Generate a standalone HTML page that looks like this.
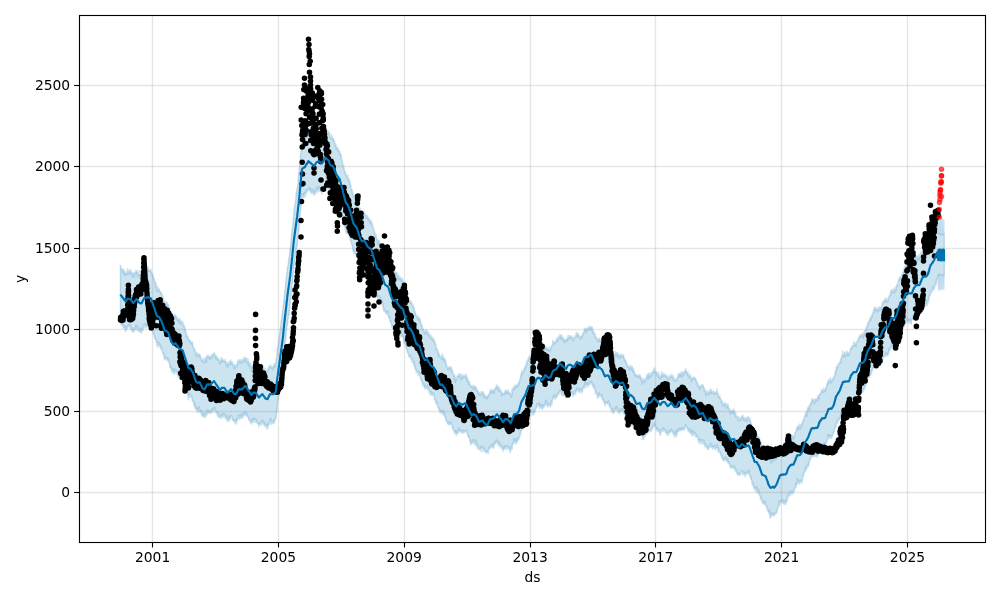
<!DOCTYPE html>
<html lang="en"><head><meta charset="utf-8"><title>Forecast</title>
<style>html,body{margin:0;padding:0;background:#fff}svg{display:block}</style></head>
<body>
<svg width="1000" height="600" viewBox="0 0 1000 600">
<rect width="1000" height="600" fill="#fff"/>
<defs><clipPath id="c"><rect x="79.5" y="15.5" width="906.0" height="527.0"/></clipPath></defs>
<g clip-path="url(#c)">
<path d="M120.4,265.3 120.6,266 120.7,268.6 120.9,265.7 121.1,269.1 121.3,268.5 121.4,268.2 121.6,269.3 121.8,269.4 121.9,270.6 122.1,268.8 122.3,269.2 122.5,269.5 122.6,272.4 122.8,271.4 123,269.3 123.2,270.3 123.3,270.1 123.5,271.2 123.7,271.7 123.8,274.5 124,269.6 124.2,273.4 124.4,272.9 124.5,271.7 124.7,272.6 124.9,272.4 125,273.3 125.2,274.8 125.4,271.8 125.6,275.6 125.7,273.5 125.9,275.6 126.1,274 126.3,274.8 126.4,273.7 126.6,274.1 126.8,272.6 126.9,271.3 127.1,272.9 127.3,272.7 127.5,274.2 127.6,268.8 127.8,271.1 128,272.7 128.1,269.8 128.3,271.1 128.5,274 128.7,273.1 128.8,270.3 129,273.2 129.2,272.9 129.4,272.4 129.5,271.9 129.7,271.7 129.9,270.4 130,270.8 130.2,272.5 130.4,272 130.6,274.3 130.7,271.8 130.9,269.5 131.1,272.3 131.2,273.3 131.4,273.7 131.6,273.5 131.8,272.6 131.9,275.8 132.1,273.3 132.3,275.2 132.5,274.2 132.6,273.3 132.8,276.8 133,272.2 133.1,274.5 133.3,275.9 133.5,274.7 133.7,275.9 133.8,274.6 134,274 134.2,277.1 134.3,273.9 134.5,273.8 134.7,272.4 134.9,272.6 135,274.2 135.2,273.9 135.4,273 135.6,271.9 135.7,273.5 135.9,270.3 136.1,271.8 136.2,271.7 136.4,270.8 136.6,271.8 136.8,270.9 136.9,270.9 137.1,274.4 137.3,273.3 137.4,274.1 137.6,272.9 137.8,274.3 138,274.3 138.1,275.1 138.3,276.8 138.5,273.8 138.7,274.6 138.8,274.4 139,270.3 139.2,273.2 139.3,275.2 139.5,276.2 139.7,274.9 139.9,277.1 140,277.3 140.2,275.2 140.4,277.5 140.5,277.9 140.7,276.3 140.9,274.5 141.1,277.6 141.2,275.6 141.4,275.3 141.6,276 141.8,275 141.9,276.6 142.1,275.9 142.3,276 142.4,274.9 142.6,272.8 142.8,273.2 143,274.1 143.1,272.2 143.3,276 143.5,271.6 143.6,270.8 143.8,272.6 144,271.8 144.2,270.5 144.3,270.2 144.5,271 144.7,271.5 144.9,271.4 145,270 145.2,270.9 145.4,271.4 145.5,271.3 145.7,266.4 145.9,269.1 146.1,269.3 146.2,269.9 146.4,270.4 146.6,271.3 146.7,270.9 146.9,269.9 147.1,270.1 147.3,272.3 147.4,269.3 147.6,270.4 147.8,271.8 148,270.1 148.1,267.1 148.3,270.2 148.5,269.3 148.6,269.8 148.8,271.3 149,270.7 149.2,269.8 149.3,271.3 149.5,270.9 149.7,270.5 149.8,270.9 150,270.9 150.2,270.2 150.4,270.2 150.5,270.8 150.7,269.7 150.9,269.4 151.1,272.7 151.2,271.2 151.4,271.9 151.6,272.3 151.7,273 151.9,273.5 152.1,274.1 152.3,273.5 152.4,276.2 152.6,274.7 152.8,277.4 152.9,274.2 153.1,275.8 153.3,278.9 153.5,278 153.6,277.8 153.8,279.7 154,278.4 154.2,280.3 154.3,278 154.5,280.7 154.7,281 154.8,283 155,283.9 155.2,282.3 155.4,285.9 155.5,283.6 155.7,282.3 155.9,282.4 156,287.8 156.2,286.3 156.4,286.1 156.6,286.5 156.7,286.6 156.9,290.2 157.1,288.9 157.3,291.3 157.4,288.9 157.6,286.2 157.8,290.3 157.9,288.8 158.1,289 158.3,291.3 158.5,289.1 158.6,290.9 158.8,289.5 159,288.6 159.1,290.3 159.3,289.2 159.5,291.8 159.7,291.7 159.8,290.9 160,291.9 160.2,292.1 160.4,291.3 160.5,293.1 160.7,292 160.9,293.3 161,291.7 161.2,293.3 161.4,294 161.6,292.7 161.7,293.7 161.9,294 162.1,296.1 162.2,294.8 162.4,296.8 162.6,298.7 162.8,297.7 162.9,295.8 163.1,298.5 163.3,300.1 163.5,299 163.6,301.3 163.8,301.2 164,301.4 164.1,301.1 164.3,301.3 164.5,302.1 164.7,302.9 164.8,303.6 165,303.5 165.2,302.7 165.3,303.3 165.5,303.7 165.7,301.3 165.9,302.5 166,302.5 166.2,303.4 166.4,303.3 166.5,303.5 166.7,302.8 166.9,304.8 167.1,304.4 167.2,302.1 167.4,304.2 167.6,302.9 167.8,306.5 167.9,303.9 168.1,304.1 168.3,305.2 168.4,305.3 168.6,306 168.8,308.6 169,307.4 169.1,308.7 169.3,309.6 169.5,307.5 169.6,311.3 169.8,310.6 170,311.4 170.2,309.7 170.3,312.3 170.5,312.3 170.7,311.6 170.9,315.7 171,314 171.2,313.4 171.4,314.3 171.5,315.5 171.7,316 171.9,315.6 172.1,316.7 172.2,317.4 172.4,314.3 172.6,315.5 172.7,315.3 172.9,316.8 173.1,318.8 173.3,317.8 173.4,315.6 173.6,316.4 173.8,318 174,315.9 174.1,316.4 174.3,316.8 174.5,314.1 174.6,317.2 174.8,316.6 175,316.8 175.2,314.8 175.3,315 175.5,315.1 175.7,316.2 175.8,316.2 176,316.6 176.2,318.9 176.4,318.6 176.5,316.3 176.7,316.6 176.9,319.9 177.1,317.6 177.2,319.9 177.4,320.5 177.6,318.1 177.7,318.7 177.9,319.4 178.1,318.4 178.3,318.5 178.4,319.5 178.6,321.4 178.8,320 178.9,320.5 179.1,320.5 179.3,319.4 179.5,323.1 179.6,318.4 179.8,320.6 180,322.2 180.2,319.8 180.3,322.4 180.5,323.3 180.7,320.7 180.8,322.1 181,320.6 181.2,322.7 181.4,322.2 181.5,322.5 181.7,324 181.9,323 182,324.1 182.2,323.3 182.4,321.1 182.6,323.1 182.7,323.9 182.9,322 183.1,325.9 183.3,324.9 183.4,325.8 183.6,324.7 183.8,326.4 183.9,327.2 184.1,327 184.3,328 184.5,325.8 184.6,330.6 184.8,328 185,327.2 185.1,329.3 185.3,329.9 185.5,332.2 185.7,330.9 185.8,332.9 186,331.8 186.2,336.3 186.4,334.8 186.5,337 186.7,333.8 186.9,336.5 187,334.9 187.2,337.4 187.4,338 187.6,335.7 187.7,336.8 187.9,337.3 188.1,337.4 188.2,338.8 188.4,339.1 188.6,338.9 188.8,340.8 188.9,341.4 189.1,339.2 189.3,340.1 189.5,340.9 189.6,340.6 189.8,340.1 190,342 190.1,342.1 190.3,341.9 190.5,340.9 190.7,343.8 190.8,343.8 191,341.4 191.2,342.1 191.3,344 191.5,341.8 191.7,343.6 191.9,343.4 192,342.8 192.2,343.7 192.4,342.3 192.6,343.9 192.7,342.3 192.9,348 193.1,347.3 193.2,347.5 193.4,346.9 193.6,348.2 193.8,349.1 193.9,349.3 194.1,349.7 194.3,347.9 194.4,350.1 194.6,349.4 194.8,349.1 195,349.7 195.1,352.2 195.3,353.5 195.5,351 195.7,355.4 195.8,355.5 196,353.7 196.2,353.9 196.3,354.4 196.5,355.8 196.7,354.2 196.9,353.4 197,355.3 197.2,352.4 197.4,355.2 197.5,356.6 197.7,355.6 197.9,356.3 198.1,355.9 198.2,356.1 198.4,355.3 198.6,354 198.8,354.7 198.9,354.8 199.1,356.4 199.3,356.8 199.4,355.2 199.6,353.8 199.8,354.2 200,355.2 200.1,357.5 200.3,356.5 200.5,356.4 200.6,355.9 200.8,358.3 201,357.9 201.2,357.8 201.3,358.3 201.5,360.7 201.7,358.7 201.9,361.4 202,361.2 202.2,360 202.4,361.4 202.5,360.5 202.7,359.8 202.9,360.6 203.1,359.9 203.2,361.8 203.4,361.3 203.6,362.2 203.7,362.6 203.9,357.8 204.1,362.2 204.3,359.6 204.4,362.1 204.6,360.7 204.8,361.6 205,362.8 205.1,358.7 205.3,360.7 205.5,360 205.6,357.4 205.8,360.2 206,359.1 206.2,358.1 206.3,357.5 206.5,362.1 206.7,357.2 206.8,355.1 207,355.9 207.2,356.5 207.4,356.5 207.5,356.9 207.7,355.7 207.9,357.7 208,356.4 208.2,355.3 208.4,356 208.6,356.5 208.7,358 208.9,357.6 209.1,356.6 209.3,357 209.4,357.3 209.6,359.5 209.8,356.2 209.9,357.6 210.1,357.9 210.3,355.8 210.5,357.2 210.6,357.1 210.8,356.2 211,357.3 211.1,357.7 211.3,357.6 211.5,355.8 211.7,356.1 211.8,358.6 212,354.2 212.2,355.6 212.4,356.3 212.5,355.2 212.7,355.7 212.9,354.9 213,355.4 213.2,355.9 213.4,353.9 213.6,354.2 213.7,353.7 213.9,353.1 214.1,353.6 214.2,352.5 214.4,355.1 214.6,356.6 214.8,356.8 214.9,356.5 215.1,354 215.3,357.4 215.5,354.8 215.6,355.9 215.8,358.6 216,355.2 216.1,357.8 216.3,357.4 216.5,357.1 216.7,356.5 216.8,358.3 217,357.5 217.2,359.6 217.3,360.1 217.5,357.1 217.7,358.5 217.9,359 218,358.1 218.2,358.5 218.4,360.3 218.6,360.1 218.7,358.6 218.9,360.3 219.1,361.8 219.2,359.9 219.4,360.6 219.6,364 219.8,363.9 219.9,360.5 220.1,360.8 220.3,362.7 220.4,360.5 220.6,361.5 220.8,361 221,362.1 221.1,358 221.3,358.2 221.5,359.2 221.7,361.8 221.8,360.1 222,358 222.2,360.8 222.3,361.1 222.5,359.9 222.7,359.8 222.9,360.8 223,361.8 223.2,360.6 223.4,361.1 223.5,360.4 223.7,360 223.9,359.4 224.1,360.9 224.2,360.2 224.4,360.3 224.6,361.9 224.8,361.6 224.9,362.4 225.1,359.6 225.3,362.5 225.4,361.3 225.6,361.3 225.8,361.5 226,364.4 226.1,364.1 226.3,362.5 226.5,362.2 226.6,363.9 226.8,363.6 227,366.5 227.2,362.8 227.3,362.6 227.5,364.8 227.7,365 227.9,365 228,365.6 228.2,367.1 228.4,363.9 228.5,363.5 228.7,361.8 228.9,364.1 229.1,364.7 229.2,363.1 229.4,364.8 229.6,363.2 229.7,364.8 229.9,363.2 230.1,361.3 230.3,361.6 230.4,360.3 230.6,359.9 230.8,362.3 231,362.8 231.1,364.3 231.3,362.1 231.5,362.1 231.6,361.3 231.8,364.2 232,363.7 232.2,362.7 232.3,364.6 232.5,364.7 232.7,361.9 232.8,365.4 233,364.9 233.2,364.5 233.4,364.8 233.5,367.7 233.7,367.7 233.9,368.3 234.1,364.8 234.2,365.5 234.4,367.5 234.6,364.9 234.7,365.5 234.9,364.2 235.1,368.8 235.3,367.9 235.4,367.2 235.6,366.9 235.8,366.2 235.9,366.2 236.1,367.3 236.3,365.3 236.5,367.4 236.6,364.9 236.8,364.1 237,366.4 237.2,364.3 237.3,364.8 237.5,363.3 237.7,360.6 237.8,363.8 238,361.1 238.2,363.8 238.4,360.1 238.5,359.5 238.7,362.2 238.9,362.3 239,361.9 239.2,360.3 239.4,362.9 239.6,360 239.7,361.2 239.9,360.8 240.1,361.3 240.3,362.9 240.4,361 240.6,362.5 240.8,362.7 240.9,359.7 241.1,360.4 241.3,361.3 241.5,361.1 241.6,362.2 241.8,359.4 242,362.7 242.1,362.6 242.3,361.3 242.5,359.6 242.7,361.2 242.8,360.3 243,361.5 243.2,360.5 243.4,361.4 243.5,359.7 243.7,361.9 243.9,357.1 244,358.5 244.2,360.2 244.4,357.5 244.6,360.2 244.7,357.6 244.9,359 245.1,357.6 245.2,358 245.4,358.6 245.6,358.4 245.8,358.3 245.9,361.8 246.1,359.3 246.3,358.4 246.5,361 246.6,361.1 246.8,361.9 247,362.9 247.1,359.7 247.3,362.5 247.5,362.8 247.7,361.7 247.8,362.2 248,358.4 248.2,361.7 248.3,365 248.5,360.7 248.7,362.6 248.9,363.9 249,364.5 249.2,366.1 249.4,362.1 249.6,364.6 249.7,365.9 249.9,363.4 250.1,365.3 250.2,367.9 250.4,367.5 250.6,366.8 250.8,363.1 250.9,366.5 251.1,367.4 251.3,366.8 251.4,367.3 251.6,371.1 251.8,366.7 252,365.6 252.1,366.9 252.3,366 252.5,365.7 252.6,365.8 252.8,366.7 253,365.8 253.2,363.8 253.3,364.9 253.5,365.5 253.7,364.4 253.9,366.5 254,366 254.2,363.8 254.4,365.5 254.5,367.6 254.7,367.1 254.9,365.2 255.1,366.4 255.2,364.5 255.4,363.5 255.6,366.1 255.7,365.7 255.9,366.1 256.1,365.6 256.3,366.3 256.4,365.6 256.6,367 256.8,367.8 257,366.9 257.1,368.2 257.3,365.3 257.5,366.8 257.6,369.8 257.8,370.5 258,368.8 258.2,368.7 258.3,367.5 258.5,369.8 258.7,370.5 258.8,368 259,370.6 259.2,370.4 259.4,370.1 259.5,368 259.7,369.9 259.9,367.2 260.1,370.8 260.2,368.9 260.4,367.1 260.6,370.1 260.7,369.7 260.9,367.2 261.1,370.6 261.3,366.4 261.4,367.9 261.6,368.8 261.8,364.3 261.9,368.3 262.1,366.8 262.3,366.7 262.5,365.2 262.6,367.2 262.8,365.7 263,366.1 263.2,367 263.3,366.3 263.5,370.1 263.7,366.7 263.8,367.7 264,368.5 264.2,369.1 264.4,370.4 264.5,370.7 264.7,369.5 264.9,369.7 265,370.5 265.2,371.7 265.4,371.8 265.6,370.4 265.7,368.5 265.9,373.8 266.1,372.4 266.3,371.6 266.4,371.7 266.6,370.7 266.8,370.1 266.9,371 267.1,371.2 267.3,370.7 267.5,369.7 267.6,370.8 267.8,371.6 268,369.9 268.1,370.2 268.3,367.2 268.5,369.2 268.7,369 268.8,367.3 269,366.3 269.2,368.6 269.4,366.8 269.5,368.1 269.7,366.6 269.9,367.5 270,366.2 270.2,364.7 270.4,366.5 270.6,366.2 270.7,367.4 270.9,366 271.1,366.1 271.2,367.7 271.4,368.1 271.6,367.6 271.8,367.9 271.9,367.2 272.1,367.6 272.3,367.7 272.5,367.1 272.6,366.7 272.8,366.8 273,369.6 273.1,366.6 273.3,366.3 273.5,366.1 273.7,366.4 273.8,366.6 274,364.7 274.2,363.4 274.3,366.1 274.5,363.6 274.7,365.7 274.9,365.4 275,366.5 275.2,367 275.4,365.2 275.6,363.8 275.7,362.9 275.9,362.7 276.1,362 276.2,357.7 276.4,358.7 276.6,356.9 276.8,356 276.9,353.2 277.1,352.5 277.3,350.2 277.4,349.3 277.6,346.4 277.8,347.5 278,348 278.1,345.1 278.3,344.1 278.5,341.1 278.7,342.9 278.8,338.9 279,339.6 279.2,337.5 279.3,334.9 279.5,336.1 279.7,333.6 279.9,332.5 280,331.6 280.2,329.8 280.4,328.1 280.5,327.9 280.7,325.5 280.9,324.9 281.1,322.7 281.2,320.4 281.4,320.2 281.6,319.1 281.8,318.5 281.9,318.7 282.1,313.9 282.3,314.9 282.4,310.7 282.6,310.9 282.8,310.4 283,306.8 283.1,305.5 283.3,306.3 283.5,304.5 283.6,302.5 283.8,299.9 284,301.9 284.2,297.3 284.3,294.7 284.5,296.1 284.7,293.1 284.9,290.1 285,290.5 285.2,287.7 285.4,286.9 285.5,284.9 285.7,281.8 285.9,282.9 286.1,280.4 286.2,277.4 286.4,276.3 286.6,276.9 286.7,273.8 286.9,272.8 287.1,272.1 287.3,270 287.4,266.5 287.6,267.9 287.8,267 288,265.7 288.1,265.4 288.3,262.6 288.5,261.8 288.6,261.6 288.8,258 289,259.3 289.2,258 289.3,255.6 289.5,255.6 289.7,253.1 289.8,249.7 290,251 290.2,248.7 290.4,247.6 290.5,245.7 290.7,245.5 290.9,242.8 291.1,239.6 291.2,239.3 291.4,238 291.6,234.5 291.7,233.1 291.9,231.5 292.1,229.6 292.3,229.1 292.4,228.2 292.6,227.6 292.8,225.1 292.9,223.2 293.1,221.6 293.3,220.2 293.5,216.4 293.6,216 293.8,213.9 294,211.8 294.1,210.2 294.3,208.8 294.5,207.9 294.7,205.4 294.8,206.4 295,204.4 295.2,203.3 295.4,202.4 295.5,201.6 295.7,198.7 295.9,198.1 296,194.9 296.2,192.9 296.4,192 296.6,195.1 296.7,189.6 296.9,191.2 297.1,191 297.2,187.1 297.4,188.3 297.6,187.1 297.8,184.5 297.9,184.8 298.1,181.1 298.3,178 298.5,178.1 298.6,175.4 298.8,172.9 299,171.3 299.1,173.9 299.3,168.5 299.5,167.3 299.7,164.6 299.8,163.8 300,161.4 300.2,159.4 300.3,156.5 300.5,154.4 300.7,153.4 300.9,152.8 301,153.2 301.2,150.1 301.4,149.2 301.6,146 301.7,143.7 301.9,140.7 302.1,141.4 302.2,138.6 302.4,140.8 302.6,143.1 302.8,141.3 302.9,142.2 303.1,140.2 303.3,138.9 303.4,139.9 303.6,139.9 303.8,141.7 304,142.6 304.1,139.1 304.3,139.4 304.5,139.6 304.7,139.2 304.8,138 305,139.4 305.2,139.5 305.3,139.2 305.5,137 305.7,138 305.9,135.7 306,138.7 306.2,136 306.4,136.7 306.5,136.2 306.7,135.7 306.9,134.8 307.1,133.6 307.2,137.7 307.4,135.6 307.6,135.3 307.8,137.3 307.9,134.3 308.1,134.8 308.3,133.8 308.4,135.2 308.6,134.5 308.8,134.4 309,133.9 309.1,134.7 309.3,135.9 309.5,132 309.6,134.6 309.8,134.4 310,134.7 310.2,132.7 310.3,136.2 310.5,134.4 310.7,135.3 310.9,135.1 311,133.8 311.2,135.5 311.4,133.9 311.5,135.2 311.7,136.1 311.9,136.6 312.1,136.8 312.2,136.7 312.4,139.7 312.6,137.7 312.7,135.8 312.9,136.7 313.1,136.8 313.3,137.5 313.4,137.1 313.6,137 313.8,140.2 314,138.4 314.1,138 314.3,138.3 314.5,138.2 314.6,139.8 314.8,138.4 315,138.8 315.2,133.2 315.3,137.2 315.5,137.8 315.7,138.6 315.8,135.8 316,133.3 316.2,135.9 316.4,134.1 316.5,132.5 316.7,133.9 316.9,135.9 317.1,136 317.2,135.3 317.4,133 317.6,137.4 317.7,132.7 317.9,134 318.1,132.2 318.3,135.6 318.4,134.4 318.6,134.9 318.8,133.8 318.9,133.6 319.1,134.1 319.3,131.7 319.5,135.4 319.6,135.4 319.8,134 320,134.6 320.2,135.1 320.3,136.8 320.5,135.6 320.7,135.2 320.8,134.7 321,133.6 321.2,134.8 321.4,135.8 321.5,135.6 321.7,136.1 321.9,137 322,136.4 322.2,135.9 322.4,136.1 322.6,135.2 322.7,134.6 322.9,135 323.1,131.9 323.3,135.4 323.4,131.9 323.6,134.3 323.8,133 323.9,134 324.1,132.4 324.3,130.9 324.5,133.1 324.6,131.7 324.8,131.4 325,131 325.1,131.9 325.3,131.4 325.5,130.7 325.7,128.6 325.8,130.2 326,131 326.2,133.2 326.4,131.6 326.5,131.2 326.7,132.9 326.9,131.4 327,131.7 327.2,132 327.4,130.1 327.6,133.3 327.7,132.8 327.9,132.1 328.1,131.1 328.2,133 328.4,134.5 328.6,132.2 328.8,132.1 328.9,134.4 329.1,132.3 329.3,132 329.5,134.7 329.6,134.8 329.8,135.8 330,135.9 330.1,137.5 330.3,137.3 330.5,136.9 330.7,137.2 330.8,138.6 331,139.1 331.2,139.1 331.3,138.9 331.5,134 331.7,136.9 331.9,137.9 332,138.6 332.2,136.4 332.4,140.2 332.6,138.9 332.7,137.8 332.9,139 333.1,138.7 333.2,138.6 333.4,140.6 333.6,139.8 333.8,139.1 333.9,140.4 334.1,141.5 334.3,140.7 334.4,144.1 334.6,141.5 334.8,145.5 335,144.8 335.1,143 335.3,144.7 335.5,146.4 335.7,145.1 335.8,144.3 336,146.3 336.2,149.1 336.3,145.2 336.5,148 336.7,147.5 336.9,147.6 337,147.5 337.2,147.8 337.4,149.8 337.5,149.5 337.7,147.7 337.9,151.1 338.1,147.8 338.2,150.5 338.4,150.1 338.6,151.7 338.7,150.8 338.9,152 339.1,150.8 339.3,152.3 339.4,151.8 339.6,154.3 339.8,151 340,154 340.1,153.7 340.3,154 340.5,153.8 340.6,155.7 340.8,154 341,154.8 341.2,158.1 341.3,155.9 341.5,160.3 341.7,158.8 341.8,160.2 342,160.6 342.2,161.7 342.4,161.5 342.5,162.1 342.7,163.1 342.9,165.2 343.1,166 343.2,166.8 343.4,166.4 343.6,166.3 343.7,165.1 343.9,168.7 344.1,169.6 344.3,168.8 344.4,170.9 344.6,172.2 344.8,171.4 344.9,173.3 345.1,173 345.3,171.1 345.5,173.4 345.6,174.1 345.8,175.9 346,174.4 346.2,175.1 346.3,174.7 346.5,176 346.7,176.4 346.8,177.7 347,177.7 347.2,177.1 347.4,177.4 347.5,177.4 347.7,177.6 347.9,179.7 348,175.1 348.2,178.5 348.4,179.5 348.6,181 348.7,178.7 348.9,180.9 349.1,182 349.3,180.8 349.4,179.4 349.6,181.8 349.8,181.2 349.9,184 350.1,182.5 350.3,186.3 350.5,184.9 350.6,184.4 350.8,185.4 351,185.4 351.1,187.9 351.3,189.9 351.5,188.5 351.7,190.6 351.8,188.9 352,191.1 352.2,194.3 352.4,190.3 352.5,194.3 352.7,194.9 352.9,191.8 353,193 353.2,194.2 353.4,197.1 353.6,195.6 353.7,196.2 353.9,197.5 354.1,197 354.2,197.4 354.4,197 354.6,199 354.8,196.9 354.9,200.2 355.1,197.9 355.3,197.6 355.5,199.6 355.6,199.6 355.8,196.8 356,199.8 356.1,198 356.3,198.8 356.5,200.9 356.7,199 356.8,200.7 357,200.4 357.2,203.8 357.3,201.8 357.5,201 357.7,201.7 357.9,202.5 358,204.3 358.2,204.7 358.4,206.5 358.6,206.1 358.7,206.6 358.9,207.4 359.1,207.4 359.2,208.5 359.4,209.6 359.6,210.2 359.8,209.1 359.9,207.9 360.1,209.5 360.3,211.2 360.4,208.1 360.6,210.9 360.8,212.4 361,211.5 361.1,211.2 361.3,215.1 361.5,215 361.7,213.3 361.8,215.5 362,215.4 362.2,212.4 362.3,217.1 362.5,212.5 362.7,213.3 362.9,212.2 363,213.7 363.2,211.9 363.4,213.5 363.5,214.8 363.7,213.7 363.9,213 364.1,215.2 364.2,212.1 364.4,214.6 364.6,213.3 364.8,214.3 364.9,214.4 365.1,214.8 365.3,214.9 365.4,214.2 365.6,214.8 365.8,216.4 366,216 366.1,215 366.3,215.8 366.5,216.2 366.6,217.2 366.8,217.8 367,218 367.2,217.4 367.3,218.5 367.5,217.1 367.7,215.5 367.9,219.3 368,217.4 368.2,218.4 368.4,218.2 368.5,220.6 368.7,218.5 368.9,220.5 369.1,219.6 369.2,218.8 369.4,218.5 369.6,221.2 369.7,221.2 369.9,221.8 370.1,223.3 370.3,221.4 370.4,221.6 370.6,221.2 370.8,221.6 371,221.2 371.1,220.6 371.3,224.4 371.5,220.2 371.6,223.4 371.8,224.2 372,224.4 372.2,223.5 372.3,225.1 372.5,225.3 372.7,225.1 372.8,226.9 373,227 373.2,227.4 373.4,229.5 373.5,227.9 373.7,230.3 373.9,229.6 374.1,231.4 374.2,231.5 374.4,232.3 374.6,231.3 374.7,232.1 374.9,232.6 375.1,234.4 375.3,235.7 375.4,236.7 375.6,235.3 375.8,236.6 375.9,235 376.1,234.8 376.3,237 376.5,237.9 376.6,237.3 376.8,237.6 377,241 377.2,239.9 377.3,239.2 377.5,244.3 377.7,241.7 377.8,241.1 378,242.5 378.2,240.7 378.4,243.8 378.5,239.9 378.7,240.3 378.9,241.9 379,241.2 379.2,244 379.4,240.5 379.6,241.9 379.7,243.5 379.9,244.2 380.1,245.1 380.2,244.6 380.4,247.2 380.6,244.2 380.8,245.4 380.9,246.6 381.1,245.4 381.3,245.8 381.5,245.9 381.6,246 381.8,245.8 382,247.1 382.1,246.4 382.3,249.4 382.5,247.5 382.7,252.6 382.8,252.7 383,252.5 383.2,251.4 383.3,251.5 383.5,254.3 383.7,253.6 383.9,254.6 384,253.6 384.2,256.4 384.4,254.6 384.6,256.3 384.7,254.5 384.9,256.1 385.1,257.6 385.2,256.6 385.4,256.7 385.6,258.4 385.8,257.4 385.9,259.2 386.1,254.8 386.3,258.6 386.4,258.7 386.6,256.2 386.8,256.7 387,259.5 387.1,257.2 387.3,257.9 387.5,259.6 387.7,258.5 387.8,259.7 388,258.1 388.2,259.7 388.3,261 388.5,260.6 388.7,258.1 388.9,262.2 389,262 389.2,261.3 389.4,264.8 389.5,261.4 389.7,266.5 389.9,263.9 390.1,267.2 390.2,265.8 390.4,264.7 390.6,267.1 390.8,267.9 390.9,268.7 391.1,269.9 391.3,268 391.4,270.1 391.6,270.8 391.8,269.8 392,269.4 392.1,269.7 392.3,272.1 392.5,272.5 392.6,270.9 392.8,270.6 393,274.1 393.2,271 393.3,273.3 393.5,272 393.7,270.8 393.9,273.1 394,272.7 394.2,274.6 394.4,275.6 394.5,272.5 394.7,274 394.9,274 395.1,272 395.2,271.5 395.4,274.5 395.6,272 395.7,272.4 395.9,272.4 396.1,272.9 396.3,272.6 396.4,274.6 396.6,275.5 396.8,273.8 397,272.8 397.1,274.9 397.3,273.3 397.5,274.7 397.6,277.3 397.8,278.9 398,276.8 398.2,275.3 398.3,277.9 398.5,274.5 398.7,276.7 398.8,279.8 399,279.1 399.2,276.7 399.4,276.6 399.5,279.8 399.7,278.8 399.9,278.3 400.1,279.7 400.2,278.6 400.4,277 400.6,280.5 400.7,278.8 400.9,278.5 401.1,278.2 401.3,280.3 401.4,279.2 401.6,281.1 401.8,280.1 401.9,281.9 402.1,280.2 402.3,280 402.5,278.5 402.6,279.7 402.8,282.3 403,285.8 403.2,281 403.3,281.8 403.5,284.1 403.7,284.8 403.8,283.9 404,285.4 404.2,283.9 404.4,286.1 404.5,288.1 404.7,289.6 404.9,287.9 405,288.4 405.2,289.8 405.4,291.2 405.6,291 405.7,290 405.9,291.9 406.1,293.2 406.3,291.7 406.4,291.5 406.6,294.4 406.8,294.7 406.9,296 407.1,295.5 407.3,295.2 407.5,296 407.6,295.8 407.8,296.5 408,297.5 408.1,298.1 408.3,300.7 408.5,298.3 408.7,300.4 408.8,299.9 409,302.6 409.2,301.1 409.4,300.4 409.5,302 409.7,301.1 409.9,300.5 410,303.1 410.2,302.2 410.4,303.5 410.6,302.9 410.7,302.6 410.9,302.1 411.1,300.9 411.2,303.5 411.4,303 411.6,304.1 411.8,303.6 411.9,303.1 412.1,303 412.3,305.5 412.5,306.6 412.6,304.9 412.8,306.2 413,307.7 413.1,305.3 413.3,306.4 413.5,305.9 413.7,309.4 413.8,308.8 414,308.4 414.2,307.5 414.3,309.9 414.5,311.9 414.7,310.9 414.9,311.3 415,313.2 415.2,311.4 415.4,313.5 415.6,314.8 415.7,313.6 415.9,314.1 416.1,316 416.2,316.1 416.4,316 416.6,316.7 416.8,316.8 416.9,315.5 417.1,316 417.3,317.5 417.4,318.5 417.6,318.9 417.8,316.3 418,318.8 418.1,318.5 418.3,317.7 418.5,318.5 418.7,319 418.8,320.3 419,316.9 419.2,319.1 419.3,318.3 419.5,318.4 419.7,320.2 419.9,320.3 420,318.6 420.2,320 420.4,321.2 420.5,319.8 420.7,323.1 420.9,322.5 421.1,323.4 421.2,324.2 421.4,326.5 421.6,324.9 421.8,325 421.9,328.1 422.1,325.9 422.3,326.4 422.4,325.9 422.6,329.5 422.8,329 423,329.6 423.1,329.6 423.3,329.5 423.5,329.1 423.6,329.4 423.8,331.3 424,331.2 424.2,333.4 424.3,330.8 424.5,331.5 424.7,331.2 424.8,334.2 425,330.9 425.2,333.3 425.4,334.1 425.5,332.1 425.7,333.1 425.9,329.6 426.1,331.7 426.2,330.1 426.4,332.3 426.6,332 426.7,331 426.9,333.1 427.1,332.3 427.3,331.3 427.4,331.6 427.6,330.7 427.8,332.6 427.9,335.8 428.1,332.6 428.3,334.3 428.5,333.4 428.6,335.4 428.8,335.2 429,334.7 429.2,333.1 429.3,334.9 429.5,337.4 429.7,335.9 429.8,337.2 430,336.2 430.2,334.8 430.4,337.9 430.5,338.1 430.7,337.3 430.9,337.6 431,338.6 431.2,337.6 431.4,338.9 431.6,338.3 431.7,335.8 431.9,338.7 432.1,338.2 432.3,338.1 432.4,339.7 432.6,338.7 432.8,340.1 432.9,341 433.1,339.9 433.3,337.9 433.5,339.1 433.6,341.2 433.8,339.9 434,339.4 434.1,340.4 434.3,341.7 434.5,341.9 434.7,342.9 434.8,341.7 435,342.9 435.2,343.5 435.4,344.4 435.5,342.4 435.7,345.2 435.9,344.4 436,348.3 436.2,349 436.4,349.6 436.6,348.9 436.7,347.8 436.9,350 437.1,349 437.2,350.5 437.4,349.1 437.6,349.9 437.8,351.7 437.9,353.7 438.1,352 438.3,355.2 438.5,356.3 438.6,351.7 438.8,353.7 439,353.1 439.1,354.5 439.3,354.5 439.5,355.5 439.7,357.2 439.8,357.6 440,357.2 440.2,357.3 440.3,357.4 440.5,357.4 440.7,357.9 440.9,357.2 441,357.8 441.2,355.5 441.4,358.1 441.6,359.3 441.7,357.3 441.9,355.3 442.1,358.7 442.2,356.7 442.4,353.7 442.6,357.3 442.8,358.6 442.9,358.5 443.1,359.8 443.3,359.3 443.4,358.9 443.6,356.5 443.8,357.8 444,359.6 444.1,360.5 444.3,358.6 444.5,359.3 444.7,360.9 444.8,358.4 445,358.8 445.2,361.4 445.3,362.4 445.5,362 445.7,360.2 445.9,363.5 446,362.3 446.2,365.2 446.4,364.7 446.5,365.6 446.7,366.5 446.9,365.5 447.1,367.6 447.2,368.6 447.4,368 447.6,369.6 447.8,367.4 447.9,369.3 448.1,368.5 448.3,367 448.4,368.1 448.6,367.6 448.8,367.6 449,368.4 449.1,369.6 449.3,367.9 449.5,368.5 449.6,366.5 449.8,368.5 450,369.8 450.2,369.4 450.3,369 450.5,367.8 450.7,367.2 450.9,368.3 451,366.8 451.2,367.1 451.4,370.2 451.5,368.4 451.7,372.2 451.9,368.6 452.1,371.4 452.2,369.9 452.4,372 452.6,370.9 452.7,372.7 452.9,372.9 453.1,373 453.3,374.6 453.4,376.3 453.6,374.2 453.8,376.4 454,375.9 454.1,376.2 454.3,379.2 454.5,374.1 454.6,376.1 454.8,375 455,377.1 455.2,377.4 455.3,382.6 455.5,378.6 455.7,380.6 455.8,380.2 456,378.3 456.2,379.5 456.4,380.7 456.5,378.6 456.7,378.4 456.9,378.5 457.1,375.8 457.2,376.4 457.4,377.5 457.6,377.6 457.7,375.5 457.9,376 458.1,376 458.3,375.7 458.4,376.5 458.6,375.5 458.8,375.6 458.9,373.7 459.1,374.2 459.3,376 459.5,373.8 459.6,376.2 459.8,375.1 460,375 460.2,376.9 460.3,375.4 460.5,375.2 460.7,375.6 460.8,376.6 461,380 461.2,374 461.4,376.7 461.5,376.6 461.7,378.1 461.9,376.6 462,374.1 462.2,378.8 462.4,375.7 462.6,376.9 462.7,375.2 462.9,375.5 463.1,376.1 463.3,377.7 463.4,377.6 463.6,375.8 463.8,377 463.9,375.9 464.1,376.4 464.3,376.4 464.5,376.9 464.6,375.2 464.8,375.8 465,376.1 465.1,375.9 465.3,374.7 465.5,377.7 465.7,375.1 465.8,377 466,376.6 466.2,378.2 466.3,374.4 466.5,380 466.7,377.5 466.9,376.6 467,378.6 467.2,381.6 467.4,379.8 467.6,378 467.7,379.3 467.9,381.9 468.1,378.8 468.2,380.7 468.4,380.9 468.6,384.3 468.8,381.6 468.9,384 469.1,381.9 469.3,382.1 469.4,384.6 469.6,384.5 469.8,382 470,385.2 470.1,385.6 470.3,384.4 470.5,385.8 470.7,386.2 470.8,385.6 471,385.8 471.2,386.1 471.3,386.9 471.5,386 471.7,387.7 471.9,385.7 472,387.6 472.2,387.3 472.4,386 472.5,388.2 472.7,389.4 472.9,388.5 473.1,385.1 473.2,388.2 473.4,386.8 473.6,386.3 473.8,385.8 473.9,386.6 474.1,388.5 474.3,387.6 474.4,386.5 474.6,386.3 474.8,386.7 475,388.1 475.1,389.8 475.3,386.3 475.5,387.8 475.6,387.4 475.8,387.1 476,388.6 476.2,389 476.3,387 476.5,387.8 476.7,390.9 476.9,390.2 477,390.8 477.2,389.9 477.4,390.4 477.5,391.7 477.7,390.9 477.9,390.5 478.1,392.2 478.2,393.7 478.4,391.7 478.6,394.6 478.7,394.5 478.9,392.9 479.1,394.3 479.3,394.2 479.4,395 479.6,394.9 479.8,392.4 480,392.3 480.1,395.2 480.3,393.9 480.5,394.2 480.6,394.1 480.8,395.5 481,392 481.2,394.8 481.3,392.3 481.5,394.2 481.7,394.8 481.8,391.4 482,393.5 482.2,392.6 482.4,392.5 482.5,392.8 482.7,391.7 482.9,392.1 483.1,394.5 483.2,394.9 483.4,393.4 483.6,392.5 483.7,397.4 483.9,396.1 484.1,395.4 484.3,393.9 484.4,394.7 484.6,396 484.8,394.7 484.9,398.1 485.1,396.5 485.3,397 485.5,395.5 485.6,395.8 485.8,396 486,397.3 486.2,396.7 486.3,396.6 486.5,397.4 486.7,397.3 486.8,398.8 487,396.8 487.2,395.8 487.4,397 487.5,398.9 487.7,396.1 487.9,396.5 488,395.6 488.2,396.2 488.4,395.6 488.6,393.9 488.7,394.3 488.9,395.3 489.1,395.2 489.3,394.6 489.4,394.1 489.6,392.3 489.8,391.8 489.9,393.1 490.1,390.1 490.3,391.5 490.5,389.2 490.6,391 490.8,390.6 491,389.9 491.1,392.1 491.3,390.4 491.5,390.8 491.7,390.9 491.8,390.3 492,392.9 492.2,390.5 492.4,391.4 492.5,389.5 492.7,390.5 492.9,390.6 493,390.6 493.2,390.2 493.4,391.1 493.6,392.8 493.7,390.6 493.9,390.3 494.1,389.8 494.2,393.2 494.4,391.9 494.6,390.4 494.8,390.3 494.9,388.4 495.1,388.9 495.3,389.1 495.5,388.8 495.6,387.4 495.8,387.2 496,388.6 496.1,388.2 496.3,385 496.5,387.5 496.7,388.7 496.8,386.2 497,387 497.2,385.1 497.3,388.1 497.5,385.9 497.7,386 497.9,387.3 498,390.9 498.2,387.4 498.4,386.9 498.6,389.2 498.7,389.1 498.9,391.1 499.1,387.8 499.2,387.6 499.4,389.4 499.6,390.4 499.8,390.6 499.9,391.8 500.1,388.8 500.3,389.9 500.4,390.9 500.6,392.4 500.8,392.1 501,391.3 501.1,390.7 501.3,393.3 501.5,393.6 501.7,396 501.8,392.7 502,395.1 502.2,391.9 502.3,392.9 502.5,393 502.7,393.4 502.9,393.2 503,393.8 503.2,394.2 503.4,393.5 503.5,394.6 503.7,393.4 503.9,393.3 504.1,394.8 504.2,393.2 504.4,392.7 504.6,392.3 504.8,392.1 504.9,392.5 505.1,390.6 505.3,393 505.4,393.5 505.6,393 505.8,391 506,389.6 506.1,391.1 506.3,391.8 506.5,392.6 506.6,391.4 506.8,391.2 507,393.5 507.2,390.8 507.3,392.9 507.5,392.7 507.7,390.1 507.9,392.3 508,391.5 508.2,391.3 508.4,390.4 508.5,391 508.7,393.6 508.9,392.9 509.1,393.9 509.2,392.5 509.4,393.6 509.6,393.9 509.7,392.6 509.9,392.6 510.1,395.4 510.3,395.3 510.4,394.2 510.6,395.3 510.8,396.1 510.9,397.3 511.1,393.6 511.3,395 511.5,396.4 511.6,393.4 511.8,394.6 512,389.2 512.2,393.7 512.3,391.4 512.5,388.7 512.7,391.5 512.8,391.3 513,391.1 513.2,390.6 513.4,388.6 513.5,387.3 513.7,387.1 513.9,387.2 514,387.3 514.2,386.2 514.4,386.8 514.6,387.8 514.7,387 514.9,389.4 515.1,389.2 515.3,385.1 515.4,385.8 515.6,384.9 515.8,385 515.9,387.1 516.1,385.2 516.3,385 516.5,386 516.6,387.2 516.8,385.8 517,385.8 517.1,387.2 517.3,386.4 517.5,386.1 517.7,386.4 517.8,383.8 518,385 518.2,383.8 518.4,385.5 518.5,385 518.7,382.5 518.9,385.2 519,381.8 519.2,384.1 519.4,382.3 519.6,380.3 519.7,379.4 519.9,379.7 520.1,379.4 520.2,378 520.4,378.9 520.6,375.8 520.8,376.9 520.9,376.3 521.1,373.4 521.3,375.4 521.5,372.8 521.6,370.8 521.8,372.9 522,373 522.1,374.1 522.3,372.1 522.5,374.2 522.7,373.9 522.8,373.2 523,373.2 523.2,371.7 523.3,370.3 523.5,371.5 523.7,371.6 523.9,370.4 524,369.5 524.2,367.6 524.4,370 524.6,369.4 524.7,367 524.9,368.5 525.1,368.9 525.2,367.4 525.4,368.1 525.6,367.5 525.8,364.3 525.9,365.3 526.1,365.8 526.3,365.9 526.4,366 526.6,361.4 526.8,363.3 527,363.8 527.1,363.9 527.3,364 527.5,360.3 527.7,360.5 527.8,359.2 528,361.1 528.2,358 528.3,360.6 528.5,359.9 528.7,359.3 528.9,356 529,357.8 529.2,359.5 529.4,356.8 529.5,358.2 529.7,358.3 529.9,359.5 530.1,358.7 530.2,358.7 530.4,357.8 530.6,358.3 530.8,358.1 530.9,359.1 531.1,358 531.3,359.4 531.4,356 531.6,359.6 531.8,357.8 532,359.4 532.1,358.1 532.3,359 532.5,359.7 532.6,357.2 532.8,357.9 533,357.6 533.2,358 533.3,355.7 533.5,357.5 533.7,357.4 533.9,356.7 534,357.3 534.2,355.7 534.4,359.2 534.5,357.9 534.7,359.2 534.9,355.3 535.1,354.4 535.2,355.7 535.4,352.8 535.6,354.6 535.7,353 535.9,352.9 536.1,353.1 536.3,352.4 536.4,354.1 536.6,352.2 536.8,349.6 537,352.1 537.1,349.1 537.3,350.8 537.5,349.1 537.6,349.6 537.8,352.2 538,349.8 538.2,349.6 538.3,349.7 538.5,349.9 538.7,352 538.8,348.7 539,348.6 539.2,351 539.4,348.5 539.5,350.2 539.7,352.2 539.9,350.9 540.1,350.5 540.2,350.4 540.4,350.3 540.6,350.9 540.7,351.9 540.9,353.4 541.1,353.3 541.3,351.5 541.4,351.5 541.6,353.4 541.8,350.5 541.9,352.3 542.1,352.3 542.3,351.1 542.5,351 542.6,352.4 542.8,349.6 543,350.3 543.2,350.3 543.3,350.9 543.5,348.9 543.7,351.7 543.8,349.7 544,349.4 544.2,349.1 544.4,348.4 544.5,347.7 544.7,350.1 544.9,348.7 545,348 545.2,349.1 545.4,346.7 545.6,348.3 545.7,347.7 545.9,346.7 546.1,348.9 546.3,346.3 546.4,349.1 546.6,347.4 546.8,349.1 546.9,350.5 547.1,349.6 547.3,348.4 547.5,349.2 547.6,349 547.8,348.1 548,348.4 548.1,350 548.3,350.7 548.5,348.1 548.7,350.1 548.8,350.8 549,350.2 549.2,348.8 549.4,351.2 549.5,348.4 549.7,350.7 549.9,351.8 550,347.2 550.2,350 550.4,350 550.6,349.7 550.7,348.1 550.9,348.2 551.1,346.4 551.2,347.9 551.4,347.9 551.6,346 551.8,345.2 551.9,345.3 552.1,345.5 552.3,345.1 552.4,344.5 552.6,344.2 552.8,342.1 553,339.9 553.1,343.9 553.3,344.8 553.5,341.2 553.7,342 553.8,343.1 554,343.8 554.2,343.3 554.3,344 554.5,342.3 554.7,342.7 554.9,342.6 555,341.5 555.2,343.4 555.4,342.6 555.5,343 555.7,341.2 555.9,342.8 556.1,340.2 556.2,341.8 556.4,338.1 556.6,339.9 556.8,341.7 556.9,340 557.1,340.5 557.3,338 557.4,341.6 557.6,340.2 557.8,339.2 558,339.4 558.1,339 558.3,340.1 558.5,338.4 558.6,336 558.8,337.2 559,338.9 559.2,337.7 559.3,336.2 559.5,337.2 559.7,336.3 559.9,336.7 560,333.9 560.2,334.9 560.4,337 560.5,336.1 560.7,336.9 560.9,339 561.1,336.4 561.2,337.3 561.4,336.5 561.6,336.5 561.7,337.4 561.9,335.8 562.1,335.2 562.3,339.6 562.4,338 562.6,339.6 562.8,338.6 563,338.8 563.1,339.6 563.3,339.8 563.5,337.6 563.6,340.7 563.8,338.2 564,339.8 564.2,342.8 564.3,340 564.5,342.1 564.7,339.8 564.8,341.1 565,340.6 565.2,341.2 565.4,339.8 565.5,339.9 565.7,341.6 565.9,339.4 566.1,340.2 566.2,341.7 566.4,339.8 566.6,339.2 566.7,338.6 566.9,339.8 567.1,338.9 567.3,339.2 567.4,338.5 567.6,340.7 567.8,337.6 567.9,335.4 568.1,337.9 568.3,337.7 568.5,337.8 568.6,335.6 568.8,338.9 569,337.4 569.2,337.3 569.3,335.4 569.5,337.8 569.7,337.1 569.8,338.8 570,336.5 570.2,335.5 570.4,337.1 570.5,335.8 570.7,337.6 570.9,336 571,337.3 571.2,337.3 571.4,337.7 571.6,337.3 571.7,337.1 571.9,338.2 572.1,337.7 572.3,338.8 572.4,338.4 572.6,336.2 572.8,339 572.9,340.9 573.1,339.8 573.3,340.3 573.5,340.2 573.6,338.8 573.8,337.5 574,339.9 574.1,339.9 574.3,339 574.5,338.6 574.7,338.3 574.8,337.5 575,337.6 575.2,337 575.4,337.1 575.5,335.3 575.7,335.4 575.9,336.6 576,335.2 576.2,332.5 576.4,335.3 576.6,332.1 576.7,336.9 576.9,335.2 577.1,335.2 577.2,333.7 577.4,333.3 577.6,334.6 577.8,335 577.9,334.2 578.1,335.5 578.3,336.3 578.5,336.4 578.6,334.6 578.8,333.4 579,336.1 579.1,335.5 579.3,337 579.5,338.6 579.7,338.8 579.8,337.3 580,338.4 580.2,339 580.3,337 580.5,337.2 580.7,337.8 580.9,336.7 581,336.1 581.2,335.8 581.4,336.6 581.6,335.8 581.7,337.5 581.9,336.1 582.1,337.9 582.2,337.1 582.4,333.8 582.6,336.1 582.8,333.9 582.9,335.6 583.1,334.1 583.3,333 583.4,333.4 583.6,331.5 583.8,332.1 584,331.8 584.1,330.7 584.3,330.9 584.5,328.8 584.7,330.6 584.8,328.4 585,330.5 585.2,330.2 585.3,330.4 585.5,328.8 585.7,333 585.9,329 586,329.4 586.2,328.3 586.4,330.9 586.5,328.7 586.7,330.5 586.9,328.2 587.1,329.7 587.2,328.9 587.4,330.5 587.6,329 587.8,328.4 587.9,329.9 588.1,327.9 588.3,328 588.4,329.9 588.6,326.6 588.8,329.6 589,328 589.1,327.3 589.3,328.5 589.5,328.8 589.6,327.2 589.8,327.5 590,328.5 590.2,328.4 590.3,327.4 590.5,326.5 590.7,326.3 590.9,326.6 591,328.1 591.2,327.9 591.4,327.6 591.5,329.1 591.7,327.5 591.9,327.8 592.1,328.2 592.2,331.3 592.4,327 592.6,330.2 592.7,330.7 592.9,330.7 593.1,333.7 593.3,332.8 593.4,332.7 593.6,331.1 593.8,333.1 594,332.5 594.1,333.4 594.3,333.9 594.5,333.5 594.6,335.2 594.8,336.8 595,336.5 595.2,335.9 595.3,333.7 595.5,337.7 595.7,338.1 595.8,336.9 596,337 596.2,338.7 596.4,337.4 596.5,339.7 596.7,337.8 596.9,338.4 597,339.9 597.2,338.6 597.4,340.7 597.6,341.2 597.7,339 597.9,341.5 598.1,339.7 598.3,340.9 598.4,340.4 598.6,339.5 598.8,339.4 598.9,337.9 599.1,339 599.3,338.8 599.5,341.6 599.6,341.1 599.8,338.4 600,341.1 600.1,340.6 600.3,340.1 600.5,341.2 600.7,341.8 600.8,340.4 601,340.9 601.2,341.5 601.4,340.4 601.5,341.9 601.7,341.7 601.9,341.2 602,341.4 602.2,343.1 602.4,344.1 602.6,343.9 602.7,342.9 602.9,345.1 603.1,344.9 603.2,345.7 603.4,346.8 603.6,344.8 603.8,346 603.9,345.9 604.1,346 604.3,349.7 604.5,348.8 604.6,346.1 604.8,349 605,348.1 605.1,350 605.3,348.7 605.5,348.4 605.7,348.7 605.8,349 606,348.5 606.2,348.2 606.3,348.2 606.5,348.9 606.7,347 606.9,348.2 607,348.1 607.2,347.6 607.4,349 607.6,346.6 607.7,347.6 607.9,347 608.1,348.6 608.2,347.3 608.4,347.9 608.6,348.7 608.8,346.8 608.9,349.6 609.1,348.5 609.3,349.5 609.4,350.1 609.6,351.5 609.8,351.8 610,353.4 610.1,351.9 610.3,351.6 610.5,351.9 610.7,353.7 610.8,355.2 611,354.1 611.2,353.4 611.3,354.8 611.5,355 611.7,354.9 611.9,354.2 612,352.2 612.2,354.7 612.4,356.8 612.5,356 612.7,353.3 612.9,356.1 613.1,354.1 613.2,358.7 613.4,356.8 613.6,354.9 613.8,357 613.9,355 614.1,356.3 614.3,355.5 614.4,353.9 614.6,355.8 614.8,353.2 615,356.2 615.1,354.4 615.3,353 615.5,351.8 615.6,355.6 615.8,355.2 616,352 616.2,355.5 616.3,353.9 616.5,353.6 616.7,353.9 616.9,353.8 617,355.9 617.2,354.5 617.4,352.4 617.5,357.1 617.7,355.8 617.9,353.6 618.1,354.6 618.2,354.1 618.4,355.3 618.6,355.9 618.7,355.8 618.9,355 619.1,354.8 619.3,356.9 619.4,355.9 619.6,358.6 619.8,355 620,356.8 620.1,355.9 620.3,354.9 620.5,357.3 620.6,355.8 620.8,354.6 621,355.2 621.2,356.7 621.3,354 621.5,357 621.7,356.2 621.8,355 622,356.9 622.2,357.3 622.4,355.9 622.5,355.3 622.7,357.3 622.9,356.9 623.1,354.4 623.2,355.7 623.4,356 623.6,356.2 623.7,355.3 623.9,358.5 624.1,357.9 624.3,358.3 624.4,360.2 624.6,358.3 624.8,359.3 624.9,360.1 625.1,359.6 625.3,360.4 625.5,361.8 625.6,361.3 625.8,363.2 626,361.2 626.2,362.7 626.3,361.2 626.5,363.1 626.7,362.8 626.8,365.6 627,365.3 627.2,365.4 627.4,367.3 627.5,367.2 627.7,366.8 627.9,365.5 628,365 628.2,367.1 628.4,367.1 628.6,367.1 628.7,367.9 628.9,366.5 629.1,370.1 629.3,367 629.4,367.4 629.6,368.8 629.8,366.1 629.9,369 630.1,369 630.3,367.4 630.5,366.4 630.6,367.1 630.8,365.3 631,369.2 631.1,367.8 631.3,367.1 631.5,367 631.7,368.9 631.8,370.2 632,367.1 632.2,368.1 632.4,366.8 632.5,369.9 632.7,369.4 632.9,372.1 633,369.4 633.2,369.2 633.4,369.1 633.6,371.3 633.7,368.8 633.9,372 634.1,371.8 634.2,371.3 634.4,371.2 634.6,373.9 634.8,375.2 634.9,372.9 635.1,374.4 635.3,376.2 635.5,373.8 635.6,374.6 635.8,373.9 636,375.5 636.1,376 636.3,376 636.5,375.7 636.7,374.6 636.8,374.9 637,375.2 637.2,377.1 637.3,375.7 637.5,375.3 637.7,377 637.9,376.8 638,375.2 638.2,375.3 638.4,376.8 638.5,376.4 638.7,375 638.9,376.2 639.1,375.8 639.2,377.2 639.4,374.7 639.6,376.8 639.8,376.2 639.9,374.6 640.1,377.5 640.3,377.7 640.4,375.4 640.6,379.7 640.8,376.4 641,377.1 641.1,378.2 641.3,379.8 641.5,380 641.6,379.6 641.8,381.7 642,381 642.2,382.4 642.3,384.3 642.5,381.3 642.7,378.2 642.9,381 643,380.2 643.2,381.6 643.4,381.6 643.5,380 643.7,380.1 643.9,381.2 644.1,381.3 644.2,378.4 644.4,382.6 644.6,381.5 644.7,381.5 644.9,381.7 645.1,379.7 645.3,380.5 645.4,381.4 645.6,381 645.8,379.9 646,378.6 646.1,377.6 646.3,379.8 646.5,378.4 646.6,376.9 646.8,374.4 647,375.5 647.2,373.9 647.3,377.3 647.5,376 647.7,374.8 647.8,375.3 648,378.7 648.2,377 648.4,373.9 648.5,375.3 648.7,373.9 648.9,373.2 649.1,375.5 649.2,378.2 649.4,377.1 649.6,375.2 649.7,374.6 649.9,375.3 650.1,376.3 650.3,373.2 650.4,372.6 650.6,377.2 650.8,375.2 650.9,376.6 651.1,374.7 651.3,376 651.5,373.2 651.6,374.4 651.8,375.5 652,374.6 652.2,372.5 652.3,374 652.5,371.8 652.7,370.7 652.8,372.9 653,373.7 653.2,372.8 653.4,370 653.5,372.4 653.7,371.9 653.9,370.3 654,367.6 654.2,371.7 654.4,371.5 654.6,371.3 654.7,368.7 654.9,369.2 655.1,372.5 655.3,372.5 655.4,372.3 655.6,371.6 655.8,372.6 655.9,371.7 656.1,372.1 656.3,371.7 656.5,373.3 656.6,372.6 656.8,374.6 657,374.5 657.1,372.8 657.3,376.3 657.5,372.8 657.7,375 657.8,376 658,376.4 658.2,372.3 658.4,376.5 658.5,377 658.7,377.5 658.9,373.1 659,375.3 659.2,376.2 659.4,376 659.6,378.4 659.7,376.1 659.9,378.7 660.1,378.1 660.2,375.8 660.4,376.2 660.6,376.6 660.8,377.1 660.9,377.9 661.1,376.2 661.3,377.3 661.5,373.9 661.6,371.8 661.8,374.9 662,375.7 662.1,374.4 662.3,373.3 662.5,375.1 662.7,377 662.8,374.4 663,373.6 663.2,373.5 663.3,377 663.5,374.4 663.7,375.2 663.9,376 664,375.8 664.2,373.3 664.4,375.7 664.6,375.6 664.7,375.2 664.9,376 665.1,374.2 665.2,375.1 665.4,374.8 665.6,376.6 665.8,375.1 665.9,376.7 666.1,375 666.3,376.5 666.4,376.5 666.6,377 666.8,377.6 667,377.4 667.1,377.6 667.3,375.5 667.5,379.8 667.7,377.9 667.8,378.5 668,377.6 668.2,379.7 668.3,377.1 668.5,378.7 668.7,379.4 668.9,379.8 669,379 669.2,378.1 669.4,375.7 669.5,378.6 669.7,378.3 669.9,377.7 670.1,377.4 670.2,376.3 670.4,375.4 670.6,377.2 670.8,377.3 670.9,374.2 671.1,376.5 671.3,375.4 671.4,376.4 671.6,375.9 671.8,377.2 672,377.3 672.1,377.4 672.3,374.8 672.5,377.8 672.6,377.1 672.8,375.9 673,378.4 673.2,376.1 673.3,379.1 673.5,380.4 673.7,377.9 673.9,379.9 674,379.6 674.2,380.1 674.4,377.7 674.5,380.2 674.7,379.6 674.9,380.4 675.1,379.5 675.2,380.9 675.4,379.9 675.6,380.5 675.7,381.4 675.9,379.9 676.1,381 676.3,380 676.4,380.1 676.6,378.5 676.8,379.7 677,379.9 677.1,378 677.3,378.7 677.5,377.9 677.6,375.6 677.8,377.1 678,377.9 678.2,375.3 678.3,373.4 678.5,375.5 678.7,374.1 678.8,376.9 679,374.5 679.2,374.6 679.4,373.8 679.5,374.9 679.7,373.8 679.9,373.4 680.1,374.4 680.2,373.5 680.4,376.1 680.6,373 680.7,374.4 680.9,373.6 681.1,372.7 681.3,376.5 681.4,371.8 681.6,376.2 681.8,372.7 681.9,374.5 682.1,377.1 682.3,371.7 682.5,372.5 682.6,375.6 682.8,374 683,372.9 683.1,373.4 683.3,372.1 683.5,373.2 683.7,374.7 683.8,372.2 684,372.7 684.2,373.8 684.4,374.6 684.5,371.2 684.7,372.1 684.9,370.9 685,370.6 685.2,370.7 685.4,370.2 685.6,368.7 685.7,368.2 685.9,369.9 686.1,371.2 686.2,372.8 686.4,370.9 686.6,371.6 686.8,372.9 686.9,373.2 687.1,372.4 687.3,372.7 687.5,375.3 687.6,372.9 687.8,372.9 688,371.8 688.1,374.5 688.3,373.9 688.5,376.8 688.7,374.3 688.8,376 689,376.4 689.2,377.5 689.3,374.1 689.5,377.9 689.7,376.2 689.9,376.3 690,376.3 690.2,376.5 690.4,376.8 690.6,374.6 690.7,378.3 690.9,378 691.1,377 691.2,378.4 691.4,381.5 691.6,379.4 691.8,378.7 691.9,381 692.1,377.8 692.3,378.5 692.4,377.9 692.6,378.2 692.8,379.3 693,379 693.1,377.3 693.3,377.9 693.5,378.1 693.7,377.4 693.8,377.9 694,377.2 694.2,377.3 694.3,378.4 694.5,377.3 694.7,379.2 694.9,378.6 695,377.9 695.2,378.4 695.4,378.7 695.5,379.2 695.7,379.7 695.9,379.5 696.1,378.8 696.2,381.8 696.4,381.5 696.6,380.9 696.8,382.3 696.9,381.9 697.1,381.6 697.3,382.4 697.4,385.9 697.6,384.2 697.8,384.7 698,383.3 698.1,384.9 698.3,387.3 698.5,385.4 698.6,386.6 698.8,387.2 699,386.8 699.2,388.3 699.3,386.9 699.5,387.1 699.7,385.7 699.9,389.6 700,386.7 700.2,386.4 700.4,387.9 700.5,385.6 700.7,386.1 700.9,385.1 701.1,386.1 701.2,385.5 701.4,386.6 701.6,385.7 701.7,385.1 701.9,385.4 702.1,385.6 702.3,385 702.4,386.7 702.6,386.4 702.8,385.7 703,384.5 703.1,386.9 703.3,385.1 703.5,387.3 703.6,387.5 703.8,387.1 704,387.2 704.2,387.7 704.3,391.4 704.5,389 704.7,389.5 704.8,391.2 705,391 705.2,392.1 705.4,389.7 705.5,390.3 705.7,396 705.9,392.1 706.1,392 706.2,392.7 706.4,393.9 706.6,391.4 706.7,393.3 706.9,393.1 707.1,394.1 707.3,393.7 707.4,393 707.6,392.7 707.8,390.9 707.9,394.8 708.1,391.7 708.3,392.7 708.5,395 708.6,392.3 708.8,393.3 709,392 709.2,392.9 709.3,391.9 709.5,391 709.7,393 709.8,390.9 710,389.3 710.2,390.3 710.4,391.4 710.5,389.5 710.7,391.9 710.9,392 711,393.7 711.2,390.5 711.4,392.2 711.6,389.5 711.7,391.1 711.9,391.9 712.1,392.4 712.3,391.9 712.4,392 712.6,391.5 712.8,391.8 712.9,392.8 713.1,393.3 713.3,393.5 713.5,394 713.6,394.4 713.8,390.9 714,392.3 714.1,392.7 714.3,392.1 714.5,394 714.7,393.6 714.8,392.5 715,392.8 715.2,394.1 715.4,392.1 715.5,392.1 715.7,393.5 715.9,392.9 716,394 716.2,392.7 716.4,393.1 716.6,391.4 716.7,390.9 716.9,392 717.1,388.7 717.2,392.5 717.4,393.5 717.6,392.8 717.8,392.9 717.9,394.8 718.1,393.8 718.3,395.4 718.5,397.2 718.6,395.9 718.8,396.5 719,396.3 719.1,396.4 719.3,396.8 719.5,397 719.7,398.5 719.8,395.7 720,397.7 720.2,399.2 720.3,397.7 720.5,399 720.7,398.7 720.9,400.4 721,401.3 721.2,402.4 721.4,401.6 721.6,400.5 721.7,402.1 721.9,402.8 722.1,404.2 722.2,400.3 722.4,403.7 722.6,401.5 722.8,404.9 722.9,404.9 723.1,405.4 723.3,406 723.4,405.3 723.6,404 723.8,405.1 724,406 724.1,404.3 724.3,404.4 724.5,402.8 724.6,405.6 724.8,403.5 725,403.1 725.2,403.4 725.3,403 725.5,403.8 725.7,405.8 725.9,405.4 726,406.3 726.2,406.5 726.4,403.8 726.5,405.6 726.7,407 726.9,408.1 727.1,403.8 727.2,404 727.4,406.4 727.6,405.6 727.7,405 727.9,407 728.1,406 728.3,404.6 728.4,407.7 728.6,408.2 728.8,409.2 729,409.9 729.1,409.4 729.3,409.3 729.5,409.1 729.6,408.4 729.8,410.2 730,412.3 730.2,412.2 730.3,414.3 730.5,412 730.7,410.4 730.8,413.6 731,413.8 731.2,411.1 731.4,410.5 731.5,412.5 731.7,413.2 731.9,410.9 732.1,411.8 732.2,411.2 732.4,410.7 732.6,410.5 732.7,412.1 732.9,411.5 733.1,411.1 733.3,408.7 733.4,413.8 733.6,410.6 733.8,411.5 733.9,410.2 734.1,412 734.3,409.9 734.5,412.2 734.6,412.2 734.8,413.9 735,411.9 735.2,412.8 735.3,413.7 735.5,416.8 735.7,413 735.8,415.4 736,414.7 736.2,416.2 736.4,417 736.5,416.8 736.7,417.3 736.9,417.7 737,417 737.2,417.8 737.4,416.3 737.6,418 737.7,417.6 737.9,418.4 738.1,419.8 738.3,419.5 738.4,419.8 738.6,420.7 738.8,416.7 738.9,420.2 739.1,419.8 739.3,419.7 739.5,418 739.6,420 739.8,420.5 740,420.1 740.1,418.6 740.3,419.2 740.5,419.3 740.7,420.2 740.8,419.2 741,417.7 741.2,417.4 741.4,417.3 741.5,417.1 741.7,416 741.9,417.7 742,416 742.2,416 742.4,417.5 742.6,416.5 742.7,417.1 742.9,415 743.1,418.5 743.2,417.7 743.4,417.7 743.6,418.5 743.8,418.3 743.9,417.3 744.1,420.7 744.3,417.9 744.5,419.7 744.6,420.8 744.8,418 745,419 745.1,418 745.3,420.2 745.5,418.5 745.7,417.6 745.8,420.4 746,419.9 746.2,417.6 746.3,420.1 746.5,418.8 746.7,421.8 746.9,420.5 747,417.8 747.2,418 747.4,417.3 747.6,418.4 747.7,418.2 747.9,419 748.1,418.2 748.2,416.3 748.4,417 748.6,419.6 748.8,419.5 748.9,418.3 749.1,418.7 749.3,419 749.4,419.7 749.6,418 749.8,421.4 750,420 750.1,421.4 750.3,418.7 750.5,422.5 750.7,424.3 750.8,420.6 751,425.5 751.2,424.8 751.3,423.8 751.5,423.3 751.7,427.1 751.9,426.5 752,427.4 752.2,426.9 752.4,426.8 752.5,429.2 752.7,427.6 752.9,430.3 753.1,427.7 753.2,429.1 753.4,429 753.6,432.8 753.8,429.6 753.9,430.8 754.1,433.5 754.3,433.5 754.4,436.3 754.6,436.4 754.8,435 755,435.2 755.1,432.2 755.3,433.3 755.5,434 755.6,434.2 755.8,432.8 756,433.4 756.2,433.5 756.3,435.8 756.5,435.1 756.7,434.2 756.9,434.6 757,435.5 757.2,434.6 757.4,435.4 757.5,433.9 757.7,437.1 757.9,437.7 758.1,437.3 758.2,437.7 758.4,437.8 758.6,440.1 758.7,438.2 758.9,436.6 759.1,437.2 759.3,439.7 759.4,440.7 759.6,440.8 759.8,441.4 760,441.1 760.1,439.6 760.3,441 760.5,440.2 760.6,442.4 760.8,441.7 761,444 761.2,444.2 761.3,442.5 761.5,446.2 761.7,446.8 761.8,444.7 762,447 762.2,448.1 762.4,447 762.5,448.4 762.7,447.7 762.9,448.8 763.1,447.8 763.2,447.5 763.4,448.3 763.6,448.7 763.7,448.2 763.9,447.4 764.1,447.1 764.3,447.6 764.4,447.4 764.6,448.4 764.8,448.5 764.9,448.2 765.1,448.4 765.3,448.7 765.5,450.4 765.6,450.1 765.8,448.4 766,450.1 766.2,449.7 766.3,450.4 766.5,450.8 766.7,450.8 766.8,450.4 767,449.6 767.2,453.3 767.4,455 767.5,453 767.7,455.1 767.9,454.6 768,455.9 768.2,455.1 768.4,456.3 768.6,456.9 768.7,454.6 768.9,458 769.1,457.8 769.2,455.3 769.4,459.3 769.6,458.8 769.8,459.4 769.9,459.8 770.1,459.2 770.3,458.7 770.5,459.7 770.6,460 770.8,463.2 771,462.6 771.1,459.7 771.3,459.7 771.5,460.4 771.7,460.6 771.8,459 772,458.5 772.2,462 772.3,460.8 772.5,457.6 772.7,457.2 772.9,458.2 773,459.4 773.2,459.8 773.4,459 773.6,457.7 773.7,460.1 773.9,460.8 774.1,460.3 774.2,459.8 774.4,460.9 774.6,459.8 774.8,458.2 774.9,459.4 775.1,457.5 775.3,459.9 775.4,459.1 775.6,457 775.8,458.2 776,459.2 776.1,454.8 776.3,456.9 776.5,458.8 776.7,454.6 776.8,455.9 777,453.9 777.2,455.1 777.3,451.8 777.5,452.3 777.7,453.1 777.9,453.5 778,453.4 778.2,453 778.4,453.4 778.5,452.4 778.7,452 778.9,449.4 779.1,450 779.2,453.6 779.4,452 779.6,449.8 779.8,449.3 779.9,449.1 780.1,446.9 780.3,449.8 780.4,446.9 780.6,447.3 780.8,450 781,444.8 781.1,447.7 781.3,445.2 781.5,446.5 781.6,447.1 781.8,446.8 782,447.4 782.2,446.2 782.3,447 782.5,445.7 782.7,446.6 782.9,445.4 783,447.9 783.2,445.5 783.4,447.9 783.5,446.5 783.7,446.6 783.9,448.4 784.1,447.1 784.2,444.6 784.4,447.5 784.6,443.3 784.7,447.2 784.9,446.3 785.1,445.1 785.3,446.9 785.4,446.4 785.6,449.2 785.8,446.2 786,449.1 786.1,448.3 786.3,445.4 786.5,444.6 786.6,446.8 786.8,444.5 787,444.3 787.2,443.3 787.3,441.7 787.5,442.2 787.7,441 787.8,439.8 788,440.8 788.2,443 788.4,442.6 788.5,440.3 788.7,440.3 788.9,440.5 789.1,441.3 789.2,439.7 789.4,438.5 789.6,438.4 789.7,440 789.9,441.6 790.1,437.4 790.3,435.3 790.4,438.6 790.6,437.3 790.8,437.5 790.9,438.9 791.1,437.4 791.3,435.7 791.5,434.8 791.6,437.2 791.8,435.8 792,437.6 792.2,435.6 792.3,436.7 792.5,435.3 792.7,436.7 792.8,436.6 793,437.8 793.2,438.8 793.4,436.8 793.5,436 793.7,439.2 793.9,436.8 794,436.6 794.2,436.2 794.4,436.8 794.6,435.8 794.7,434.9 794.9,434.6 795.1,432.1 795.3,431.9 795.4,432.1 795.6,431.9 795.8,431.4 795.9,431.3 796.1,430.5 796.3,429.5 796.5,427.5 796.6,430.1 796.8,429.4 797,427.1 797.1,428.5 797.3,428.3 797.5,427.9 797.7,425.5 797.8,426.3 798,427 798.2,429.7 798.4,426.6 798.5,427.2 798.7,426.3 798.9,427 799,428 799.2,425 799.4,424 799.6,428.4 799.7,427.6 799.9,426.8 800.1,428.7 800.2,428.5 800.4,424.4 800.6,426.6 800.8,428 800.9,425.5 801.1,425.7 801.3,427.1 801.5,425.3 801.6,423.9 801.8,424.3 802,423.3 802.1,425.3 802.3,421.8 802.5,424.6 802.7,420.7 802.8,422.2 803,419.6 803.2,420.5 803.3,421.5 803.5,421 803.7,420.6 803.9,418.2 804,417.9 804.2,417.4 804.4,417.3 804.6,415.4 804.7,416.9 804.9,415.6 805.1,416.4 805.2,415.2 805.4,415.2 805.6,413.2 805.8,413.3 805.9,411.9 806.1,412.9 806.3,412.8 806.4,413.7 806.6,410.8 806.8,416.2 807,411.7 807.1,413.1 807.3,412.6 807.5,407.9 807.7,410.4 807.8,412.3 808,407.1 808.2,410.8 808.3,408.2 808.5,408.3 808.7,408.7 808.9,405.7 809,407.8 809.2,406.3 809.4,405.7 809.5,407.1 809.7,410.1 809.9,405.7 810.1,405.5 810.2,404.3 810.4,403 810.6,403.8 810.7,404.9 810.9,402.8 811.1,403.2 811.3,401.4 811.4,404.3 811.6,398.8 811.8,401.6 812,401.5 812.1,401.2 812.3,399.4 812.5,399.4 812.6,400.5 812.8,400.9 813,399.2 813.2,399.4 813.3,401.4 813.5,401.9 813.7,399.9 813.8,399.7 814,399.7 814.2,403.7 814.4,401.2 814.5,400.4 814.7,401.8 814.9,403.4 815.1,401.9 815.2,398.7 815.4,400.3 815.6,399.9 815.7,399.9 815.9,398.8 816.1,399.8 816.3,399 816.4,400.7 816.6,400.3 816.8,398.5 816.9,398.1 817.1,399.6 817.3,401 817.5,400.8 817.6,399.8 817.8,395.3 818,398.3 818.2,397.5 818.3,397.5 818.5,395.9 818.7,396.4 818.8,395.6 819,399.3 819.2,396.3 819.4,394.7 819.5,394.4 819.7,394 819.9,394.2 820,393.2 820.2,393.4 820.4,394.5 820.6,394 820.7,393.1 820.9,394.1 821.1,392.5 821.3,390.8 821.4,389.5 821.6,390.6 821.8,391.2 821.9,391.5 822.1,392.2 822.3,390.1 822.5,389.8 822.6,391.7 822.8,392.2 823,390.1 823.1,391.1 823.3,392.4 823.5,391.1 823.7,390.6 823.8,388 824,392.3 824.2,391.4 824.4,390.7 824.5,390 824.7,389 824.9,390.4 825,390.3 825.2,391.4 825.4,388.1 825.6,391 825.7,388.7 825.9,389.7 826.1,386.6 826.2,387.8 826.4,388.4 826.6,386.6 826.8,384.1 826.9,385.1 827.1,385.8 827.3,382.9 827.5,382.4 827.6,384 827.8,382.1 828,383.7 828.1,380.9 828.3,379.6 828.5,380.5 828.7,383.2 828.8,380.2 829,381.2 829.2,381.5 829.3,380 829.5,382.5 829.7,381.4 829.9,381.7 830,379 830.2,378.9 830.4,377.6 830.6,380.8 830.7,380.7 830.9,381.9 831.1,382.9 831.2,380.7 831.4,380.6 831.6,381.4 831.8,382.6 831.9,379.4 832.1,381 832.3,379.6 832.4,379.3 832.6,380.5 832.8,378.2 833,377.7 833.1,379.6 833.3,378.5 833.5,378 833.7,377.6 833.8,377.8 834,376.1 834.2,376.9 834.3,375.8 834.5,376.6 834.7,375.7 834.9,374.5 835,372.6 835.2,372.4 835.4,370.8 835.5,374.5 835.7,370.1 835.9,370.4 836.1,370.8 836.2,367.1 836.4,367.5 836.6,367.8 836.8,366.8 836.9,366.1 837.1,366.8 837.3,368.8 837.4,367.8 837.6,366.6 837.8,366.4 838,364 838.1,366.6 838.3,366 838.5,363.9 838.6,365.2 838.8,364.4 839,363.7 839.2,362.9 839.3,363 839.5,362.4 839.7,363.7 839.9,363.1 840,362.6 840.2,361.5 840.4,360.8 840.5,363.4 840.7,358.1 840.9,361.4 841.1,359.9 841.2,359.1 841.4,357.9 841.6,357.9 841.7,356.2 841.9,355.5 842.1,356.6 842.3,354.2 842.4,356.9 842.6,356.8 842.8,350.6 843,352.5 843.1,354.7 843.3,354.6 843.5,354.4 843.6,354.8 843.8,355.2 844,355.3 844.2,356.5 844.3,354.2 844.5,355.3 844.7,352.1 844.8,354 845,352.6 845.2,355.8 845.4,357 845.5,354.7 845.7,352.4 845.9,353.9 846.1,354 846.2,354.2 846.4,355.3 846.6,355.1 846.7,350.6 846.9,355.6 847.1,353.2 847.3,353.1 847.4,355.6 847.6,353.5 847.8,352.1 847.9,352.1 848.1,353.8 848.3,354.9 848.5,355.6 848.6,353.5 848.8,353.1 849,355.7 849.2,352.7 849.3,354.6 849.5,352.6 849.7,352.1 849.8,351 850,351.2 850.2,349.8 850.4,349 850.5,349.2 850.7,348.1 850.9,348.8 851,348.1 851.2,347.4 851.4,347.3 851.6,347 851.7,349.2 851.9,346.8 852.1,345.9 852.3,346 852.4,347 852.6,345.6 852.8,345.5 852.9,345.1 853.1,345.4 853.3,345.4 853.5,345.3 853.6,342.6 853.8,343.3 854,341.3 854.1,345.6 854.3,346 854.5,346.2 854.7,344.8 854.8,346 855,344.5 855.2,344.4 855.3,342.6 855.5,343.6 855.7,343.8 855.9,345.7 856,346.6 856.2,343.9 856.4,344.9 856.6,344.7 856.7,342.9 856.9,341.3 857.1,342.1 857.2,340.8 857.4,341.7 857.6,341.5 857.8,341 857.9,340.6 858.1,341 858.3,338.8 858.4,340.6 858.6,336.9 858.8,338.7 859,338.6 859.1,336.7 859.3,335.3 859.5,337.6 859.7,335.5 859.8,336.9 860,336.5 860.2,335.5 860.3,335.5 860.5,336.7 860.7,335.9 860.9,334.3 861,335.6 861.2,336.1 861.4,335.7 861.5,335.6 861.7,335.2 861.9,335.2 862.1,334.2 862.2,333.6 862.4,336.7 862.6,334.5 862.8,335.6 862.9,333.4 863.1,335.4 863.3,333.9 863.4,338.4 863.6,333.2 863.8,333.1 864,335.2 864.1,335.2 864.3,331 864.5,333.7 864.6,334.2 864.8,331.4 865,333.5 865.2,331.4 865.3,330.2 865.5,330.4 865.7,329.7 865.9,327.9 866,331.8 866.2,327.8 866.4,326.9 866.5,328.2 866.7,326.5 866.9,327.6 867.1,325 867.2,325.2 867.4,324.2 867.6,323.9 867.7,323.1 867.9,323 868.1,324.9 868.3,321.7 868.4,321.6 868.6,321.6 868.8,322.5 869,322 869.1,322.4 869.3,319.3 869.5,321 869.6,320.2 869.8,319.8 870,320.1 870.2,317.2 870.3,319.7 870.5,319.3 870.7,317 870.8,318.4 871,320.2 871.2,317.3 871.4,318.1 871.5,316.6 871.7,315.5 871.9,314.9 872.1,315.1 872.2,316.8 872.4,315.7 872.6,313.4 872.7,315 872.9,313.2 873.1,312.1 873.3,313 873.4,310.9 873.6,309.6 873.8,312.7 873.9,308.4 874.1,310.9 874.3,307.9 874.5,309.4 874.6,309.1 874.8,308.8 875,306.7 875.2,309.2 875.3,309.3 875.5,308.2 875.7,309.2 875.8,310.5 876,308.4 876.2,309.6 876.4,307.9 876.5,309.7 876.7,310.1 876.9,312.3 877,310.4 877.2,309.8 877.4,311 877.6,308 877.7,310.5 877.9,308.5 878.1,308.4 878.3,310.5 878.4,309.4 878.6,310.8 878.8,307.4 878.9,309.5 879.1,308.5 879.3,308.8 879.5,306.7 879.6,310.2 879.8,309.3 880,307.8 880.1,307.4 880.3,308 880.5,310.6 880.7,308.3 880.8,307.5 881,308.1 881.2,307 881.4,306.8 881.5,306.9 881.7,305.9 881.9,306.1 882,303.1 882.2,304.2 882.4,303.2 882.6,303.4 882.7,303 882.9,302 883.1,302.1 883.2,303.5 883.4,301.4 883.6,300.3 883.8,302.4 883.9,302.6 884.1,300.8 884.3,301.1 884.5,299.7 884.6,300.2 884.8,301.6 885,301 885.1,300.2 885.3,299.7 885.5,298 885.7,300.4 885.8,300.5 886,301.3 886.2,302.4 886.3,300.4 886.5,301.1 886.7,298.6 886.9,301.4 887,301 887.2,301.6 887.4,300.7 887.6,300.4 887.7,301.7 887.9,299 888.1,300.3 888.2,300.4 888.4,297.7 888.6,296.8 888.8,298.3 888.9,297.5 889.1,297.6 889.3,297.2 889.4,295.1 889.6,296 889.8,296.5 890,294.3 890.1,293.9 890.3,292.4 890.5,294.4 890.7,295.3 890.8,290.8 891,293 891.2,292.7 891.3,290.5 891.5,290.4 891.7,289.6 891.9,289.9 892,291.1 892.2,291.6 892.4,291 892.5,291.9 892.7,291.1 892.9,289.4 893.1,292.6 893.2,292.2 893.4,289.9 893.6,292.9 893.8,291.3 893.9,290.9 894.1,293.1 894.3,287.7 894.4,288.7 894.6,291.4 894.8,290 895,288.9 895.1,291.7 895.3,290.2 895.5,287.8 895.6,288.3 895.8,289.9 896,290.9 896.2,286 896.3,288.5 896.5,287.4 896.7,285.1 896.8,286.5 897,284.1 897.2,284.8 897.4,286.8 897.5,284.8 897.7,284.5 897.9,283.7 898.1,282.8 898.2,283 898.4,279.8 898.6,280.2 898.7,281 898.9,278.5 899.1,278.6 899.3,280.3 899.4,280.5 899.6,277.6 899.8,277.1 899.9,278.6 900.1,277.9 900.3,276.5 900.5,277.8 900.6,277.5 900.8,276.7 901,279.9 901.2,277.8 901.3,276.9 901.5,276.9 901.7,279 901.8,276.5 902,274 902.2,275 902.4,274.5 902.5,273.3 902.7,273.9 902.9,273.5 903,272.7 903.2,271.7 903.4,272.9 903.6,269.5 903.7,272.1 903.9,270.7 904.1,270.6 904.3,266.9 904.4,271.4 904.6,266.8 904.8,267.5 904.9,268.9 905.1,266.9 905.3,266.7 905.5,264.1 905.6,265.9 905.8,266.2 906,266.6 906.1,265.4 906.3,266 906.5,266.3 906.7,265 906.8,264.9 907,268.2 907.2,264.8 907.4,267.3 907.5,265.9 907.7,267.6 907.9,265.1 908,266.5 908.2,266.3 908.4,265.6 908.6,266.3 908.7,264.9 908.9,265.8 909.1,265.4 909.2,266.8 909.4,265.8 909.6,264.2 909.8,265.5 909.9,265.8 910.1,264.8 910.3,267.6 910.5,266.5 910.6,267 910.8,265.1 911,265.5 911.1,267.2 911.3,264.3 911.5,266.5 911.7,266.1 911.8,265.4 912,265.9 912.2,264 912.3,265.1 912.5,262.9 912.7,262.3 912.9,265.2 913,262.1 913.2,259.9 913.4,263.2 913.6,260.6 913.7,256.8 913.9,260.6 914.1,261.6 914.2,260.7 914.4,262.1 914.6,259.6 914.8,260.3 914.9,258.1 915.1,259.3 915.3,260.8 915.4,259.3 915.6,258.7 915.8,255.9 916,257.6 916.1,256.3 916.3,258.6 916.5,256.6 916.7,258 916.8,256.3 917,259.9 917.2,256.1 917.3,257.7 917.5,260.8 917.7,257.9 917.9,256.5 918,258.4 918.2,258.8 918.4,258.7 918.5,255.2 918.7,257.9 918.9,255 919.1,260 919.2,257.8 919.4,257.1 919.6,258.1 919.8,257.4 919.9,254.9 920.1,258 920.3,255.3 920.4,253 920.6,256.4 920.8,256.2 921,255.4 921.1,254.1 921.3,251.9 921.5,253.8 921.6,254.5 921.8,252.8 922,253.3 922.2,250 922.3,251.8 922.5,251.2 922.7,247.8 922.9,247.2 923,248.2 923.2,249.2 923.4,249.7 923.5,248.9 923.7,249.1 923.9,249 924.1,249.3 924.2,249.9 924.4,249.8 924.6,249.1 924.7,249.5 924.9,248.7 925.1,250.2 925.3,248.6 925.4,251.3 925.6,249.2 925.8,249.6 926,248.3 926.1,248.6 926.3,249 926.5,248.6 926.6,247.6 926.8,246.7 927,248 927.2,248 927.3,248.2 927.5,248.9 927.7,246.8 927.8,244.5 928,246.3 928.2,243.6 928.4,243.7 928.5,246 928.7,244.8 928.9,242.7 929.1,242.1 929.2,242.2 929.4,239.5 929.6,241.7 929.7,240.1 929.9,242.2 930.1,238 930.3,240 930.4,237.4 930.6,239.2 930.8,236.5 930.9,238.4 931.1,236.7 931.3,235.9 931.5,236.5 931.6,237.1 931.8,236.7 932,237.9 932.2,236.7 932.3,232.2 932.5,234.7 932.7,232.5 932.8,234.2 933,235.2 933.2,232.6 933.4,232.5 933.5,233.9 933.7,233.1 933.9,235.2 934,233.2 934.2,233.1 934.4,234.2 934.6,230.9 934.7,231.1 934.9,229.5 935.1,230.6 935.3,231.1 935.4,231.1 935.6,229 935.8,227.7 935.9,227.2 936.1,226 936.3,227.5 936.5,228.6 936.6,223.5 936.8,223.3 937,227.4 937.1,223.2 937.3,225.2 937.5,223.1 937.7,225.7 937.8,225.7 938,224.9 938,232.9 938.1,233.4 938.2,234 938.3,232.9 938.3,233 938.4,219.9 938.5,221.5 938.6,233.5 938.7,234.4 938.8,234.4 938.9,233.4 938.9,233.7 939,220.1 939.1,220 939.2,232.4 939.3,232.8 939.4,233 939.5,234 939.5,233.1 939.6,219.5 939.7,220.6 939.8,233 939.9,233.2 940,232.7 940.1,234.1 940.2,233.1 940.2,220.5 940.3,219.4 940.4,233 940.5,231 940.6,233.9 940.7,235.2 940.8,231.9 940.8,221.6 940.9,221.3 941,234.2 941.1,233.2 941.2,233.1 941.3,234.5 941.4,233.1 941.4,219.3 941.5,219.7 941.6,233.7 941.7,233.4 941.8,233.3 941.9,233.5 942,235.1 942,220.6 942.1,220.7 942.2,232.7 942.3,233.1 942.4,234.3 942.5,233.9 942.6,234 942.6,220.1 942.7,219.1 942.8,233.3 942.9,233.2 943,234.9 943.1,232.6 943.2,233 943.3,221.8 943.3,220.1 943.4,233.1 943.5,234.2 943.6,233 943.7,233.4 943.8,233.2 943.9,220.8 943.9,220 944,233.7 944.1,232.6 944.2,233.1 944.3,233.5 L944.3,276.3 944.2,276.2 944.1,276.4 944,275.4 943.9,289.3 943.9,288.7 943.8,274 943.7,275.8 943.6,276.1 943.5,276.3 943.4,274.9 943.3,289.1 943.3,288.1 943.2,276.2 943.1,275.9 943,275.2 942.9,277.1 942.8,275.8 942.7,288.1 942.6,288.7 942.6,275 942.5,275.4 942.4,277.1 942.3,276.6 942.2,275.1 942.1,288.5 942,288.8 942,275.6 941.9,277.3 941.8,275.7 941.7,275.9 941.6,275.1 941.5,289.6 941.4,288.8 941.4,277 941.3,276.7 941.2,275.9 941.1,274.8 941,275.1 940.9,288.4 940.8,288.6 940.8,275.9 940.7,275.8 940.6,275.6 940.5,276 940.4,276.2 940.3,288.9 940.2,289.1 940.2,273.7 940.1,275.2 940,277 939.9,276.2 939.8,275.8 939.7,289 939.6,289 939.5,276.5 939.5,275.9 939.4,276.3 939.3,275.5 939.2,276.9 939.1,288.5 939,289.9 938.9,275.3 938.9,276.4 938.8,276.4 938.7,276 938.6,276.5 938.5,290 938.4,289 938.3,277.4 938.3,274.3 938.2,275.9 938.1,276.5 938,275.4 938,277.2 937.8,280.1 937.7,279.7 937.5,278.6 937.3,277.8 937.1,279.4 937,279.5 936.8,280.1 936.6,279.6 936.5,280.9 936.3,283.2 936.1,284.7 935.9,281.4 935.8,283 935.6,283.9 935.4,283.3 935.3,285.3 935.1,285 934.9,286.1 934.7,285.5 934.6,287.1 934.4,288 934.2,289.7 934,286.9 933.9,287.4 933.7,288.6 933.5,287.4 933.4,289.7 933.2,289.2 933,287.1 932.8,289.1 932.7,287.9 932.5,290.1 932.3,290.4 932.2,290.4 932,290.3 931.8,290.8 931.6,292.5 931.5,293 931.3,291 931.1,291.9 930.9,291.9 930.8,291.7 930.6,291.3 930.4,292.4 930.3,294.5 930.1,295.8 929.9,295.1 929.7,295.9 929.6,295.3 929.4,296.4 929.2,295.6 929.1,298.4 928.9,297.3 928.7,300.6 928.5,299.6 928.4,299.7 928.2,301 928,303.1 927.8,300.8 927.7,301.8 927.5,300.6 927.3,301.4 927.2,304.6 927,305.7 926.8,305.6 926.6,302.9 926.5,303.6 926.3,302 926.1,303.1 926,304.1 925.8,305.6 925.6,304.5 925.4,304.7 925.3,302.6 925.1,303.3 924.9,303.8 924.7,303.9 924.6,303.9 924.4,302.8 924.2,305 924.1,304.5 923.9,303.4 923.7,305.3 923.5,304.8 923.4,305.9 923.2,303.3 923,303.7 922.9,307.3 922.7,302.4 922.5,306.1 922.3,305.6 922.2,307 922,306.9 921.8,307 921.6,307.8 921.5,306.4 921.3,304.6 921.1,308.6 921,309.8 920.8,312.4 920.6,309.2 920.4,308.1 920.3,311 920.1,311 919.9,310.3 919.8,309.3 919.6,312.3 919.4,311.2 919.2,312.5 919.1,310.3 918.9,312.2 918.7,311.8 918.5,313.6 918.4,312.8 918.2,314.5 918,313.2 917.9,312 917.7,313.3 917.5,312.3 917.3,312.9 917.2,311.4 917,312.5 916.8,312.7 916.7,311.2 916.5,312.8 916.3,311.7 916.1,312.7 916,313.2 915.8,314.3 915.6,314.1 915.4,313.5 915.3,312.5 915.1,314.1 914.9,313.9 914.8,315.9 914.6,315.7 914.4,314.8 914.2,315.3 914.1,315.8 913.9,315.3 913.7,315.4 913.6,316.9 913.4,317.9 913.2,316 913,318 912.9,319 912.7,318.9 912.5,319.6 912.3,318.8 912.2,319.2 912,320.2 911.8,320.3 911.7,320.1 911.5,321.1 911.3,324.1 911.1,323.2 911,320.4 910.8,320.5 910.6,323.6 910.5,320.8 910.3,318.7 910.1,322.9 909.9,321.5 909.8,321.6 909.6,319.5 909.4,322 909.2,321.2 909.1,321.3 908.9,322 908.7,319.8 908.6,321.6 908.4,320.9 908.2,323.4 908,321.8 907.9,320.5 907.7,321.3 907.5,318.2 907.4,319.9 907.2,321.3 907,320.7 906.8,320.8 906.7,320.5 906.5,319.2 906.3,319 906.1,321.9 906,321 905.8,322.1 905.6,322.3 905.5,320 905.3,323.6 905.1,320.7 904.9,321.8 904.8,325.8 904.6,321.7 904.4,322.7 904.3,324.8 904.1,325.9 903.9,326.7 903.7,325.9 903.6,325.9 903.4,326.2 903.2,327 903,328.5 902.9,326.4 902.7,330.3 902.5,327.3 902.4,328 902.2,328.7 902,329.6 901.8,330.5 901.7,331.8 901.5,329.7 901.3,331.9 901.2,331.4 901,332.1 900.8,330.6 900.6,331.2 900.5,332.9 900.3,331.4 900.1,332.7 899.9,333.7 899.8,335 899.6,334.8 899.4,334.9 899.3,334.8 899.1,333.9 898.9,333.6 898.7,332.6 898.6,334.4 898.4,337.5 898.2,337.1 898.1,338.7 897.9,336.7 897.7,338 897.5,338.9 897.4,339.2 897.2,340.6 897,340.1 896.8,342.7 896.7,342.5 896.5,344.1 896.3,342.9 896.2,344.2 896,342.7 895.8,346.3 895.6,345.7 895.5,345.9 895.3,344.8 895.1,345.4 895,343.6 894.8,342.7 894.6,348 894.4,345.8 894.3,345.5 894.1,345.7 893.9,346.9 893.8,346.6 893.6,345.5 893.4,345.3 893.2,345.5 893.1,346.8 892.9,344.1 892.7,344.6 892.5,345.6 892.4,345.5 892.2,348 892,348.6 891.9,345.8 891.7,347.2 891.5,343.5 891.3,346.6 891.2,347.1 891,345.6 890.8,348.9 890.7,347.4 890.5,346.8 890.3,347.9 890.1,349.3 890,350.5 889.8,349 889.6,350.1 889.4,349.9 889.3,352 889.1,348.5 888.9,354.2 888.8,352.4 888.6,350.3 888.4,353.2 888.2,352 888.1,353.7 887.9,355.4 887.7,352.5 887.6,354 887.4,355.8 887.2,355.6 887,354 886.9,355.5 886.7,355.6 886.5,353.4 886.3,356.1 886.2,356.3 886,354.3 885.8,355.9 885.7,355.7 885.5,352.8 885.3,356.4 885.1,354 885,354.2 884.8,355.4 884.6,354.6 884.5,356.1 884.3,356.6 884.1,355.3 883.9,357 883.8,355.7 883.6,357.8 883.4,357.1 883.2,357 883.1,357.3 882.9,357.6 882.7,358.6 882.6,357.4 882.4,362.1 882.2,359.5 882,358.1 881.9,362.3 881.7,362.8 881.5,360.7 881.4,362.8 881.2,360.2 881,359.9 880.8,363.2 880.7,363.4 880.5,364.7 880.3,365.5 880.1,365.1 880,365.1 879.8,364.1 879.6,364.5 879.5,366.1 879.3,363.8 879.1,364.6 878.9,363.8 878.8,364 878.6,364.7 878.4,362.4 878.3,365.1 878.1,366.2 877.9,365.6 877.7,364.4 877.6,365 877.4,365.3 877.2,363.3 877,365.3 876.9,365.4 876.7,364.3 876.5,365.3 876.4,364.7 876.2,364 876,364.8 875.8,363.6 875.7,364.9 875.5,363.2 875.3,363.4 875.2,365.9 875,363 874.8,364.9 874.6,365.5 874.5,363.4 874.3,366 874.1,366 873.9,366.8 873.8,364.4 873.6,367.8 873.4,368.3 873.3,368.3 873.1,368.7 872.9,367.6 872.7,369.3 872.6,369.6 872.4,368.5 872.2,371.2 872.1,370.1 871.9,369.9 871.7,371.3 871.5,373.1 871.4,372.1 871.2,371.6 871,375.1 870.8,374.7 870.7,372.9 870.5,374.1 870.3,374.6 870.2,374.5 870,373.7 869.8,375.9 869.6,373.9 869.5,374.1 869.3,377.5 869.1,375.6 869,375.6 868.8,375.8 868.6,374 868.4,376.7 868.3,376.8 868.1,378.3 867.9,377.5 867.7,377.8 867.6,378.3 867.4,380.2 867.2,381.4 867.1,380.8 866.9,379.4 866.7,381.4 866.5,380.4 866.4,382.9 866.2,383.6 866,384.2 865.9,383.1 865.7,385.6 865.5,385.9 865.3,386.1 865.2,386.9 865,387.7 864.8,389 864.6,383.8 864.5,388 864.3,388.2 864.1,387.7 864,389.4 863.8,389.6 863.6,390.9 863.4,389.4 863.3,390.7 863.1,389.6 862.9,392.3 862.8,391.2 862.6,390.2 862.4,389 862.2,390.2 862.1,392.1 861.9,389.8 861.7,390.3 861.5,392.2 861.4,391.7 861.2,389.7 861,388.6 860.9,390.2 860.7,390.4 860.5,389.8 860.3,390 860.2,390.2 860,391.9 859.8,389.9 859.7,389.6 859.5,391.6 859.3,393.8 859.1,393.4 859,393.9 858.8,391.1 858.6,395.1 858.4,393.6 858.3,395 858.1,394.1 857.9,394.8 857.8,395.5 857.6,396.9 857.4,396.9 857.2,397.6 857.1,398.4 856.9,399.3 856.7,400.7 856.6,397.7 856.4,399.2 856.2,397.6 856,401 855.9,399.5 855.7,397.7 855.5,398 855.3,401.7 855.2,399 855,398.2 854.8,398.2 854.7,400.9 854.5,400.1 854.3,401.6 854.1,399.9 854,399.4 853.8,398.4 853.6,398.3 853.5,400.1 853.3,398.9 853.1,401.2 852.9,401.7 852.8,401 852.6,398.5 852.4,402.5 852.3,403.5 852.1,401.1 851.9,404.8 851.7,401.5 851.6,402.6 851.4,402.9 851.2,402.5 851,403.9 850.9,404.1 850.7,403.5 850.5,405.9 850.4,405.1 850.2,405 850,406.3 849.8,406.7 849.7,407.8 849.5,407.9 849.3,404.5 849.2,408 849,407.3 848.8,410 848.6,406.4 848.5,409.3 848.3,408.6 848.1,408.2 847.9,409.4 847.8,409.6 847.6,411.6 847.4,408.6 847.3,411.2 847.1,407.8 846.9,409.5 846.7,406.7 846.6,408.9 846.4,409.3 846.2,408.5 846.1,407.2 845.9,409.6 845.7,408.6 845.5,410.5 845.4,408.8 845.2,408.8 845,408.5 844.8,411.3 844.7,409 844.5,411.5 844.3,408.1 844.2,410.2 844,410 843.8,410.3 843.6,409.3 843.5,410.4 843.3,409 843.1,410.5 843,409.2 842.8,410 842.6,412 842.4,410.6 842.3,411.3 842.1,413.1 841.9,410.3 841.7,413.3 841.6,411.7 841.4,415.4 841.2,416.4 841.1,412.8 840.9,414.5 840.7,415.8 840.5,415.1 840.4,417.9 840.2,419 840,417.4 839.9,418.6 839.7,420.3 839.5,418 839.3,418.8 839.2,420.1 839,418.2 838.8,419.4 838.6,418.8 838.5,418 838.3,419.5 838.1,419.6 838,420.1 837.8,422.6 837.6,423.5 837.4,421.2 837.3,420.6 837.1,422.5 836.9,420.8 836.8,422.6 836.6,422.7 836.4,423.6 836.2,422.8 836.1,425.3 835.9,427 835.7,425.4 835.5,425.7 835.4,426.9 835.2,428.6 835,428.7 834.9,428.4 834.7,428.4 834.5,429.2 834.3,430.5 834.2,430.9 834,430.9 833.8,432.3 833.7,432.9 833.5,432.6 833.3,433 833.1,434 833,433.4 832.8,435.5 832.6,434.3 832.4,435.1 832.3,435.5 832.1,437.1 831.9,437.7 831.8,435.6 831.6,435.3 831.4,436.9 831.2,436.6 831.1,436.2 830.9,436 830.7,436 830.6,438.8 830.4,435.7 830.2,436.5 830,438.7 829.9,437.9 829.7,436.4 829.5,436.3 829.3,434.8 829.2,436.8 829,436.2 828.8,437.4 828.7,434.8 828.5,438.7 828.3,437.8 828.1,436.1 828,438.7 827.8,434.8 827.6,438 827.5,438.9 827.3,440.2 827.1,440 826.9,442.1 826.8,440.9 826.6,442.1 826.4,443.5 826.2,443 826.1,443 825.9,444.3 825.7,443.7 825.6,444.6 825.4,443.6 825.2,445.1 825,444.4 824.9,446.6 824.7,443.2 824.5,448 824.4,445.5 824.2,446.4 824,442.5 823.8,444.8 823.7,445.7 823.5,446.2 823.3,446.9 823.1,446.3 823,447.2 822.8,445.8 822.6,446.7 822.5,446.8 822.3,446.3 822.1,443.8 821.9,445.5 821.8,445.1 821.6,446 821.4,446.4 821.3,447.4 821.1,446 820.9,444.9 820.7,448.5 820.6,445.5 820.4,448.1 820.2,446.8 820,449.8 819.9,448.4 819.7,449.5 819.5,449.1 819.4,451.5 819.2,452 819,450.9 818.8,452.3 818.7,454.4 818.5,452.3 818.3,454.5 818.2,451.8 818,455.4 817.8,454.7 817.6,454 817.5,455.3 817.3,457.3 817.1,454.3 816.9,455.2 816.8,456.1 816.6,455.9 816.4,455.5 816.3,455.6 816.1,456.5 815.9,454.3 815.7,455 815.6,456.6 815.4,455.2 815.2,453.2 815.1,455 814.9,454.9 814.7,455.8 814.5,455.6 814.4,456 814.2,456.8 814,455.8 813.8,454.6 813.7,455.7 813.5,456.5 813.3,455.5 813.2,455.8 813,455.8 812.8,456.6 812.6,456.7 812.5,453.4 812.3,456.8 812.1,455.6 812,455.3 811.8,455.8 811.6,454.9 811.4,457.7 811.3,456.3 811.1,458.6 810.9,456.6 810.7,456.2 810.6,457.7 810.4,458.5 810.2,459.7 810.1,460.4 809.9,458.6 809.7,460.5 809.5,459.9 809.4,463.1 809.2,461.9 809,463.1 808.9,466.3 808.7,466 808.5,462.4 808.3,463.8 808.2,466.1 808,465.3 807.8,466.8 807.7,465.1 807.5,465 807.3,464.5 807.1,467.1 807,468.1 806.8,467 806.6,469.2 806.4,468.8 806.3,468.6 806.1,470.7 805.9,470.4 805.8,466.7 805.6,469.6 805.4,469.4 805.2,467.6 805.1,470.2 804.9,469.3 804.7,471.8 804.6,472.6 804.4,471.6 804.2,472.2 804,473.9 803.9,472.5 803.7,472.6 803.5,475.8 803.3,475 803.2,476.5 803,476.7 802.8,475.7 802.7,475.2 802.5,478.1 802.3,481.2 802.1,480.5 802,482.1 801.8,480.1 801.6,481.8 801.5,483.1 801.3,482.2 801.1,482.7 800.9,481.8 800.8,480 800.6,481.8 800.4,481.4 800.2,480.6 800.1,481.3 799.9,480.9 799.7,480.3 799.6,484.4 799.4,481.8 799.2,482.6 799,481.8 798.9,482.7 798.7,480.5 798.5,480 798.4,483.3 798.2,483.6 798,481.6 797.8,483.8 797.7,483.3 797.5,483.9 797.3,478.8 797.1,482.7 797,483.1 796.8,483.2 796.6,484.7 796.5,484 796.3,486 796.1,486.5 795.9,487.5 795.8,486.6 795.6,483.6 795.4,487.3 795.3,486.1 795.1,488 794.9,487.8 794.7,489.2 794.6,490.1 794.4,489.4 794.2,489 794,492.4 793.9,490.8 793.7,492.9 793.5,490.4 793.4,491.8 793.2,491.6 793,492.5 792.8,491.4 792.7,494.1 792.5,491.2 792.3,491.8 792.2,492.5 792,491.4 791.8,491 791.6,494.3 791.5,491.7 791.3,491 791.1,493.7 790.9,492.8 790.8,490.9 790.6,493 790.4,491.5 790.3,492.1 790.1,495.8 789.9,493.6 789.7,493.6 789.6,496.1 789.4,493.5 789.2,492.6 789.1,493.4 788.9,493.6 788.7,495 788.5,494.1 788.4,495.5 788.2,495.2 788,497.9 787.8,496.9 787.7,495 787.5,496.3 787.3,501.2 787.2,497.9 787,499.9 786.8,499.6 786.6,500.8 786.5,501.8 786.3,503 786.1,500.9 786,500.2 785.8,504 785.6,503.6 785.4,501.6 785.3,504.6 785.1,502.5 784.9,500.7 784.7,500.7 784.6,502.5 784.4,503.3 784.2,503.2 784.1,501.4 783.9,504.1 783.7,503.7 783.5,501.8 783.4,501.4 783.2,503.5 783,502.2 782.9,501.6 782.7,499.4 782.5,501.5 782.3,501 782.2,501.5 782,502.2 781.8,502.5 781.6,500.5 781.5,502.3 781.3,500.7 781.1,502.6 781,501.4 780.8,501.1 780.6,503 780.4,502.3 780.3,501.9 780.1,503.3 779.9,503.4 779.8,504.9 779.6,505.1 779.4,505 779.2,500.8 779.1,506.3 778.9,506.2 778.7,505.7 778.5,505.6 778.4,506.6 778.2,507.6 778,508.3 777.9,508.9 777.7,508.9 777.5,508.1 777.3,509.3 777.2,511.1 777,510.7 776.8,513.4 776.7,511.8 776.5,513.1 776.3,512.5 776.1,512.2 776,511.7 775.8,513.4 775.6,513.7 775.4,513 775.3,513.2 775.1,513.1 774.9,514.5 774.8,515.3 774.6,514.6 774.4,515.3 774.2,514.8 774.1,515.6 773.9,516.1 773.7,514.2 773.6,514.3 773.4,515.4 773.2,513.7 773,512.7 772.9,512.9 772.7,515.6 772.5,513.9 772.3,514.9 772.2,514.4 772,513.2 771.8,515.9 771.7,514.6 771.5,515.3 771.3,513.7 771.1,515.4 771,517.5 770.8,517.9 770.6,516 770.5,514.5 770.3,516 770.1,515.7 769.9,518.1 769.8,511 769.6,514.2 769.4,513.2 769.2,513.4 769.1,513.4 768.9,512.4 768.7,511.7 768.6,509.8 768.4,512.8 768.2,511.6 768,510.8 767.9,509.6 767.7,511 767.5,510.7 767.4,507.3 767.2,506.4 767,506.6 766.8,508.9 766.7,507.4 766.5,505.8 766.3,507 766.2,506.1 766,505.6 765.8,505.4 765.6,504.2 765.5,503.6 765.3,502.1 765.1,505.2 764.9,501.6 764.8,504 764.6,503.2 764.4,503.5 764.3,503.2 764.1,502.5 763.9,501.1 763.7,504.3 763.6,503.7 763.4,502.2 763.2,501.3 763.1,502.6 762.9,503.1 762.7,503.5 762.5,501.5 762.4,501.3 762.2,500.4 762,501.8 761.8,500 761.7,500.8 761.5,499.8 761.3,499.6 761.2,499.3 761,498.1 760.8,496.6 760.6,497.6 760.5,497.6 760.3,499.2 760.1,495.7 760,496.1 759.8,495.9 759.6,494.8 759.4,495 759.3,495 759.1,491.6 758.9,492.3 758.7,489.3 758.6,492.6 758.4,493.7 758.2,492.3 758.1,493.1 757.9,490.9 757.7,493.1 757.5,490 757.4,491.9 757.2,487.5 757,490.2 756.9,486.6 756.7,492.2 756.5,488.8 756.3,489.5 756.2,488.4 756,488.9 755.8,490 755.6,491.3 755.5,488.7 755.3,488.9 755.1,486.7 755,489.9 754.8,487.9 754.6,489.4 754.4,488.3 754.3,488.1 754.1,486.7 753.9,487.9 753.8,485.6 753.6,486.9 753.4,486.7 753.2,483.8 753.1,485.9 752.9,484.2 752.7,483 752.5,481.9 752.4,483.3 752.2,484.7 752,482.8 751.9,482.2 751.7,481 751.5,478.5 751.3,479.8 751.2,479.9 751,479.2 750.8,478.3 750.7,476.4 750.5,477.2 750.3,475.3 750.1,477.8 750,475.5 749.8,475 749.6,475.4 749.4,474 749.3,474.9 749.1,470.8 748.9,471.7 748.8,473.2 748.6,473.2 748.4,472.8 748.2,473.6 748.1,472.8 747.9,470.5 747.7,473.2 747.6,474.3 747.4,474 747.2,472.5 747,472.9 746.9,473 746.7,472.6 746.5,472.3 746.3,471.9 746.2,473.7 746,474 745.8,472.9 745.7,473.3 745.5,473.5 745.3,474.8 745.1,476.7 745,473.1 744.8,474.4 744.6,474.3 744.5,472.1 744.3,474 744.1,474 743.9,471.8 743.8,474.8 743.6,472.5 743.4,473.3 743.2,472.6 743.1,472.4 742.9,472.2 742.7,473.1 742.6,475 742.4,472.4 742.2,472.3 742,472.1 741.9,471.2 741.7,469.9 741.5,471.9 741.4,471.6 741.2,471.6 741,472.4 740.8,472.7 740.7,472.3 740.5,474.7 740.3,473 740.1,474 740,475.6 739.8,473.5 739.6,474.1 739.5,474.7 739.3,474.1 739.1,474.3 738.9,474 738.8,473.9 738.6,475.5 738.4,474.1 738.3,473.8 738.1,474.4 737.9,473.9 737.7,473.3 737.6,472.2 737.4,474.5 737.2,474 737,474.1 736.9,470.4 736.7,470.6 736.5,472.7 736.4,471.5 736.2,469.9 736,469.2 735.8,470.9 735.7,470 735.5,469.1 735.3,468.8 735.2,467.2 735,471.7 734.8,468.7 734.6,468.6 734.5,466.5 734.3,467.6 734.1,466 733.9,467.2 733.8,468.8 733.6,466.5 733.4,466.6 733.3,465.7 733.1,466.4 732.9,466.3 732.7,467.3 732.6,466.6 732.4,467.2 732.2,467.9 732.1,468.3 731.9,468.6 731.7,467.3 731.5,466.5 731.4,466.9 731.2,465.7 731,467.2 730.8,467.6 730.7,467.7 730.5,466.4 730.3,466.2 730.2,466.3 730,466.9 729.8,464.7 729.6,464.2 729.5,464.8 729.3,464.3 729.1,462 729,462.8 728.8,463.9 728.6,462.9 728.4,461.3 728.3,463.2 728.1,460.1 727.9,461.8 727.7,462.8 727.6,461.7 727.4,458.3 727.2,460.6 727.1,460.8 726.9,459 726.7,460.9 726.5,458.8 726.4,458.4 726.2,461.6 726,459.6 725.9,460 725.7,459 725.5,459.3 725.3,456.8 725.2,458.5 725,459.8 724.8,459.1 724.6,458.7 724.5,459.4 724.3,459.6 724.1,460.9 724,460 723.8,458.8 723.6,460.7 723.4,459.6 723.3,460.3 723.1,459.9 722.9,458.8 722.8,460.4 722.6,456.9 722.4,458 722.2,456.3 722.1,455.3 721.9,457.7 721.7,456.6 721.6,458.2 721.4,454.4 721.2,455 721,453 720.9,454.5 720.7,453.3 720.5,455.2 720.3,452.3 720.2,453.4 720,451.6 719.8,452.5 719.7,452.4 719.5,451.3 719.3,451.8 719.1,450.6 719,449.9 718.8,450.9 718.6,449.4 718.5,448.1 718.3,448.6 718.1,452.2 717.9,447.9 717.8,447.8 717.6,448.6 717.4,448.3 717.2,444.3 717.1,445.9 716.9,448.8 716.7,447.8 716.6,446.9 716.4,447.9 716.2,448 716,448.2 715.9,446.7 715.7,448.1 715.5,448.2 715.4,450 715.2,447.8 715,447.8 714.8,447.4 714.7,446.6 714.5,445.5 714.3,445.2 714.1,448.5 714,448 713.8,447.8 713.6,446.3 713.5,448.5 713.3,446.8 713.1,447.1 712.9,446.4 712.8,448 712.6,447 712.4,448.8 712.3,448.6 712.1,445.8 711.9,448 711.7,445 711.6,444.1 711.4,446 711.2,447.4 711,445.3 710.9,445.1 710.7,446.5 710.5,446.1 710.4,443.4 710.2,447.1 710,445.4 709.8,446.7 709.7,446.4 709.5,446.5 709.3,447.7 709.2,446.1 709,446.8 708.8,446.3 708.6,446.8 708.5,449.5 708.3,449.2 708.1,448.8 707.9,449.4 707.8,447.8 707.6,449.7 707.4,446.2 707.3,449.3 707.1,446.2 706.9,446.2 706.7,446.1 706.6,447.1 706.4,446.9 706.2,447.7 706.1,446.4 705.9,444.6 705.7,444 705.5,445.2 705.4,445.8 705.2,446.9 705,446.9 704.8,445.5 704.7,444.2 704.5,444.6 704.3,442.7 704.2,443.8 704,440.4 703.8,441.5 703.6,444.1 703.5,442.7 703.3,440.7 703.1,441.9 703,440.7 702.8,439.6 702.6,441.3 702.4,440.7 702.3,440.1 702.1,444.1 701.9,442.1 701.7,442.2 701.6,441.6 701.4,440.5 701.2,440 701.1,439.5 700.9,440.2 700.7,439.3 700.5,442.4 700.4,441.5 700.2,442.3 700,443.7 699.9,440.5 699.7,439.5 699.5,441.5 699.3,442.6 699.2,439.8 699,441 698.8,439.8 698.6,442.8 698.5,439.7 698.3,440.5 698.1,440.4 698,438.6 697.8,436.9 697.6,437.2 697.4,437.8 697.3,436.2 697.1,435.5 696.9,436.2 696.8,437.4 696.6,436.1 696.4,434.7 696.2,437.1 696.1,436.8 695.9,434.3 695.7,433.4 695.5,434.6 695.4,436.8 695.2,432.6 695,432.8 694.9,433.5 694.7,433.9 694.5,432.4 694.3,433.9 694.2,433.3 694,434.9 693.8,435.6 693.7,433.7 693.5,431.6 693.3,434 693.1,432.8 693,431.3 692.8,434 692.6,435.4 692.4,430.1 692.3,432 692.1,435.8 691.9,434 691.8,434.8 691.6,434.9 691.4,430.6 691.2,433.2 691.1,433.9 690.9,433.2 690.7,433.1 690.6,433 690.4,432.3 690.2,432.2 690,433.3 689.9,429.4 689.7,430.4 689.5,430.2 689.3,431.6 689.2,428.8 689,429.8 688.8,431.1 688.7,431.9 688.5,429.5 688.3,431.8 688.1,429.3 688,428.7 687.8,430.2 687.6,429.3 687.5,429.4 687.3,427.9 687.1,427.4 686.9,428 686.8,428.4 686.6,426.6 686.4,426.8 686.2,426.3 686.1,425.7 685.9,426.2 685.7,423.9 685.6,426.3 685.4,426.3 685.2,425.6 685,425.8 684.9,428.2 684.7,426.7 684.5,427 684.4,430.3 684.2,428.7 684,429.6 683.8,428.1 683.7,430.2 683.5,428.6 683.3,429.4 683.1,428.4 683,428.1 682.8,429.2 682.6,428.1 682.5,428.1 682.3,430.3 682.1,430 681.9,429.7 681.8,427.7 681.6,429.4 681.4,430.5 681.3,429.2 681.1,429.9 680.9,430.4 680.7,430.3 680.6,428.3 680.4,428.8 680.2,430.3 680.1,430.5 679.9,430.2 679.7,429.7 679.5,431 679.4,429.2 679.2,428.6 679,431 678.8,427.9 678.7,431.1 678.5,431.3 678.3,430.1 678.2,431.4 678,431.2 677.8,431.9 677.6,431 677.5,434.1 677.3,432.6 677.1,432.2 677,429.6 676.8,434.2 676.6,434.9 676.4,430.8 676.3,437.1 676.1,436.5 675.9,436.1 675.7,432.5 675.6,435.2 675.4,433.8 675.2,435.4 675.1,431.6 674.9,434.8 674.7,434.4 674.5,436.9 674.4,433.8 674.2,435.5 674,435.3 673.9,432.9 673.7,434.6 673.5,434.2 673.3,431.5 673.2,431.8 673,433.6 672.8,431 672.6,432 672.5,432.7 672.3,430.2 672.1,432.2 672,431.6 671.8,430.4 671.6,430.1 671.4,428.8 671.3,430.4 671.1,431.6 670.9,429.9 670.8,431.8 670.6,431.9 670.4,432.3 670.2,431.6 670.1,432.9 669.9,431.4 669.7,432.8 669.5,430.3 669.4,432.1 669.2,433.2 669,432.6 668.9,432 668.7,431 668.5,434.5 668.3,435.4 668.2,432.7 668,434 667.8,434.6 667.7,433.8 667.5,434.3 667.3,432.6 667.1,432 667,434.5 666.8,433.4 666.6,434.3 666.4,432.4 666.3,432.5 666.1,431.2 665.9,431 665.8,430 665.6,429.4 665.4,431 665.2,432.5 665.1,430.4 664.9,431 664.7,430.2 664.6,429.3 664.4,430.3 664.2,430.9 664,429.7 663.9,429.2 663.7,428.2 663.5,431.2 663.3,429.8 663.2,427.5 663,430.7 662.8,430.4 662.7,429.5 662.5,429.5 662.3,428.9 662.1,429.9 662,429.9 661.8,430.7 661.6,432.4 661.5,429.9 661.3,429.9 661.1,430.3 660.9,431.4 660.8,432.8 660.6,432.4 660.4,435.1 660.2,433.6 660.1,433.7 659.9,431.9 659.7,435.1 659.6,431.5 659.4,430.8 659.2,429.1 659,429.8 658.9,431.8 658.7,430.8 658.5,431.5 658.4,431.4 658.2,429.1 658,430.3 657.8,429.4 657.7,429.4 657.5,429.8 657.3,427.7 657.1,431.3 657,428.5 656.8,429.5 656.6,429.1 656.5,429.4 656.3,428.5 656.1,429.7 655.9,426.3 655.8,427.7 655.6,426.2 655.4,426.2 655.3,425.9 655.1,424 654.9,426.5 654.7,423.3 654.6,426.4 654.4,426.6 654.2,426.2 654,426.7 653.9,425.1 653.7,424.3 653.5,425.3 653.4,424 653.2,428.2 653,425 652.8,427.1 652.7,426.3 652.5,425.9 652.3,429.3 652.2,428.4 652,428.8 651.8,427.3 651.6,429 651.5,431.2 651.3,429.4 651.1,428.7 650.9,430.1 650.8,429.2 650.6,431.4 650.4,430.5 650.3,429.1 650.1,431.1 649.9,431 649.7,430.7 649.6,430.6 649.4,429.5 649.2,430.2 649.1,431.4 648.9,430.8 648.7,430.3 648.5,432.3 648.4,431.3 648.2,430.5 648,431.2 647.8,429.3 647.7,430.5 647.5,430 647.3,432.6 647.2,430.7 647,434.1 646.8,432.6 646.6,433.8 646.5,432.2 646.3,433.2 646.1,433.1 646,434.4 645.8,435.3 645.6,435.7 645.4,432.9 645.3,435.7 645.1,435 644.9,435.7 644.7,435.4 644.6,433.7 644.4,436.6 644.2,436.9 644.1,434.3 643.9,438.2 643.7,439.5 643.5,437 643.4,437.8 643.2,437.1 643,437.9 642.9,436.7 642.7,437.2 642.5,436.2 642.3,439.7 642.2,436.5 642,435.3 641.8,434 641.6,434.5 641.5,433.1 641.3,434.5 641.1,433.7 641,433.5 640.8,431.6 640.6,433.2 640.4,431.3 640.3,432.7 640.1,430.8 639.9,431.2 639.8,428.8 639.6,429.7 639.4,431.1 639.2,430.6 639.1,429.9 638.9,429.4 638.7,428.1 638.5,431 638.4,430.7 638.2,429.9 638,428.8 637.9,430.8 637.7,432.4 637.5,430.7 637.3,432.8 637.2,430.6 637,433.3 636.8,429.9 636.7,433.8 636.5,432.1 636.3,433.3 636.1,430.9 636,432.5 635.8,432.7 635.6,431.6 635.5,429.9 635.3,428.3 635.1,428.5 634.9,428.1 634.8,427.2 634.6,428.2 634.4,426.6 634.2,428.7 634.1,425.9 633.9,426.6 633.7,426.7 633.6,425.3 633.4,426 633.2,423.7 633,424.3 632.9,425.1 632.7,425.3 632.5,424 632.4,422.2 632.2,424.6 632,426.2 631.8,422.1 631.7,420.1 631.5,424.2 631.3,421.7 631.1,421.7 631,421 630.8,424.3 630.6,423 630.5,422.7 630.3,420.7 630.1,422.8 629.9,422.8 629.8,424.4 629.6,424.3 629.4,424 629.3,422.5 629.1,424.4 628.9,423.6 628.7,421.5 628.6,421.4 628.4,424.2 628.2,421.8 628,423.2 627.9,420.6 627.7,419.6 627.5,420.3 627.4,420.1 627.2,419.3 627,419.3 626.8,419.4 626.7,417.1 626.5,417.8 626.3,417.8 626.2,418.4 626,417.5 625.8,418.4 625.6,417.8 625.5,415.6 625.3,416.3 625.1,413.9 624.9,416.1 624.8,414.7 624.6,412.3 624.4,412.2 624.3,410.6 624.1,413.2 623.9,414.6 623.7,410.5 623.6,411 623.4,410.5 623.2,409.9 623.1,409 622.9,409.3 622.7,410.6 622.5,411.2 622.4,411.7 622.2,410.5 622,410.7 621.8,409.9 621.7,411.6 621.5,410.9 621.3,412 621.2,408.6 621,409.8 620.8,409.8 620.6,409.8 620.5,409.7 620.3,410.7 620.1,412.5 620,409.2 619.8,410.4 619.6,412.4 619.4,411.3 619.3,413.7 619.1,410.8 618.9,410.2 618.7,410.1 618.6,412.1 618.4,413.3 618.2,410.1 618.1,409.6 617.9,410.5 617.7,409.9 617.5,411.9 617.4,409.6 617.2,407.1 617,410 616.9,406.7 616.7,410.3 616.5,409.4 616.3,407.1 616.2,408.5 616,409.6 615.8,409.4 615.6,406.6 615.5,408.8 615.3,410.1 615.1,411 615,408.7 614.8,409.9 614.6,409.3 614.4,410.1 614.3,409.5 614.1,411.4 613.9,411.6 613.8,413 613.6,413.1 613.4,412 613.2,413.9 613.1,409.2 612.9,410 612.7,408.8 612.5,409.5 612.4,412.4 612.2,408.3 612,409.5 611.9,409.7 611.7,410.1 611.5,410.6 611.3,409.8 611.2,409.4 611,411.2 610.8,407.2 610.7,407.7 610.5,407.5 610.3,406.7 610.1,405.4 610,404.5 609.8,407.1 609.6,405.1 609.4,407 609.3,406.5 609.1,403 608.9,404.6 608.8,402.8 608.6,400.9 608.4,402.4 608.2,402.3 608.1,403.9 607.9,404.2 607.7,403.9 607.6,402.8 607.4,404.1 607.2,402.8 607,401.7 606.9,401.7 606.7,402.9 606.5,402.6 606.3,402 606.2,402 606,403.3 605.8,403.6 605.7,403.8 605.5,403.5 605.3,403.6 605.1,406.3 605,404.4 604.8,404.8 604.6,401.4 604.5,403.5 604.3,401.5 604.1,402 603.9,401.1 603.8,401.9 603.6,401.4 603.4,402.1 603.2,398.2 603.1,400.5 602.9,399 602.7,400.1 602.6,399.8 602.4,399.4 602.2,397.8 602,397 601.9,394.6 601.7,396.7 601.5,398.3 601.4,396.8 601.2,396.1 601,396.4 600.8,395.1 600.7,394.7 600.5,395.2 600.3,394.2 600.1,396.1 600,394.5 599.8,396.4 599.6,394 599.5,396.4 599.3,394 599.1,394.9 598.9,396.7 598.8,392.6 598.6,395.5 598.4,397 598.3,396.9 598.1,394.4 597.9,398.2 597.7,396 597.6,394.1 597.4,398.1 597.2,394.1 597,395.2 596.9,395 596.7,393.4 596.5,393.4 596.4,392.2 596.2,392.2 596,391.6 595.8,392.4 595.7,390.8 595.5,394.2 595.3,391 595.2,390.2 595,389.8 594.8,389.1 594.6,387.8 594.5,389.2 594.3,389.5 594.1,385.9 594,385.2 593.8,386.1 593.6,387.5 593.4,387.2 593.3,385.7 593.1,387.5 592.9,386.4 592.7,385 592.6,383.5 592.4,385.8 592.2,383.5 592.1,382.8 591.9,383.7 591.7,381.2 591.5,382.8 591.4,382.5 591.2,383.9 591,381.8 590.9,382.7 590.7,382.6 590.5,382.9 590.3,383.7 590.2,382.8 590,384.5 589.8,381.8 589.6,381.5 589.5,382 589.3,384.1 589.1,384.1 589,382.6 588.8,384.7 588.6,384.8 588.4,386.4 588.3,383.4 588.1,386.9 587.9,384.9 587.8,386.1 587.6,382.9 587.4,385.9 587.2,384.6 587.1,385.3 586.9,383.1 586.7,385.2 586.5,383.2 586.4,384.1 586.2,385.7 586,384.1 585.9,384 585.7,387.7 585.5,382.4 585.3,385.2 585.2,385.3 585,386.6 584.8,381.3 584.7,386.1 584.5,384.5 584.3,386.8 584.1,388.2 584,386.3 583.8,388.2 583.6,387.2 583.4,387.7 583.3,387.6 583.1,387.6 582.9,387.6 582.8,388.8 582.6,390.8 582.4,391.5 582.2,391.8 582.1,391.6 581.9,391.1 581.7,393.1 581.6,390.6 581.4,390.7 581.2,390.6 581,390.8 580.9,388.5 580.7,390.8 580.5,389.4 580.3,390.8 580.2,390.1 580,392 579.8,392.2 579.7,390.4 579.5,392.6 579.3,393 579.1,390.6 579,389.5 578.8,389.1 578.6,389.8 578.5,392 578.3,388.5 578.1,391.2 577.9,390.1 577.8,391 577.6,389.2 577.4,389.6 577.2,388 577.1,389 576.9,389.9 576.7,390.7 576.6,391.2 576.4,390.7 576.2,389.6 576,392.6 575.9,391.1 575.7,392 575.5,394.8 575.4,392.2 575.2,392 575,390.7 574.8,391.1 574.7,391.5 574.5,391.8 574.3,394.2 574.1,394.2 574,394.2 573.8,394.7 573.6,393.9 573.5,393.9 573.3,394.2 573.1,396.3 572.9,396.4 572.8,394.8 572.6,391.9 572.4,395.7 572.3,393.8 572.1,393.7 571.9,392.3 571.7,392.3 571.6,393.6 571.4,391.9 571.2,393.5 571,392.2 570.9,393.8 570.7,391.5 570.5,390.5 570.4,391.5 570.2,392.8 570,392.2 569.8,391.3 569.7,394.8 569.5,393 569.3,392.9 569.2,392.7 569,391.4 568.8,392.6 568.6,393.2 568.5,392.9 568.3,392.6 568.1,393.5 567.9,390.2 567.8,391.3 567.6,395.2 567.4,392.1 567.3,395.2 567.1,393.3 566.9,395.7 566.7,395.1 566.6,396.8 566.4,396.1 566.2,397.9 566.1,396.9 565.9,394.4 565.7,397.1 565.5,398.3 565.4,395.7 565.2,395.9 565,394.5 564.8,394.9 564.7,394.3 564.5,395.4 564.3,395.1 564.2,395.5 564,392.9 563.8,395.5 563.6,395.5 563.5,391.4 563.3,391.3 563.1,396.2 563,394.1 562.8,393.6 562.6,396 562.4,393.2 562.3,391.9 562.1,392.4 561.9,395.6 561.7,393.4 561.6,392.6 561.4,390.6 561.2,394.3 561.1,393.2 560.9,390.3 560.7,391.4 560.5,391.4 560.4,391.4 560.2,389.4 560,391.9 559.9,390.4 559.7,391.5 559.5,393.2 559.3,391.2 559.2,391.5 559,392.3 558.8,394.3 558.6,393.6 558.5,393 558.3,392.3 558.1,393 558,394.1 557.8,395.4 557.6,394.8 557.4,396.6 557.3,395.4 557.1,396.3 556.9,396.1 556.8,396.5 556.6,395.6 556.4,397.1 556.2,397.6 556.1,397 555.9,396.7 555.7,397 555.5,398.3 555.4,398.8 555.2,397.7 555,396.5 554.9,399.3 554.7,394.5 554.5,396.7 554.3,397.2 554.2,397.4 554,398.4 553.8,395.3 553.7,397.1 553.5,398.3 553.3,397.2 553.1,396.6 553,397.1 552.8,399.3 552.6,399 552.4,401.4 552.3,399.9 552.1,400.6 551.9,404.7 551.8,400.7 551.6,404.7 551.4,401.6 551.2,401.1 551.1,402.4 550.9,404.3 550.7,406.2 550.6,404.4 550.4,405 550.2,407.1 550,406.6 549.9,403.7 549.7,404.7 549.5,404.4 549.4,405.9 549.2,404.6 549,403.6 548.8,405.2 548.7,404.9 548.5,403.9 548.3,403.2 548.1,406 548,404.5 547.8,407.3 547.6,406 547.5,405.7 547.3,403.8 547.1,406.3 546.9,403.6 546.8,403.8 546.6,400.6 546.4,403 546.3,400.8 546.1,402.6 545.9,403.3 545.7,405.5 545.6,399.9 545.4,404.9 545.2,404.2 545,403.2 544.9,405.1 544.7,403.2 544.5,404.7 544.4,403.8 544.2,407.1 544,405.6 543.8,407 543.7,407.4 543.5,405.7 543.3,405.7 543.2,405.7 543,407.5 542.8,406.8 542.6,409.8 542.5,404.7 542.3,408.1 542.1,408.5 541.9,409.3 541.8,408.1 541.6,408 541.4,406.6 541.3,405.1 541.1,406.4 540.9,408.4 540.7,407.2 540.6,404.4 540.4,406.3 540.2,407.2 540.1,406.1 539.9,407.1 539.7,406.5 539.5,403.9 539.4,408.7 539.2,402.5 539,406.6 538.8,403.7 538.7,405.9 538.5,404.5 538.3,404.5 538.2,405.1 538,403.8 537.8,404.6 537.6,404.8 537.5,404.9 537.3,406.6 537.1,403.5 537,403.4 536.8,407.3 536.6,407.6 536.4,408.1 536.3,406.3 536.1,408.8 535.9,408.4 535.7,408.5 535.6,409.6 535.4,409.2 535.2,411.4 535.1,412 534.9,409.3 534.7,413.1 534.5,412.4 534.4,410.8 534.2,411.4 534,414.1 533.9,412.8 533.7,413.7 533.5,415.2 533.3,413 533.2,413.3 533,410.9 532.8,411.3 532.6,410.2 532.5,410.2 532.3,414.1 532.1,414.4 532,411.7 531.8,411.8 531.6,412.2 531.4,414.6 531.3,414 531.1,413 530.9,412.3 530.8,416.1 530.6,413.7 530.4,411.4 530.2,413.8 530.1,413.5 529.9,412.6 529.7,412.2 529.5,411.7 529.4,412.5 529.2,415.8 529,412.6 528.9,413.7 528.7,416.9 528.5,413.4 528.3,414.8 528.2,415.1 528,412.8 527.8,417.6 527.7,413.7 527.5,415.5 527.3,416.5 527.1,415.4 527,417.2 526.8,418.6 526.6,420.1 526.4,420.3 526.3,420.7 526.1,420.5 525.9,420.4 525.8,420.6 525.6,420.8 525.4,422.3 525.2,421.6 525.1,421.5 524.9,423.5 524.7,422.9 524.6,425.6 524.4,423.9 524.2,425.6 524,425.2 523.9,425.8 523.7,424.1 523.5,425.8 523.3,428.9 523.2,425.9 523,428.3 522.8,427.1 522.7,424.2 522.5,428 522.3,428.8 522.1,429.8 522,427.4 521.8,430.2 521.6,429.9 521.5,429.1 521.3,430.3 521.1,432.9 520.9,430.8 520.8,430.8 520.6,430.6 520.4,432.9 520.2,435.9 520.1,434.3 519.9,434.3 519.7,437.5 519.6,434.9 519.4,436.8 519.2,437.1 519,439.2 518.9,438.8 518.7,437.2 518.5,438.5 518.4,438.8 518.2,440.9 518,438.6 517.8,438.6 517.7,440.7 517.5,440 517.3,442.3 517.1,437.8 517,440.4 516.8,440.9 516.6,442.6 516.5,441 516.3,443.8 516.1,442.4 515.9,439.1 515.8,441.7 515.6,443.8 515.4,440.2 515.3,442.9 515.1,440.3 514.9,442 514.7,442.1 514.6,442.3 514.4,443.1 514.2,438.3 514,439.8 513.9,442.4 513.7,439.9 513.5,442.2 513.4,441.8 513.2,444.3 513,444.3 512.8,444.6 512.7,443 512.5,444.5 512.3,445.5 512.2,449.2 512,447 511.8,446.7 511.6,445.5 511.5,447.3 511.3,449.4 511.1,448.6 510.9,449.5 510.8,450.7 510.6,448.1 510.4,452.7 510.3,451.4 510.1,451.3 509.9,449.4 509.7,449.8 509.6,450.8 509.4,449.1 509.2,447.8 509.1,448.9 508.9,446.6 508.7,449.3 508.5,448.7 508.4,449.1 508.2,446.5 508,447.2 507.9,446.5 507.7,446.6 507.5,447.8 507.3,446.2 507.2,447.2 507,447.2 506.8,446.1 506.6,449.6 506.5,446.3 506.3,447.4 506.1,446.2 506,447.3 505.8,446.3 505.6,448.2 505.4,447.8 505.3,446.9 505.1,447.7 504.9,449 504.8,445.7 504.6,447.1 504.4,448 504.2,447.9 504.1,448.5 503.9,449.9 503.7,447.2 503.5,448.5 503.4,449.9 503.2,448.6 503,451.6 502.9,450.5 502.7,449.1 502.5,448.2 502.3,448.8 502.2,448.5 502,446.8 501.8,447.4 501.7,445.6 501.5,446.6 501.3,448.3 501.1,447.6 501,444.9 500.8,445.8 500.6,444.3 500.4,444.4 500.3,445.6 500.1,445.3 499.9,447.1 499.8,443.6 499.6,444.9 499.4,445.1 499.2,441.7 499.1,444.5 498.9,443.5 498.7,444.7 498.6,442.9 498.4,443 498.2,446 498,442.8 497.9,442.3 497.7,441.5 497.5,443.1 497.3,440.8 497.2,442.2 497,441.4 496.8,440.1 496.7,442.5 496.5,443.4 496.3,442 496.1,439.8 496,442.8 495.8,443 495.6,443.8 495.5,443.3 495.3,442.7 495.1,444.5 494.9,444.2 494.8,442.9 494.6,443.7 494.4,441.9 494.2,444.8 494.1,443.3 493.9,446.7 493.7,448.2 493.6,447.3 493.4,446.8 493.2,447.7 493,448.2 492.9,443.8 492.7,445.7 492.5,444.2 492.4,446.6 492.2,446.2 492,447.3 491.8,446.5 491.7,446.3 491.5,445.9 491.3,445.8 491.1,447.6 491,447.9 490.8,445 490.6,446 490.5,445.7 490.3,447.9 490.1,446 489.9,447.9 489.8,449.2 489.6,448.8 489.4,449.1 489.3,447 489.1,447.2 488.9,448 488.7,448.6 488.6,448 488.4,449.3 488.2,453.8 488,452.2 487.9,450.5 487.7,451.8 487.5,452.7 487.4,452.9 487.2,451.1 487,451.7 486.8,452.6 486.7,451.3 486.5,450.9 486.3,452.3 486.2,451.9 486,452.8 485.8,451.9 485.6,451.8 485.5,452.7 485.3,451.5 485.1,452.3 484.9,449.9 484.8,448.7 484.6,448.9 484.4,450.9 484.3,450.4 484.1,448.1 483.9,447.7 483.7,451.3 483.6,449.6 483.4,447.8 483.2,447.2 483.1,450.9 482.9,446.9 482.7,446.8 482.5,446.1 482.4,447.4 482.2,447.3 482,448.6 481.8,447.5 481.7,447.6 481.5,448.4 481.3,447.5 481.2,451.8 481,446.3 480.8,448.8 480.6,448 480.5,448.7 480.3,448.7 480.1,449.9 480,448.7 479.8,449.6 479.6,448.9 479.4,449.9 479.3,448.3 479.1,449.3 478.9,447.7 478.7,448.5 478.6,448.7 478.4,447 478.2,446 478.1,447.1 477.9,444.7 477.7,447 477.5,448.7 477.4,446.6 477.2,445.1 477,445.3 476.9,445.4 476.7,442.2 476.5,441.5 476.3,444.5 476.2,445.9 476,441.3 475.8,443.4 475.6,441.8 475.5,444.3 475.3,443.7 475.1,445 475,442.9 474.8,440 474.6,441.4 474.4,443.3 474.3,444.1 474.1,439.7 473.9,441.4 473.8,441.2 473.6,440.2 473.4,440 473.2,443.1 473.1,442.4 472.9,439.7 472.7,441.8 472.5,443.2 472.4,442.5 472.2,443.6 472,441.3 471.9,443 471.7,443 471.5,444 471.3,442.8 471.2,442.4 471,444.9 470.8,443.2 470.7,444.4 470.5,440.8 470.3,441.4 470.1,440.7 470,441.3 469.8,441 469.6,438.9 469.4,438.1 469.3,436.6 469.1,437.2 468.9,436.1 468.8,437.2 468.6,437.4 468.4,437 468.2,435.4 468.1,435.5 467.9,436.5 467.7,434.5 467.6,435.7 467.4,432.9 467.2,432.3 467,432 466.9,433.3 466.7,430.4 466.5,431.1 466.3,431.1 466.2,430.1 466,431.3 465.8,431.8 465.7,430.8 465.5,430.5 465.3,431.2 465.1,430.1 465,430.3 464.8,430.4 464.6,430.9 464.5,431.4 464.3,432.4 464.1,431.9 463.9,432.8 463.8,432.2 463.6,430.6 463.4,431.1 463.3,433.4 463.1,430.6 462.9,431.3 462.7,430.9 462.6,433.1 462.4,431.7 462.2,430.4 462,432.7 461.9,432.4 461.7,433.1 461.5,431.9 461.4,431.3 461.2,431.4 461,430.6 460.8,432 460.7,431 460.5,429.9 460.3,431 460.2,430 460,431.4 459.8,431.1 459.6,431.4 459.5,431.1 459.3,428.6 459.1,432 458.9,432.3 458.8,433 458.6,428 458.4,428.6 458.3,431.2 458.1,430.4 457.9,433.6 457.7,431 457.6,433.3 457.4,433 457.2,431.2 457.1,432.7 456.9,432.6 456.7,433.9 456.5,432.5 456.4,433.7 456.2,435.8 456,433.1 455.8,434.9 455.7,430.5 455.5,431.5 455.3,433 455.2,433.4 455,432 454.8,432.4 454.6,431.3 454.5,430.5 454.3,431.7 454.1,430.5 454,432.7 453.8,429.7 453.6,429.8 453.4,429.8 453.3,430.1 453.1,428.2 452.9,427.5 452.7,428 452.6,426.9 452.4,426.2 452.2,428.1 452.1,426.9 451.9,424.4 451.7,423.8 451.5,422.7 451.4,423.5 451.2,422.7 451,422.3 450.9,424.2 450.7,424.3 450.5,422.1 450.3,423.7 450.2,422.2 450,424.9 449.8,423 449.6,425 449.5,423.4 449.3,425.1 449.1,423.9 449,422.5 448.8,422.6 448.6,423.7 448.4,424.4 448.3,424.7 448.1,423.2 447.9,421.7 447.8,423.8 447.6,423.3 447.4,423.7 447.2,421.8 447.1,421.3 446.9,422.1 446.7,421 446.5,420.6 446.4,421.1 446.2,419 446,421 445.9,418.5 445.7,417 445.5,418.9 445.3,417.5 445.2,415.3 445,418.5 444.8,413.8 444.7,415.5 444.5,415 444.3,414.2 444.1,415 444,414.2 443.8,413.4 443.6,411.1 443.4,412.5 443.3,415.3 443.1,414.3 442.9,414.6 442.8,410.5 442.6,413 442.4,411.3 442.2,411.3 442.1,411 441.9,410.9 441.7,411.6 441.6,413.4 441.4,410.4 441.2,413.6 441,410.8 440.9,411.7 440.7,412.6 440.5,411.1 440.3,412.8 440.2,412.1 440,409.8 439.8,412.8 439.7,411.2 439.5,410.9 439.3,409.3 439.1,408 439,408.5 438.8,409.4 438.6,407.8 438.5,408.5 438.3,407.8 438.1,407.6 437.9,407.8 437.8,405.1 437.6,404.6 437.4,403.8 437.2,405 437.1,404.6 436.9,402.3 436.7,402.9 436.6,403.9 436.4,401.8 436.2,403.9 436,401.3 435.9,400.6 435.7,399.2 435.5,402.9 435.4,398.8 435.2,398.7 435,400.6 434.8,398.2 434.7,399.3 434.5,399.5 434.3,397.3 434.1,395.2 434,394.5 433.8,393.2 433.6,393 433.5,394.2 433.3,394.5 433.1,394.7 432.9,394.2 432.8,393.6 432.6,395.8 432.4,394.3 432.3,394.2 432.1,392.6 431.9,393.5 431.7,394.8 431.6,395.4 431.4,391.2 431.2,394.2 431,391.2 430.9,391.5 430.7,392.2 430.5,392.5 430.4,392.4 430.2,394.9 430,392.4 429.8,391.9 429.7,391 429.5,390.5 429.3,391.3 429.2,390.1 429,392.6 428.8,389.2 428.6,387.4 428.5,389 428.3,389.7 428.1,388.2 427.9,389.7 427.8,386.9 427.6,389.8 427.4,386.5 427.3,385.2 427.1,386.6 426.9,388.5 426.7,387.3 426.6,386.1 426.4,386.6 426.2,387.4 426.1,386.5 425.9,387.4 425.7,388.5 425.5,385.6 425.4,386.9 425.2,387 425,387.9 424.8,387.3 424.7,388.9 424.5,387 424.3,387 424.2,384.7 424,385.9 423.8,383.6 423.6,385.1 423.5,385.4 423.3,384.2 423.1,385.1 423,386.2 422.8,382.1 422.6,383 422.4,384.2 422.3,383.1 422.1,381.9 421.9,382.3 421.8,381.5 421.6,381.4 421.4,380 421.2,378.7 421.1,378.8 420.9,379.1 420.7,379.9 420.5,377.4 420.4,377.7 420.2,375.9 420,373.8 419.9,374.5 419.7,375.2 419.5,372.3 419.3,373.3 419.2,373.5 419,376.3 418.8,375.6 418.7,372.3 418.5,372 418.3,375.4 418.1,372 418,373.3 417.8,372.5 417.6,371.9 417.4,372.2 417.3,371.5 417.1,370.8 416.9,372.8 416.8,372.5 416.6,369.6 416.4,371.6 416.2,372.6 416.1,370.1 415.9,369.7 415.7,370 415.6,367.8 415.4,368.7 415.2,367.5 415,369 414.9,366.1 414.7,366.9 414.5,366.8 414.3,361.5 414.2,363.2 414,365.2 413.8,365.3 413.7,363.5 413.5,360.9 413.3,362.8 413.1,360.7 413,360.6 412.8,359.8 412.6,358.8 412.5,358.6 412.3,359.6 412.1,359.3 411.9,357.6 411.8,362.3 411.6,357.8 411.4,357.8 411.2,358.2 411.1,357.8 410.9,359.4 410.7,354.9 410.6,355 410.4,356.4 410.2,357.3 410,356.9 409.9,357.4 409.7,356.2 409.5,357.4 409.4,356.1 409.2,356.8 409,356.3 408.8,356.6 408.7,354.9 408.5,354.4 408.3,353.7 408.1,352.4 408,352.9 407.8,351.8 407.6,353.2 407.5,352.3 407.3,352.3 407.1,350.3 406.9,349.3 406.8,349 406.6,349.5 406.4,346.7 406.3,348.4 406.1,347 405.9,346.2 405.7,343.3 405.6,342.2 405.4,344.8 405.2,344.7 405,341.9 404.9,341.4 404.7,342.3 404.5,342.2 404.4,340.6 404.2,341.4 404,340.6 403.8,343.4 403.7,338.4 403.5,339.7 403.3,338.3 403.2,337 403,337.8 402.8,335.5 402.6,337.2 402.5,335.7 402.3,333.7 402.1,336.2 401.9,337.2 401.8,336.5 401.6,335.6 401.4,331.8 401.3,335.1 401.1,335.7 400.9,335 400.7,332.2 400.6,335.6 400.4,333.7 400.2,336.5 400.1,333 399.9,333 399.7,331.3 399.5,335.3 399.4,332.9 399.2,335.2 399,333.8 398.8,331.7 398.7,332.1 398.5,331.4 398.3,332.4 398.2,331.2 398,332 397.8,331.9 397.6,329.1 397.5,331.6 397.3,329.6 397.1,327.6 397,328.6 396.8,329.4 396.6,328.4 396.4,328 396.3,326.9 396.1,327 395.9,327.5 395.7,325 395.6,328 395.4,329.5 395.2,326.8 395.1,327.4 394.9,328.5 394.7,327 394.5,328.3 394.4,327 394.2,329.8 394,328 393.9,330.6 393.7,326.8 393.5,327.5 393.3,329.9 393.2,328.7 393,327.4 392.8,327.6 392.6,328.3 392.5,324.8 392.3,327 392.1,325.1 392,326.3 391.8,327.4 391.6,324.6 391.4,324 391.3,324.4 391.1,321.3 390.9,322 390.8,321.9 390.6,321.5 390.4,321.1 390.2,321.2 390.1,321.8 389.9,321.2 389.7,318.1 389.5,316.5 389.4,318.7 389.2,318.3 389,317.4 388.9,317.4 388.7,317.7 388.5,316.9 388.3,313.4 388.2,311.3 388,313.5 387.8,312.9 387.7,314.4 387.5,314.9 387.3,313.7 387.1,313.6 387,311.3 386.8,312.4 386.6,313.2 386.4,311.7 386.3,313.1 386.1,312.3 385.9,313.8 385.8,311.3 385.6,313.7 385.4,311.4 385.2,311.8 385.1,312.1 384.9,310.8 384.7,309.6 384.6,310.3 384.4,311.1 384.2,311.1 384,309.3 383.9,309.9 383.7,310.8 383.5,306.3 383.3,308.8 383.2,308.9 383,304.7 382.8,304.3 382.7,302.2 382.5,303.4 382.3,302.8 382.1,305.5 382,302.1 381.8,301.3 381.6,302.7 381.5,300.5 381.3,299.5 381.1,301.6 380.9,300.7 380.8,297.7 380.6,301.4 380.4,300 380.2,298.4 380.1,298.3 379.9,299.7 379.7,297.8 379.6,298.5 379.4,295.9 379.2,297.5 379,296.1 378.9,296.7 378.7,297.6 378.5,296.6 378.4,297.4 378.2,295.1 378,299 377.8,296.1 377.7,297.3 377.5,298.3 377.3,295.9 377.2,294.5 377,296.9 376.8,294.2 376.6,293.8 376.5,291.9 376.3,294.8 376.1,293.6 375.9,293.5 375.8,294 375.6,289.5 375.4,290.9 375.3,291.6 375.1,290.3 374.9,289.4 374.7,288.3 374.6,286.6 374.4,286.6 374.2,287.2 374.1,287.8 373.9,284.6 373.7,284.4 373.5,284.5 373.4,283.2 373.2,283.6 373,282.8 372.8,280.5 372.7,281.8 372.5,279.5 372.3,280.5 372.2,281.4 372,282.3 371.8,278.5 371.6,277.7 371.5,274.9 371.3,276.7 371.1,277.2 371,276.3 370.8,275.1 370.6,274.6 370.4,278.1 370.3,275.2 370.1,276.4 369.9,277.3 369.7,274.4 369.6,277 369.4,275.6 369.2,275.2 369.1,275.8 368.9,273.6 368.7,273 368.5,272.1 368.4,274.4 368.2,274 368,274.3 367.9,273.7 367.7,274.1 367.5,275.3 367.3,273.7 367.2,273.1 367,271.8 366.8,272.1 366.6,272.5 366.5,273.1 366.3,272 366.1,271.2 366,269 365.8,270.8 365.6,270.3 365.4,271 365.3,271.2 365.1,270.5 364.9,268 364.8,270.2 364.6,268.4 364.4,268.4 364.2,269.6 364.1,268 363.9,268.1 363.7,271 363.5,267.5 363.4,268.4 363.2,268.9 363,268.2 362.9,267.6 362.7,268.6 362.5,267.3 362.3,271 362.2,269.8 362,267.5 361.8,267.5 361.7,269.1 361.5,270.1 361.3,268 361.1,265.9 361,268.8 360.8,267.9 360.6,264.7 360.4,266.4 360.3,265.2 360.1,265.6 359.9,265.3 359.8,263.1 359.6,265.1 359.4,263.9 359.2,263.9 359.1,264.6 358.9,264.3 358.7,261.4 358.6,262.1 358.4,259.3 358.2,258.7 358,261.1 357.9,256.1 357.7,257.6 357.5,257.6 357.3,257.7 357.2,255.8 357,257.8 356.8,254.2 356.7,256.7 356.5,255.5 356.3,254.9 356.1,255.1 356,254.2 355.8,254.4 355.6,253.7 355.5,253.4 355.3,252.9 355.1,252.4 354.9,254.6 354.8,252 354.6,251.9 354.4,252.5 354.2,252 354.1,250.4 353.9,253.2 353.7,251.7 353.6,251.6 353.4,251.3 353.2,250.3 353,247.5 352.9,250.9 352.7,246.3 352.5,247.7 352.4,246.1 352.2,246.1 352,246 351.8,244.3 351.7,244.1 351.5,243 351.3,241.9 351.1,241.9 351,241.9 350.8,240.1 350.6,238.5 350.5,241.1 350.3,240.5 350.1,234.4 349.9,236.5 349.8,237.6 349.6,235.7 349.4,236.9 349.3,237.6 349.1,234.3 348.9,234.6 348.7,233.6 348.6,234.1 348.4,234.3 348.2,234.7 348,233.4 347.9,231.8 347.7,233.6 347.5,232.7 347.4,231.4 347.2,232.3 347,229.6 346.8,231.9 346.7,232.3 346.5,233.1 346.3,230.1 346.2,231 346,230.5 345.8,232.8 345.6,229.4 345.5,229.5 345.3,228.8 345.1,226.7 344.9,225.4 344.8,228 344.6,225.3 344.4,226.7 344.3,223.7 344.1,224.6 343.9,222.2 343.7,221.2 343.6,220.9 343.4,221.3 343.2,220.4 343.1,219.2 342.9,218.5 342.7,218 342.5,217.1 342.4,218.1 342.2,216.8 342,213.5 341.8,213.8 341.7,211.6 341.5,211.2 341.3,212.9 341.2,210.6 341,212.6 340.8,211.3 340.6,210.4 340.5,210.7 340.3,209.4 340.1,208.7 340,206.6 339.8,208.6 339.6,207.4 339.4,205.6 339.3,204.8 339.1,205.5 338.9,205.7 338.7,206.2 338.6,205.6 338.4,203.8 338.2,206.9 338.1,204.8 337.9,204.5 337.7,204 337.5,203.1 337.4,203.4 337.2,204.2 337,203.4 336.9,200.6 336.7,202 336.5,201.8 336.3,201.6 336.2,201.7 336,202.5 335.8,201.8 335.7,202 335.5,199.6 335.3,200 335.1,199.2 335,198.2 334.8,200.5 334.6,198.5 334.4,197.3 334.3,198.8 334.1,195.4 333.9,195.7 333.8,193.7 333.6,196.5 333.4,195.6 333.2,194.4 333.1,195 332.9,193.2 332.7,192.1 332.6,194.6 332.4,192.4 332.2,192.7 332,191.3 331.9,192.1 331.7,192.7 331.5,193.4 331.3,192.4 331.2,194.7 331,192.3 330.8,192.3 330.7,193.2 330.5,192.8 330.3,191.7 330.1,190.7 330,191.4 329.8,191.6 329.6,191.3 329.5,190.6 329.3,190.1 329.1,190.6 328.9,187.8 328.8,187.2 328.6,187.3 328.4,189.7 328.2,189.2 328.1,187.7 327.9,186.9 327.7,187 327.6,187.2 327.4,188.4 327.2,187.9 327,185.7 326.9,187.1 326.7,186.8 326.5,185.8 326.4,182.8 326.2,187 326,186.2 325.8,186.6 325.7,185.5 325.5,188.1 325.3,186.9 325.1,186 325,184.6 324.8,186.9 324.6,184.7 324.5,187.2 324.3,188.6 324.1,186.8 323.9,188.7 323.8,186 323.6,186 323.4,189.2 323.3,188.8 323.1,189.1 322.9,188.8 322.7,188.1 322.6,189.2 322.4,189.9 322.2,189.2 322,190.6 321.9,194.3 321.7,189.8 321.5,189.2 321.4,192 321.2,190.9 321,190.2 320.8,191.8 320.7,188.9 320.5,189.4 320.3,190.4 320.2,189.5 320,187.6 319.8,189.1 319.6,186.7 319.5,187.5 319.3,188.2 319.1,191.4 318.9,189.4 318.8,189.5 318.6,188.3 318.4,190.1 318.3,190.9 318.1,186.6 317.9,189.6 317.7,188 317.6,189.3 317.4,192.5 317.2,189.3 317.1,190.5 316.9,190.7 316.7,188 316.5,191.2 316.4,190.6 316.2,189.7 316,188.2 315.8,191.1 315.7,189.6 315.5,194.1 315.3,191.8 315.2,192.2 315,193.6 314.8,191.4 314.6,192.4 314.5,194.8 314.3,193.5 314.1,192.3 314,192.5 313.8,193.2 313.6,194.9 313.4,192.6 313.3,192.5 313.1,193.4 312.9,190 312.7,192.1 312.6,190.9 312.4,191.7 312.2,192.9 312.1,189.1 311.9,191.7 311.7,193.6 311.5,189.8 311.4,193.1 311.2,191.6 311,192.7 310.9,189.7 310.7,191.4 310.5,192.4 310.3,188.1 310.2,190.6 310,189.8 309.8,190.1 309.6,189.3 309.5,188.8 309.3,188.8 309.1,190.9 309,189.2 308.8,187.2 308.6,188 308.4,190.3 308.3,188.5 308.1,190 307.9,189.4 307.8,190.1 307.6,190.2 307.4,189.4 307.2,192 307.1,191 306.9,191.4 306.7,190.9 306.5,190.8 306.4,193.2 306.2,189.9 306,192.4 305.9,193.3 305.7,194.7 305.5,192.8 305.3,196.4 305.2,194.3 305,194.5 304.8,194.3 304.7,197 304.5,192.5 304.3,193.6 304.1,193.3 304,194.4 303.8,196.6 303.6,197.5 303.4,197.2 303.3,196 303.1,196.2 302.9,197.2 302.8,193.6 302.6,195.7 302.4,194.1 302.2,198 302.1,195.6 301.9,193.7 301.7,195.9 301.6,198 301.4,201.4 301.2,205.9 301,203.9 300.9,206.7 300.7,209.5 300.5,211.2 300.3,212.7 300.2,214.8 300,218 299.8,218.2 299.7,221.9 299.5,222.1 299.3,225.7 299.1,225.3 299,229.9 298.8,231.6 298.6,230.4 298.5,231.6 298.3,233.2 298.1,236.6 297.9,237 297.8,239.6 297.6,240.6 297.4,243.2 297.2,246 297.1,244.1 296.9,245.1 296.7,247.8 296.6,245.6 296.4,248.1 296.2,252.1 296,251.6 295.9,252.8 295.7,253.5 295.5,254.6 295.4,255.7 295.2,258 295,259.9 294.8,260.1 294.7,262.8 294.5,262.8 294.3,262.7 294.1,265.6 294,267.2 293.8,269.3 293.6,269.9 293.5,272.1 293.3,274.4 293.1,276.2 292.9,279.2 292.8,279.9 292.6,283.5 292.4,281.1 292.3,284 292.1,284.6 291.9,288.3 291.7,287.2 291.6,292.8 291.4,290.1 291.2,294.5 291.1,296 290.9,295.1 290.7,299.7 290.5,299.3 290.4,303 290.2,303.6 290,305.8 289.8,308.1 289.7,308.3 289.5,309.4 289.3,314.5 289.2,310 289,311.8 288.8,314.5 288.6,316.3 288.5,314.5 288.3,317.9 288.1,318.5 288,319.2 287.8,321.9 287.6,324.1 287.4,324.2 287.3,325.2 287.1,326.4 286.9,325.8 286.7,328.9 286.6,330 286.4,329.3 286.2,331.8 286.1,335.7 285.9,336.6 285.7,340 285.5,340.8 285.4,339.2 285.2,342.3 285,341.7 284.9,345.9 284.7,348.8 284.5,348.7 284.3,351.5 284.2,351.9 284,354.1 283.8,354.4 283.6,357.4 283.5,359.5 283.3,361.2 283.1,361.6 283,364.1 282.8,364.7 282.6,368.9 282.4,368.9 282.3,371.1 282.1,371.6 281.9,371.4 281.8,373.6 281.6,372.7 281.4,377.1 281.2,377.8 281.1,378.4 280.9,379.5 280.7,382.5 280.5,382.7 280.4,382.7 280.2,385.2 280,386 279.9,389.2 279.7,389.2 279.5,387.8 279.3,391.9 279.2,389.8 279,395.3 278.8,395.4 278.7,394 278.5,399.2 278.3,398.2 278.1,399.8 278,398.7 277.8,400.8 277.6,402.9 277.4,404.4 277.3,406.2 277.1,411.9 276.9,407.9 276.8,408.1 276.6,411.5 276.4,411.8 276.2,416.4 276.1,417.6 275.9,417.7 275.7,417.5 275.6,419.2 275.4,420.1 275.2,419.7 275,419.1 274.9,419.1 274.7,420.8 274.5,422.2 274.3,423 274.2,421.6 274,420 273.8,423.6 273.7,421.6 273.5,423.3 273.3,422 273.1,421.6 273,421.2 272.8,421.8 272.6,423.3 272.5,423 272.3,421.9 272.1,421.5 271.9,421.3 271.8,424.5 271.6,420.3 271.4,419.8 271.2,424 271.1,422.5 270.9,421 270.7,423.9 270.6,418.1 270.4,422.3 270.2,419.5 270,419.9 269.9,423 269.7,421.9 269.5,420.9 269.4,421.9 269.2,423.5 269,425 268.8,423.8 268.7,425.7 268.5,426 268.3,424.2 268.1,426.8 268,428.4 267.8,425.6 267.6,425.1 267.5,423.8 267.3,424.9 267.1,427.4 266.9,428 266.8,429.4 266.6,424.4 266.4,426.7 266.3,425.6 266.1,426.3 265.9,425.2 265.7,424.8 265.6,425.8 265.4,424.3 265.2,425.7 265,426.7 264.9,425 264.7,424.9 264.5,422.2 264.4,426.1 264.2,424.9 264,423.2 263.8,423.3 263.7,421.5 263.5,424.6 263.3,423.9 263.2,424.6 263,421 262.8,422.3 262.6,422.9 262.5,419.9 262.3,422.3 262.1,421.5 261.9,422.2 261.8,422.9 261.6,421.2 261.4,425.1 261.3,423.6 261.1,422.3 260.9,422.5 260.7,422.4 260.6,424.8 260.4,422.7 260.2,422.5 260.1,423 259.9,424 259.7,424.3 259.5,424.3 259.4,425.6 259.2,424.5 259,424.9 258.8,427.1 258.7,423.4 258.5,424.8 258.3,423 258.2,423.6 258,423.3 257.8,423.9 257.6,423 257.5,422.9 257.3,421.7 257.1,423.2 257,421.4 256.8,420 256.6,422 256.4,422.8 256.3,420.6 256.1,420 255.9,420.3 255.7,419.8 255.6,418.8 255.4,420.3 255.2,419.5 255.1,419.4 254.9,422.5 254.7,419 254.5,420 254.4,418.6 254.2,419.7 254,421 253.9,420.2 253.7,420.2 253.5,417.9 253.3,420.1 253.2,422.4 253,422.3 252.8,419.4 252.6,421.6 252.5,418.7 252.3,421.6 252.1,421.6 252,421.1 251.8,424.2 251.6,421.9 251.4,423 251.3,420.2 251.1,422 250.9,423.3 250.8,420.5 250.6,423.2 250.4,421.7 250.2,421.4 250.1,421.9 249.9,420.1 249.7,420.7 249.6,419.4 249.4,420 249.2,418.4 249,420.2 248.9,417.2 248.7,420 248.5,416.1 248.3,418.3 248.2,416.6 248,417.9 247.8,415.5 247.7,416.2 247.5,415.9 247.3,416.7 247.1,416 247,414.6 246.8,415.5 246.6,412.7 246.5,415.6 246.3,414.3 246.1,413.9 245.9,414.2 245.8,412.2 245.6,414.5 245.4,412.6 245.2,415.8 245.1,413.7 244.9,415.8 244.7,414.8 244.6,413.7 244.4,414.1 244.2,412 244,412.6 243.9,414.9 243.7,413.5 243.5,415.8 243.4,416 243.2,417 243,414.4 242.8,415.9 242.7,417.5 242.5,416.7 242.3,416.6 242.1,416.2 242,418.5 241.8,417.6 241.6,416.7 241.5,414.3 241.3,414.3 241.1,416.6 240.9,417.9 240.8,417.6 240.6,418.4 240.4,417.4 240.3,415.3 240.1,416.9 239.9,415.3 239.7,418.5 239.6,419.6 239.4,418.2 239.2,415.8 239,415.5 238.9,415.2 238.7,416.2 238.5,414.9 238.4,418.6 238.2,417.6 238,417.7 237.8,417.8 237.7,419 237.5,419.5 237.3,420.3 237.2,419.8 237,419.1 236.8,421.7 236.6,418.7 236.5,424.1 236.3,421.7 236.1,421.4 235.9,420.3 235.8,421.1 235.6,420.6 235.4,422.7 235.3,423.5 235.1,419.8 234.9,422.1 234.7,419.4 234.6,422.7 234.4,419.9 234.2,421.3 234.1,420.6 233.9,420.7 233.7,420.9 233.5,420.2 233.4,421 233.2,420 233,418.9 232.8,419.5 232.7,420 232.5,419.5 232.3,418.5 232.2,416.4 232,416.5 231.8,415.9 231.6,415.8 231.5,416.4 231.3,415.6 231.1,417.7 231,417.7 230.8,417.6 230.6,415.5 230.4,416.7 230.3,416.6 230.1,419.9 229.9,419.8 229.7,417.7 229.6,419.7 229.4,419.1 229.2,416 229.1,418.4 228.9,421.4 228.7,419.7 228.5,420.1 228.4,418.8 228.2,418.6 228,421.1 227.9,419.3 227.7,420.1 227.5,421.1 227.3,421.6 227.2,419.1 227,419.7 226.8,418.7 226.6,415.4 226.5,419.1 226.3,417.1 226.1,417.7 226,419.5 225.8,417.8 225.6,418.1 225.4,417.8 225.3,418.4 225.1,415.9 224.9,417 224.8,413.8 224.6,415.1 224.4,415.5 224.2,414.8 224.1,414.8 223.9,414.7 223.7,415.7 223.5,414.1 223.4,415.1 223.2,417.4 223,413.6 222.9,416.2 222.7,416.4 222.5,414.9 222.3,413.7 222.2,414.6 222,415.1 221.8,417 221.7,414.8 221.5,416 221.3,414.7 221.1,418.5 221,415.6 220.8,414.9 220.6,417.2 220.4,418 220.3,416.5 220.1,417.1 219.9,416.2 219.8,418.1 219.6,417.3 219.4,416.2 219.2,416.8 219.1,417.2 218.9,417 218.7,413.2 218.6,414.5 218.4,414.9 218.2,414.3 218,413.3 217.9,415.5 217.7,416.7 217.5,413.2 217.3,413.1 217.2,414.7 217,411.6 216.8,412.8 216.7,413.5 216.5,412.9 216.3,412.2 216.1,411 216,413 215.8,410.2 215.6,410.3 215.5,412.3 215.3,410.9 215.1,409.9 214.9,407.2 214.8,409.8 214.6,410.2 214.4,408.4 214.2,409.1 214.1,408.6 213.9,409.3 213.7,407.7 213.6,408.7 213.4,412.2 213.2,410.7 213,409.7 212.9,410.9 212.7,409.5 212.5,410.3 212.4,408.6 212.2,410.8 212,409.7 211.8,410.9 211.7,413.1 211.5,411.6 211.3,410.6 211.1,411.6 211,412.5 210.8,412.9 210.6,412.6 210.5,411 210.3,412.6 210.1,413.6 209.9,411.4 209.8,411.3 209.6,413.1 209.4,412.8 209.3,413.3 209.1,413.2 208.9,411.9 208.7,410.1 208.6,411.5 208.4,411.3 208.2,412.8 208,413.2 207.9,410.8 207.7,412.3 207.5,413.1 207.4,414.8 207.2,411.1 207,412 206.8,411.5 206.7,410.5 206.5,414.6 206.3,413.7 206.2,413 206,416.2 205.8,415 205.6,414.5 205.5,413.4 205.3,416.7 205.1,417.4 205,413.7 204.8,414.6 204.6,415.6 204.4,416.6 204.3,417.2 204.1,416.7 203.9,416.5 203.7,416.6 203.6,413.5 203.4,413.4 203.2,413.8 203.1,416 202.9,416.6 202.7,416.6 202.5,416.2 202.4,416.3 202.2,416 202,413.8 201.9,413.5 201.7,411.9 201.5,415.5 201.3,410.5 201.2,414 201,411.2 200.8,413 200.6,412.2 200.5,411.5 200.3,412.4 200.1,409.6 200,410 199.8,411.8 199.6,411.5 199.4,408.4 199.3,406.6 199.1,410.1 198.9,407.6 198.8,410.2 198.6,409.4 198.4,410.4 198.2,412.5 198.1,407.6 197.9,410.8 197.7,412.2 197.5,408.9 197.4,410.7 197.2,409.2 197,409 196.9,408.5 196.7,410.1 196.5,410.2 196.3,410.5 196.2,406.5 196,409.2 195.8,408.5 195.7,406.1 195.5,408.5 195.3,408 195.1,403.1 195,405.8 194.8,408 194.6,406.4 194.4,403.9 194.3,404.1 194.1,402.1 193.9,405.5 193.8,402.6 193.6,401.7 193.4,402.1 193.2,401.2 193.1,401.9 192.9,400.4 192.7,401.1 192.6,400 192.4,401.2 192.2,400.8 192,398.9 191.9,397.4 191.7,396.5 191.5,396.6 191.3,397.6 191.2,397.3 191,396.4 190.8,396.6 190.7,396.5 190.5,395.4 190.3,396.6 190.1,396.6 190,394.6 189.8,397.5 189.6,393.2 189.5,394.6 189.3,394.3 189.1,395.5 188.9,395.1 188.8,397.1 188.6,395.7 188.4,399.8 188.2,393.6 188.1,397.6 187.9,394.8 187.7,390.8 187.6,392.8 187.4,395.4 187.2,391.3 187,390.9 186.9,389.7 186.7,391.1 186.5,389.9 186.4,388.9 186.2,389.2 186,390.5 185.8,386.5 185.7,386.6 185.5,383.2 185.3,385.5 185.1,383.5 185,384.6 184.8,384.1 184.6,383.6 184.5,384.5 184.3,380.7 184.1,381.3 183.9,382.2 183.8,382.9 183.6,381.4 183.4,381.2 183.3,379.7 183.1,378.8 182.9,379.7 182.7,378.6 182.6,377 182.4,376.9 182.2,379.3 182,379.1 181.9,377.2 181.7,378.1 181.5,375.2 181.4,377.8 181.2,377.9 181,376.5 180.8,378.4 180.7,378.2 180.5,379.6 180.3,375.5 180.2,376.8 180,378.8 179.8,374 179.6,372.6 179.5,377.3 179.3,374.7 179.1,376.8 178.9,374.9 178.8,376.1 178.6,374.7 178.4,376.6 178.3,374.6 178.1,373.3 177.9,371.2 177.7,376.8 177.6,375.1 177.4,372.7 177.2,375.1 177.1,371.8 176.9,373.1 176.7,371.8 176.5,372.8 176.4,371.4 176.2,370.7 176,371.2 175.8,369.7 175.7,372.1 175.5,369.3 175.3,371.1 175.2,369.8 175,372.2 174.8,372.2 174.6,374.2 174.5,373.1 174.3,373 174.1,371 174,372 173.8,369 173.6,372.2 173.4,372.7 173.3,373.2 173.1,373.1 172.9,370.6 172.7,369.7 172.6,368.4 172.4,371 172.2,370.6 172.1,368.7 171.9,372.2 171.7,368.8 171.5,369.6 171.4,369.5 171.2,366.6 171,370.1 170.9,367.8 170.7,367.4 170.5,367.3 170.3,364.6 170.2,366.9 170,367.3 169.8,367.7 169.6,364.3 169.5,363.1 169.3,364 169.1,361.1 169,363.3 168.8,360.2 168.6,359.9 168.4,361.5 168.3,361.3 168.1,359.4 167.9,357.7 167.8,361 167.6,358.4 167.4,360.9 167.2,358.9 167.1,358.7 166.9,357.9 166.7,359.8 166.5,358.3 166.4,360 166.2,358.8 166,357.7 165.9,358.8 165.7,357.9 165.5,359 165.3,358 165.2,358.5 165,358 164.8,358.1 164.7,356.1 164.5,358.3 164.3,359.7 164.1,357.6 164,354.3 163.8,356.5 163.6,355.3 163.5,355.8 163.3,352.4 163.1,353.5 162.9,353.2 162.8,351.9 162.6,351.9 162.4,352.7 162.2,351.8 162.1,349.6 161.9,350 161.7,347.6 161.6,348.1 161.4,347 161.2,348.9 161,347.5 160.9,345.4 160.7,349.2 160.5,346.7 160.4,346.1 160.2,347.5 160,346 159.8,345.3 159.7,345.5 159.5,343.2 159.3,345.9 159.1,346.2 159,343.9 158.8,342.6 158.6,346.8 158.5,343.2 158.3,342.8 158.1,343.4 157.9,344.9 157.8,341.6 157.6,344.9 157.4,346.1 157.3,344.5 157.1,346.8 156.9,343.6 156.7,342.2 156.6,341.2 156.4,341.6 156.2,342.4 156,340.1 155.9,339.8 155.7,339.7 155.5,338.5 155.4,339.2 155.2,337.8 155,336.4 154.8,338.2 154.7,339 154.5,337.1 154.3,336.5 154.2,335.8 154,335.2 153.8,335.9 153.6,334.2 153.5,331.7 153.3,330 153.1,334.1 152.9,332.4 152.8,329.7 152.6,330.3 152.4,327.8 152.3,328.4 152.1,328.7 151.9,329.8 151.7,328.1 151.6,328.1 151.4,326.4 151.2,328.3 151.1,324.9 150.9,326.7 150.7,325.9 150.5,326.9 150.4,325.5 150.2,324.6 150,326.4 149.8,325.4 149.7,326.4 149.5,326.2 149.3,326.9 149.2,326.4 149,326.1 148.8,325.2 148.6,325.9 148.5,323.7 148.3,325.4 148.1,324.2 148,323.9 147.8,324.7 147.6,324.2 147.4,325.4 147.3,325.4 147.1,325 146.9,326.5 146.7,327.6 146.6,324.7 146.4,324.2 146.2,326.7 146.1,327.6 145.9,324.9 145.7,327.6 145.5,324.6 145.4,326.6 145.2,326.8 145,327.8 144.9,324 144.7,326.3 144.5,325.3 144.3,325.3 144.2,324.1 144,324.4 143.8,325.9 143.6,325.6 143.5,325.6 143.3,327.9 143.1,330.4 143,329.6 142.8,327 142.6,330.3 142.4,329.3 142.3,327.7 142.1,329.4 141.9,329 141.8,330.7 141.6,333.3 141.4,330.2 141.2,331.3 141.1,331.8 140.9,331.1 140.7,332.1 140.5,332.2 140.4,331 140.2,328.8 140,328.9 139.9,332.4 139.7,332.1 139.5,328.3 139.3,328.4 139.2,328.5 139,331.2 138.8,329.7 138.7,328.5 138.5,328.3 138.3,327.9 138.1,327.5 138,327.1 137.8,331.2 137.6,329.8 137.4,327.4 137.3,327.7 137.1,325.5 136.9,327.4 136.8,327.4 136.6,326.5 136.4,326.9 136.2,329.5 136.1,327.3 135.9,328 135.7,325.5 135.6,328.2 135.4,330 135.2,328.1 135,329.2 134.9,330 134.7,327.8 134.5,328.7 134.3,331.1 134.2,330.2 134,329.6 133.8,332.2 133.7,331.7 133.5,329.3 133.3,330.5 133.1,329.5 133,331.9 132.8,330.3 132.6,330.3 132.5,329.4 132.3,329.7 132.1,331 131.9,331.6 131.8,327.7 131.6,328.2 131.4,329.4 131.2,329.3 131.1,327.4 130.9,327.3 130.7,327.9 130.6,326.1 130.4,329.1 130.2,324.7 130,329.1 129.9,325.3 129.7,326.3 129.5,325.4 129.4,326.8 129.2,327.1 129,324.7 128.8,324.8 128.7,326.8 128.5,325.9 128.3,326.5 128.1,325.6 128,326.6 127.8,326.1 127.6,327 127.5,327 127.3,327.2 127.1,329.3 126.9,327.1 126.8,328.4 126.6,326.7 126.4,326.6 126.3,329.9 126.1,329.8 125.9,330.4 125.7,329.2 125.6,326.8 125.4,331.9 125.2,328.3 125,328 124.9,328.4 124.7,325.9 124.5,327.5 124.4,327.8 124.2,328.2 124,328.4 123.8,327.5 123.7,327.1 123.5,326.7 123.3,328 123.2,324.3 123,326.4 122.8,325.4 122.6,325.6 122.5,325 122.3,325.5 122.1,323.7 121.9,324.3 121.8,323.7 121.6,323.4 121.4,322.5 121.3,322.4 121.1,324.4 120.9,325.1 120.7,323.3 120.6,322.4 120.4,323.1Z" fill="#0072B2" fill-opacity="0.2" stroke="#0072B2" stroke-opacity="0.2" stroke-width="1.39" stroke-linejoin="round"/>
<g stroke="#808080" stroke-opacity="0.2" stroke-width="1.39">
<path d="M152.5,15.5V542.5"/>
<path d="M278.5,15.5V542.5"/>
<path d="M404.5,15.5V542.5"/>
<path d="M530.5,15.5V542.5"/>
<path d="M655.5,15.5V542.5"/>
<path d="M781.5,15.5V542.5"/>
<path d="M907.5,15.5V542.5"/>
<path d="M79.5,492.5H985.5"/>
<path d="M79.5,411.5H985.5"/>
<path d="M79.5,329.5H985.5"/>
<path d="M79.5,248.5H985.5"/>
<path d="M79.5,166.5H985.5"/>
<path d="M79.5,85.5H985.5"/>
</g>
<path d="M120.5,319.9h0M120.6,317.7h0M120.7,317.2h0M120.9,318.3h0M121,320.1h0M121.1,319.7h0M121.2,319.3h0M121.4,318.1h0M121.5,320h0M121.6,320.2h0M121.7,319.7h0M121.9,320.5h0M122,317.5h0M122.1,319.9h0M122.2,319.9h0M122.4,320.2h0M122.5,320.3h0M122.6,320.1h0M122.7,319.7h0M122.9,314.9h0M123,319.9h0M123.1,314.6h0M123.2,314h0M123.4,311.3h0M123.5,311.3h0M123.6,313.6h0M123.7,313.9h0M123.9,316.4h0M124,312.3h0M124.1,312.8h0M124.2,312.7h0M124.4,311.8h0M124.5,312.6h0M124.6,315.9h0M124.7,313.5h0M124.9,311h0M125,313.2h0M125.1,311.6h0M125.2,312.9h0M125.4,311.2h0M125.5,313h0M125.6,312.7h0M125.7,313.1h0M125.9,312.1h0M126,311.6h0M126.1,310.8h0M126.2,310.8h0M126.4,311.8h0M126.5,311.9h0M126.6,310.7h0M126.7,313.9h0M126.9,311.5h0M127,311.4h0M127.1,312.2h0M127.2,312.3h0M127.4,311.3h0M127.5,311.2h0M127.6,309.1h0M127.7,305h0M127.9,300.7h0M128,299.1h0M128.1,296.4h0M128.2,292.4h0M128.4,289.4h0M128.5,291.7h0M128.6,295.3h0M128.7,298.6h0M128.9,301.6h0M129,304.9h0M129.1,307.7h0M129.2,311h0M129.4,313.8h0M129.5,316.3h0M129.6,319.3h0M129.7,319.8h0M129.9,319h0M130,319.6h0M130.1,316.2h0M130.2,317.4h0M130.4,312.7h0M130.5,316.6h0M130.6,319.7h0M130.7,318.2h0M130.9,319.6h0M131,319h0M131.1,319.1h0M131.2,317.5h0M131.4,319.6h0M131.5,317.7h0M131.6,314.8h0M131.7,315.6h0M131.9,314.4h0M132,311.1h0M132.1,311.3h0M132.2,314.5h0M132.4,318.4h0M132.5,315.8h0M132.6,318.4h0M132.7,318.3h0M132.9,315.7h0M133,315.7h0M133.1,315.7h0M133.2,313.9h0M133.4,314h0M133.5,311h0M133.6,310.1h0M133.7,304.6h0M133.9,303.2h0M134,306.9h0M134.1,304.6h0M134.2,306.7h0M134.4,304.3h0M134.5,303h0M134.6,299.5h0M134.7,298.6h0M134.9,300.3h0M135,301.4h0M135.1,300.5h0M135.2,296.6h0M135.4,298.2h0M135.5,296.4h0M135.6,294.7h0M135.7,294.5h0M135.9,295.9h0M136,294.2h0M136.1,296.5h0M136.2,295.6h0M136.3,297h0M136.5,289.5h0M136.6,290.5h0M136.7,296.9h0M136.8,295.1h0M137,295.8h0M137.1,294.5h0M137.2,292.8h0M137.3,295.2h0M137.5,294.6h0M137.6,292.6h0M137.7,289.5h0M137.8,290h0M138,292.4h0M138.1,288.8h0M138.2,288.2h0M138.3,291.6h0M138.5,289.6h0M138.6,287.1h0M138.7,287.9h0M138.8,289.9h0M139,287.1h0M139.1,287.2h0M139.2,287.4h0M139.3,287h0M139.5,287.1h0M139.6,287.5h0M139.7,286.9h0M139.8,286.7h0M140,286.9h0M140.1,286.8h0M140.2,286.2h0M140.3,290.2h0M140.5,293.5h0M140.6,290.5h0M140.7,293.8h0M140.8,293.9h0M141,290.8h0M141.1,288.5h0M141.2,289h0M141.3,285.9h0M141.5,285.9h0M141.6,285.9h0M141.7,285.3h0M141.8,285h0M142,285h0M142.1,284.1h0M142.2,284.3h0M142.3,285.7h0M142.5,284.4h0M142.6,287.3h0M142.7,289.5h0M142.8,287.3h0M143,284.3h0M143.1,282h0M143.2,278.8h0M143.3,275.3h0M143.5,271.8h0M143.6,267.3h0M143.7,263.1h0M143.8,259h0M144,257.9h0M144.1,260.6h0M144.2,263h0M144.3,265h0M144.5,267.4h0M144.6,269.5h0M144.7,271.5h0M144.8,273.8h0M145,275.9h0M145.1,278.8h0M145.2,279.5h0M145.3,281h0M145.5,281.1h0M145.6,281.6h0M145.7,282h0M145.8,283h0M146,282.8h0M146.1,283.5h0M146.2,283.5h0M146.3,284.3h0M146.5,284.7h0M146.6,285h0M146.7,287.7h0M146.8,288.9h0M147,292.9h0M147.1,295.2h0M147.2,297h0M147.3,297.6h0M147.5,298.9h0M147.6,299.6h0M147.7,301.4h0M147.8,303.2h0M148,304.3h0M148.1,303.1h0M148.2,303.9h0M148.3,305.6h0M148.5,307.7h0M148.6,310.3h0M148.7,309.1h0M148.8,309.3h0M149,312.1h0M149.1,314.3h0M149.2,318.6h0M149.3,317.7h0M149.5,320.2h0M149.6,320.8h0M149.7,320.9h0M149.8,320.2h0M150,321.8h0M150.1,322.7h0M150.2,323.2h0M150.3,323.9h0M150.5,324.4h0M150.6,324.5h0M150.7,324.4h0M150.8,325.2h0M151,325.6h0M151.1,325.5h0M151.2,326.4h0M151.3,325.1h0M151.5,322.5h0M151.6,321.9h0M151.7,322.9h0M151.8,321.6h0M151.9,321.8h0M152.1,323h0M152.2,323h0M152.3,322.9h0M152.4,319.9h0M152.6,322h0M152.7,312.1h0M152.8,314h0M152.9,319.7h0M153.1,316.8h0M153.2,311.6h0M153.3,305.9h0M153.4,306.9h0M153.6,304.4h0M153.7,302.8h0M153.8,304.8h0M153.9,305.3h0M154.1,313.8h0M154.2,311.2h0M154.3,316.5h0M154.4,305h0M154.6,304.7h0M154.7,304h0M154.8,313.3h0M154.9,314.4h0M155.1,315.3h0M155.2,305.2h0M155.3,312.5h0M155.4,306.1h0M155.6,316.6h0M155.7,309.9h0M155.8,306.3h0M155.9,314.5h0M156.1,317h0M156.2,325.8h0M156.3,315.6h0M156.4,312h0M156.6,305.3h0M156.7,305.2h0M156.8,305.1h0M156.9,305.1h0M157.1,303.5h0M157.2,304.7h0M157.3,302.7h0M157.4,303h0M157.6,302.7h0M157.7,303.3h0M157.8,302.4h0M157.9,301.8h0M158.1,300.5h0M158.2,302.3h0M158.3,302.5h0M158.4,301.7h0M158.6,302.7h0M158.7,317.2h0M158.8,313.7h0M158.9,313.9h0M159.1,309.9h0M159.2,313.5h0M159.3,311.3h0M159.4,306.7h0M159.6,317.2h0M159.7,312.8h0M159.8,312.5h0M159.9,305.4h0M160.1,299.9h0M160.2,300.5h0M160.3,308.8h0M160.4,316.5h0M160.6,316.2h0M160.7,326h0M160.8,325.3h0M160.9,316.2h0M161.1,315.7h0M161.2,315.3h0M161.3,319.1h0M161.4,328.3h0M161.6,313h0M161.7,321.3h0M161.8,317h0M161.9,322.3h0M162.1,319h0M162.2,319.8h0M162.3,309.6h0M162.4,308.4h0M162.6,305.3h0M162.7,305.6h0M162.8,309.4h0M162.9,314.9h0M163.1,309.5h0M163.2,320.6h0M163.3,315.4h0M163.4,327.4h0M163.6,318.8h0M163.7,321.3h0M163.8,319.6h0M163.9,316.3h0M164.1,312.9h0M164.2,316.9h0M164.3,313.3h0M164.4,319.6h0M164.6,310.8h0M164.7,315.3h0M164.8,308.9h0M164.9,325.5h0M165.1,327.8h0M165.2,318.5h0M165.3,318.6h0M165.4,318.7h0M165.6,329.2h0M165.7,319.1h0M165.8,320h0M165.9,316.4h0M166.1,325.3h0M166.2,331.1h0M166.3,323.4h0M166.4,332.1h0M166.6,330.3h0M166.7,331.3h0M166.8,334.5h0M166.9,333.4h0M167.1,323.4h0M167.2,310.4h0M167.3,316.5h0M167.4,321.6h0M167.5,328h0M167.7,330.9h0M167.8,320h0M167.9,314.3h0M168,313.4h0M168.2,317.9h0M168.3,315.3h0M168.4,317h0M168.5,313.7h0M168.7,313.3h0M168.8,313.4h0M168.9,314.9h0M169,320.6h0M169.2,324.6h0M169.3,322.9h0M169.4,323.3h0M169.5,316.8h0M169.7,315.3h0M169.8,325.9h0M169.9,326.5h0M170,321.9h0M170.2,320.4h0M170.3,320.6h0M170.4,316h0M170.5,316.2h0M170.7,320.6h0M170.8,321.2h0M170.9,329.2h0M171,317.9h0M171.2,319.2h0M171.3,322.8h0M171.4,318.6h0M171.5,318.9h0M171.7,323.2h0M171.8,328.8h0M171.9,323.3h0M172,330.9h0M172.2,329.8h0M172.3,333.8h0M172.4,334.4h0M172.5,338.1h0M172.7,337.3h0M172.8,339.4h0M172.9,340.6h0M173,340h0M173.2,337.1h0M173.3,338.7h0M173.4,339.7h0M173.5,332.8h0M173.7,334.2h0M173.8,334.1h0M173.9,340.9h0M174,337.5h0M174.2,337.8h0M174.3,338h0M174.4,339.4h0M174.5,339.1h0M174.7,334.2h0M174.8,334.3h0M174.9,334.1h0M175,340.6h0M175.2,335.6h0M175.3,339.1h0M175.4,341.1h0M175.5,340.4h0M175.7,340.8h0M175.8,340.7h0M175.9,343.7h0M176,343h0M176.2,342.5h0M176.3,339.1h0M176.4,342.9h0M176.5,339.8h0M176.7,335.9h0M176.8,338.5h0M176.9,340.7h0M177,343h0M177.2,341.3h0M177.3,344.7h0M177.4,343h0M177.5,344.2h0M177.7,344.8h0M177.8,345.2h0M177.9,345h0M178,341.8h0M178.2,341.3h0M178.3,344.8h0M178.4,343.5h0M178.5,342.3h0M178.7,337.7h0M178.8,343.6h0M178.9,336h0M179,343.1h0M179.2,345.3h0M179.3,345.8h0M179.4,340.9h0M179.5,343.8h0M179.7,344.6h0M179.8,343.8h0M179.9,361.7h0M180,352.7h0M180.2,356.9h0M180.3,352.4h0M180.4,363.2h0M180.5,356.8h0M180.7,373.3h0M180.8,373.5h0M180.9,359.6h0M181,365.5h0M181.2,365.3h0M181.3,360.5h0M181.4,364.9h0M181.5,365.9h0M181.7,363.8h0M181.8,356.4h0M181.9,360.3h0M182,365.2h0M182.2,377.5h0M182.3,377.3h0M182.4,374.8h0M182.5,370.8h0M182.7,373.1h0M182.8,368.6h0M182.9,362.1h0M183,362.2h0M183.1,362.9h0M183.3,362.8h0M183.4,362.7h0M183.5,369.5h0M183.6,367.9h0M183.8,370.4h0M183.9,371.7h0M184,377.2h0M184.1,376.1h0M184.3,365.5h0M184.4,365.4h0M184.5,368.9h0M184.6,374.5h0M184.8,382.8h0M184.9,381.1h0M185,391h0M185.1,389.9h0M185.3,388.2h0M185.4,386.5h0M185.5,380.3h0M185.6,383.3h0M185.8,381.7h0M185.9,379.9h0M186,385.9h0M186.1,374.7h0M186.3,371.5h0M186.4,372.4h0M186.5,370.2h0M186.6,369h0M186.8,373.6h0M186.9,381.3h0M187,375.9h0M187.1,379.8h0M187.3,374.9h0M187.4,371.5h0M187.5,379.1h0M187.6,372.6h0M187.8,370.8h0M187.9,378.1h0M188,379.6h0M188.1,378.2h0M188.3,387.1h0M188.4,387.9h0M188.5,382h0M188.6,380.8h0M188.8,378.9h0M188.9,382.6h0M189,375.7h0M189.1,369.2h0M189.3,369.2h0M189.4,370.8h0M189.5,377.6h0M189.6,372h0M189.8,373h0M189.9,368.7h0M190,369.7h0M190.1,368.3h0M190.3,370.7h0M190.4,376h0M190.5,372.5h0M190.6,368h0M190.8,368.1h0M190.9,368.6h0M191,367.5h0M191.1,367.1h0M191.3,368.3h0M191.4,367.7h0M191.5,368h0M191.6,367.8h0M191.8,369.2h0M191.9,369.2h0M192,374.3h0M192.1,372h0M192.3,374.5h0M192.4,378h0M192.5,381.6h0M192.6,375.1h0M192.8,380.1h0M192.9,378h0M193,375.2h0M193.1,376.8h0M193.3,382.8h0M193.4,377.5h0M193.5,376.5h0M193.6,380.5h0M193.8,378.7h0M193.9,385.9h0M194,381h0M194.1,382.5h0M194.3,380.7h0M194.4,380.6h0M194.5,378.4h0M194.6,378.9h0M194.8,377.7h0M194.9,375.6h0M195,383.6h0M195.1,384.2h0M195.3,385.9h0M195.4,386.5h0M195.5,387.7h0M195.6,382.9h0M195.8,386.8h0M195.9,381.5h0M196,380.9h0M196.1,387.7h0M196.3,387.7h0M196.4,388.2h0M196.5,386.6h0M196.6,386.4h0M196.8,387h0M196.9,385.9h0M197,382.8h0M197.1,385.4h0M197.3,381.7h0M197.4,378.8h0M197.5,382.8h0M197.6,382h0M197.8,381.8h0M197.9,380.2h0M198,382.7h0M198.1,382h0M198.3,384h0M198.4,388h0M198.5,386.5h0M198.6,382.6h0M198.7,385.7h0M198.9,378.4h0M199,380.9h0M199.1,386.6h0M199.2,386.9h0M199.4,388h0M199.5,386.7h0M199.6,381.4h0M199.7,388.3h0M199.9,383.9h0M200,382.6h0M200.1,379.8h0M200.2,379.8h0M200.4,381.4h0M200.5,382.3h0M200.6,382h0M200.7,380.3h0M200.9,384.6h0M201,383.3h0M201.1,384.9h0M201.2,384.9h0M201.4,386.1h0M201.5,388.2h0M201.6,388.3h0M201.7,388.6h0M201.9,387h0M202,387.8h0M202.1,385.2h0M202.2,385.5h0M202.4,382.4h0M202.5,381.6h0M202.6,384.8h0M202.7,387.7h0M202.9,389.1h0M203,388.8h0M203.1,390.4h0M203.2,388.8h0M203.4,389h0M203.5,388.3h0M203.6,390.2h0M203.7,390.2h0M203.9,390.6h0M204,390.4h0M204.1,390.8h0M204.2,388.3h0M204.4,390.4h0M204.5,390.8h0M204.6,390.7h0M204.7,390.9h0M204.9,389.9h0M205,390.5h0M205.1,386.9h0M205.2,387h0M205.4,387.4h0M205.5,387.1h0M205.6,384.7h0M205.7,380.5h0M205.9,383.1h0M206,382.7h0M206.1,383.3h0M206.2,384.8h0M206.4,381.5h0M206.5,383h0M206.6,387h0M206.7,387.5h0M206.9,383.7h0M207,384.6h0M207.1,385h0M207.2,391.6h0M207.4,390.8h0M207.5,388.5h0M207.6,387.7h0M207.7,385.6h0M207.9,389.6h0M208,386.6h0M208.1,388.4h0M208.2,384.7h0M208.4,383.5h0M208.5,383.2h0M208.6,382.5h0M208.7,384h0M208.9,388.8h0M209,390.8h0M209.1,388.9h0M209.2,391.4h0M209.4,387.2h0M209.5,394.2h0M209.6,395.5h0M209.7,394.6h0M209.9,394.2h0M210,394.7h0M210.1,390.1h0M210.2,389.9h0M210.4,389.4h0M210.5,389.3h0M210.6,388.5h0M210.7,390.4h0M210.9,397.3h0M211,399.2h0M211.1,394.8h0M211.2,398.4h0M211.4,392.6h0M211.5,392h0M211.6,395.4h0M211.7,393.8h0M211.9,397.3h0M212,397.7h0M212.1,394.6h0M212.2,393.8h0M212.4,390.2h0M212.5,388.6h0M212.6,392h0M212.7,390.7h0M212.9,390.5h0M213,389h0M213.1,389.4h0M213.2,389.4h0M213.4,389.6h0M213.5,388.9h0M213.6,389.2h0M213.7,389.7h0M213.9,390.8h0M214,391.6h0M214.1,390.4h0M214.2,390.5h0M214.3,390.3h0M214.5,390.8h0M214.6,392.2h0M214.7,391.7h0M214.8,395h0M215,391.9h0M215.1,393.1h0M215.2,394.1h0M215.3,396.1h0M215.5,395.6h0M215.6,395.5h0M215.7,391.6h0M215.8,391.3h0M216,391.2h0M216.1,393.4h0M216.2,397.5h0M216.3,400.1h0M216.5,400.5h0M216.6,398.3h0M216.7,397.9h0M216.8,398.3h0M217,398.1h0M217.1,398.1h0M217.2,399.6h0M217.3,398.7h0M217.5,397.4h0M217.6,399.8h0M217.7,399.9h0M217.8,400.1h0M218,399h0M218.1,396.6h0M218.2,394h0M218.3,392.2h0M218.5,393.1h0M218.6,394.6h0M218.7,394.6h0M218.8,395.7h0M219,395h0M219.1,395.4h0M219.2,393.5h0M219.3,393h0M219.5,395.9h0M219.6,398.4h0M219.7,400.3h0M219.8,399.9h0M220,400.3h0M220.1,399.6h0M220.2,399.8h0M220.3,399h0M220.5,400h0M220.6,399.2h0M220.7,397.4h0M220.8,396.7h0M221,395.8h0M221.1,395.5h0M221.2,395.9h0M221.3,395.4h0M221.5,396.7h0M221.6,396.4h0M221.7,396.3h0M221.8,396.4h0M222,395.6h0M222.1,396h0M222.2,395.2h0M222.3,394.5h0M222.5,395.2h0M222.6,393.6h0M222.7,393.7h0M222.8,393.7h0M223,395.2h0M223.1,395.7h0M223.2,396.7h0M223.3,397.4h0M223.5,397.2h0M223.6,397.8h0M223.7,397.6h0M223.8,398.5h0M224,398.5h0M224.1,398.5h0M224.2,398.6h0M224.3,397.9h0M224.5,395.9h0M224.6,397.4h0M224.7,398h0M224.8,398.3h0M225,397.8h0M225.1,396.8h0M225.2,395.7h0M225.3,397.2h0M225.5,396.8h0M225.6,396.6h0M225.7,397.3h0M225.8,397.8h0M226,396.4h0M226.1,395.4h0M226.2,396h0M226.3,395.7h0M226.5,395.2h0M226.6,397.2h0M226.7,397.3h0M226.8,397.1h0M227,397.1h0M227.1,396.8h0M227.2,396.1h0M227.3,396h0M227.5,395.7h0M227.6,395.1h0M227.7,395.3h0M227.8,396.7h0M228,397.3h0M228.1,397.4h0M228.2,397.4h0M228.3,395.3h0M228.5,397.1h0M228.6,396.1h0M228.7,398h0M228.8,396.1h0M229,395.5h0M229.1,396.3h0M229.2,396.7h0M229.3,396.7h0M229.5,396.6h0M229.6,396.3h0M229.7,396.8h0M229.8,399.1h0M229.9,397.4h0M230.1,399.2h0M230.2,399h0M230.3,399.1h0M230.4,399.1h0M230.6,399.6h0M230.7,399h0M230.8,395.1h0M230.9,394.2h0M231.1,396.5h0M231.2,395.6h0M231.3,398h0M231.4,398.1h0M231.6,399.7h0M231.7,400.1h0M231.8,400.4h0M231.9,399.3h0M232.1,399.8h0M232.2,398.5h0M232.3,399.9h0M232.4,398.2h0M232.6,399.4h0M232.7,400.5h0M232.8,400.8h0M232.9,400.8h0M233.1,401.1h0M233.2,400.3h0M233.3,401.2h0M233.4,398.8h0M233.6,398.6h0M233.7,401.5h0M233.8,401.1h0M233.9,401.6h0M234.1,399.2h0M234.2,393.4h0M234.3,397.8h0M234.4,399.1h0M234.6,398.8h0M234.7,398.7h0M234.8,398.6h0M234.9,394.4h0M235.1,393.2h0M235.2,393h0M235.3,392.6h0M235.4,390.4h0M235.6,393.5h0M235.7,397.7h0M235.8,393.5h0M235.9,396.8h0M236.1,386.2h0M236.2,391.9h0M236.3,386.5h0M236.4,387.7h0M236.6,386.8h0M236.7,387.6h0M236.8,382.8h0M236.9,381h0M237.1,385.5h0M237.2,391.2h0M237.3,393.7h0M237.4,391.3h0M237.6,391h0M237.7,388.5h0M237.8,393.6h0M237.9,392.5h0M238.1,392.2h0M238.2,394.1h0M238.3,383.5h0M238.4,382.2h0M238.6,378.1h0M238.7,376.9h0M238.8,376.2h0M238.9,375.9h0M239.1,384.2h0M239.2,380.8h0M239.3,385.8h0M239.4,385.3h0M239.6,385.7h0M239.7,383.4h0M239.8,391.6h0M239.9,391.1h0M240.1,386.6h0M240.2,386.4h0M240.3,379.8h0M240.4,384.3h0M240.6,391h0M240.7,391.5h0M240.8,391.6h0M240.9,392h0M241.1,391.7h0M241.2,391.1h0M241.3,391.3h0M241.4,392.7h0M241.6,387h0M241.7,390.3h0M241.8,380.1h0M241.9,385.9h0M242.1,384.5h0M242.2,385.3h0M242.3,383.6h0M242.4,384.3h0M242.6,382.3h0M242.7,391.1h0M242.8,386.4h0M242.9,388.5h0M243.1,388.7h0M243.2,387.3h0M243.3,392.9h0M243.4,392.8h0M243.6,393.3h0M243.7,393.8h0M243.8,390.1h0M243.9,392h0M244.1,388.6h0M244.2,387.4h0M244.3,387.9h0M244.4,384.9h0M244.6,385.8h0M244.7,385.6h0M244.8,387.4h0M244.9,387.4h0M245.1,388.4h0M245.2,388.3h0M245.3,389.5h0M245.4,390h0M245.5,391.2h0M245.7,391.6h0M245.8,391.8h0M245.9,393.1h0M246,394.3h0M246.2,393.8h0M246.3,394.9h0M246.4,395.2h0M246.5,398.1h0M246.7,397.4h0M246.8,398.2h0M246.9,399.3h0M247,398.6h0M247.2,396.9h0M247.3,394.5h0M247.4,394.4h0M247.5,394.7h0M247.7,394.2h0M247.8,394.6h0M247.9,395.6h0M248,394.8h0M248.2,396.6h0M248.3,396.6h0M248.4,398.8h0M248.5,397.7h0M248.7,396.1h0M248.8,400.4h0M248.9,396.8h0M249,398.2h0M249.2,395.6h0M249.3,392.9h0M249.4,393.4h0M249.5,393.4h0M249.7,393.2h0M249.8,394.5h0M249.9,392.8h0M250,395.9h0M250.2,399.1h0M250.3,399.4h0M250.4,401.3h0M250.5,402h0M250.7,401.2h0M250.8,400.6h0M250.9,397.8h0M251,395.7h0M251.2,400.5h0M251.3,396.6h0M251.4,392.7h0M251.5,393.9h0M251.7,392.3h0M251.8,394.2h0M251.9,391.7h0M252,397.3h0M252.2,395.7h0M252.3,395.3h0M252.4,392.9h0M252.5,392.6h0M252.7,396.5h0M252.8,396.5h0M252.9,395.5h0M253,392.8h0M253.2,395h0M253.3,392.6h0M253.4,397.1h0M253.5,396.6h0M253.7,395.4h0M253.8,395.6h0M253.9,393.5h0M254,393.7h0M254.2,389h0M254.3,391.9h0M254.4,391.5h0M254.5,390.7h0M254.7,389.3h0M254.8,390.1h0M254.9,387h0M255,388.3h0M255.2,380.5h0M255.3,376.1h0M255.4,371.5h0M255.5,367.8h0M255.7,365.2h0M255.8,368h0M255.9,371.6h0M256,362.6h0M256.2,367.5h0M256.3,353.8h0M256.4,354.1h0M256.5,355.1h0M256.7,358.9h0M256.8,357.2h0M256.9,365.8h0M257,369.6h0M257.2,381.3h0M257.3,365.9h0M257.4,374.7h0M257.5,381.2h0M257.7,377.1h0M257.8,382.5h0M257.9,382.8h0M258,383.3h0M258.2,383.5h0M258.3,373.3h0M258.4,372.7h0M258.5,374.7h0M258.7,380.5h0M258.8,383.4h0M258.9,377.2h0M259,382.5h0M259.2,375.4h0M259.3,371.3h0M259.4,368.5h0M259.5,367.9h0M259.7,367.1h0M259.8,372.6h0M259.9,369.7h0M260,369.1h0M260.2,373.1h0M260.3,366.9h0M260.4,374.2h0M260.5,372.1h0M260.7,377.7h0M260.8,381.6h0M260.9,377.7h0M261,378h0M261.1,379.1h0M261.3,376.6h0M261.4,376h0M261.5,379.2h0M261.6,379.6h0M261.8,383.4h0M261.9,374h0M262,380.1h0M262.1,380.4h0M262.3,383.3h0M262.4,382.7h0M262.5,380.3h0M262.6,377.7h0M262.8,380.9h0M262.9,375.8h0M263,374.5h0M263.1,373.6h0M263.3,373.2h0M263.4,373h0M263.5,373.5h0M263.6,373.9h0M263.8,374.3h0M263.9,374.2h0M264,374.7h0M264.1,374.7h0M264.3,375.5h0M264.4,376.1h0M264.5,375.8h0M264.6,376.5h0M264.8,376.5h0M264.9,377h0M265,381.6h0M265.1,382.6h0M265.3,384.2h0M265.4,382.8h0M265.5,382.2h0M265.6,382.5h0M265.8,384.9h0M265.9,385.3h0M266,384.4h0M266.1,385.4h0M266.3,384.9h0M266.4,385h0M266.5,383.3h0M266.6,385.4h0M266.8,386.6h0M266.9,386.2h0M267,383.1h0M267.1,383.5h0M267.3,381.7h0M267.4,382.9h0M267.5,382.4h0M267.6,382.6h0M267.8,385h0M267.9,386.9h0M268,386.6h0M268.1,387h0M268.3,387.4h0M268.4,387.6h0M268.5,387.6h0M268.6,387.9h0M268.8,387.6h0M268.9,387.7h0M269,384.8h0M269.1,384h0M269.3,384.8h0M269.4,385.6h0M269.5,385.9h0M269.6,383.9h0M269.8,384.9h0M269.9,385.5h0M270,384.8h0M270.1,385.4h0M270.3,384.7h0M270.4,384.1h0M270.5,385.8h0M270.6,384.1h0M270.8,385.9h0M270.9,385.8h0M271,386.7h0M271.1,388.2h0M271.3,386.6h0M271.4,386.2h0M271.5,385h0M271.6,385.9h0M271.8,388.7h0M271.9,389.4h0M272,389h0M272.1,389.2h0M272.3,388.9h0M272.4,388.6h0M272.5,387.2h0M272.6,386h0M272.8,387.4h0M272.9,387h0M273,389.2h0M273.1,390.7h0M273.3,389.1h0M273.4,390.6h0M273.5,388.9h0M273.6,390.1h0M273.8,388.9h0M273.9,390.5h0M274,390h0M274.1,388.6h0M274.3,388.2h0M274.4,390.7h0M274.5,389.1h0M274.6,390.4h0M274.8,390.5h0M274.9,391.1h0M275,391.2h0M275.1,389.4h0M275.3,388.1h0M275.4,386.9h0M275.5,387h0M275.6,389.4h0M275.8,391h0M275.9,392h0M276,392.1h0M276.1,391.8h0M276.3,392h0M276.4,392.3h0M276.5,392.3h0M276.6,392h0M276.7,391.9h0M276.9,392h0M277,391.7h0M277.1,391.7h0M277.2,391.7h0M277.4,392.3h0M277.5,391.6h0M277.6,390.3h0M277.7,390.6h0M277.9,390.7h0M278,387.1h0M278.1,387.4h0M278.2,388.2h0M278.4,387.3h0M278.5,389.2h0M278.6,388.1h0M278.7,386.3h0M278.9,384.7h0M279,383.7h0M279.1,387.8h0M279.2,387.5h0M279.4,387.8h0M279.5,386.7h0M279.6,385.1h0M279.7,388.1h0M279.9,384.7h0M280,385.8h0M280.1,384.8h0M280.2,386.7h0M280.4,385.7h0M280.5,386.1h0M280.6,385.1h0M280.7,386.9h0M280.9,384.1h0M281,382.9h0M281.1,383.6h0M281.2,384.8h0M281.4,384.4h0M281.5,382.3h0M281.6,381.2h0M281.7,379.4h0M281.9,378.4h0M282,375.6h0M282.1,374.7h0M282.2,372.7h0M282.4,371.4h0M282.5,370.6h0M282.6,369.8h0M282.7,369.9h0M282.9,368.5h0M283,368.9h0M283.1,369.1h0M283.2,368.3h0M283.4,368.4h0M283.5,367.5h0M283.6,367.7h0M283.7,366.5h0M283.9,363.4h0M284,362.2h0M284.1,361.1h0M284.2,362.8h0M284.4,359.4h0M284.5,357.9h0M284.6,353.8h0M284.7,355.7h0M284.9,355.6h0M285,352.3h0M285.1,351.1h0M285.2,351.2h0M285.4,356.4h0M285.5,359.3h0M285.6,360.7h0M285.7,357.2h0M285.9,354.5h0M286,360h0M286.1,355.5h0M286.2,356.3h0M286.4,355.8h0M286.5,355.1h0M286.6,356.3h0M286.7,361.6h0M286.9,356.4h0M287,351h0M287.1,354.4h0M287.2,348.1h0M287.4,350.5h0M287.5,353.3h0M287.6,355h0M287.7,347.8h0M287.9,347.8h0M288,352.1h0M288.1,352.4h0M288.2,350.7h0M288.4,352.9h0M288.5,346.6h0M288.6,352.3h0M288.7,350.4h0M288.9,352.3h0M289,352.8h0M289.1,355.1h0M289.2,357.5h0M289.4,357.7h0M289.5,358h0M289.6,357.2h0M289.7,357.3h0M289.9,356.1h0M290,355.9h0M290.1,356.3h0M290.2,356.1h0M290.4,355.4h0M290.5,355.6h0M290.6,354.5h0M290.7,354.4h0M290.9,353.6h0M291,353.1h0M291.1,352.8h0M291.2,352.4h0M291.4,351.5h0M291.5,351h0M291.6,350.2h0M291.7,349.7h0M291.9,349.4h0M292,347.9h0M292.1,347.7h0M292.2,345.7h0M292.3,344.9h0M292.5,343.4h0M292.6,342.9h0M292.7,341.2h0M293.1,333.9h0M293.5,327.7h0M293.8,320.8h0M294.2,313.4h0M294.6,308.3h0M295,304.4h0M295.3,305h0M295.7,297.3h0M296.1,294.9h0M296.5,286.7h0M296.8,280.9h0M297.2,276.5h0M297.6,271.9h0M298,268.9h0M298.3,264.7h0M298.7,260.8h0M299.1,255.4h0M302.6,131h0M302.7,130.1h0M302.8,133h0M303,130.7h0M303.1,126.2h0M303.2,122.1h0M303.3,123.6h0M303.5,103h0M303.6,98.2h0M303.7,101.5h0M303.8,89.6h0M304,122.1h0M304.1,122h0M304.2,106.9h0M304.3,105.7h0M304.5,108.3h0M304.6,123.5h0M304.7,108.4h0M304.8,101.5h0M305,104h0M305.1,134.4h0M305.2,133.4h0M305.3,143.6h0M305.5,120.7h0M305.6,108.4h0M305.7,122.3h0M305.8,143.5h0M306,129.9h0M306.1,113.8h0M306.2,107.8h0M306.3,124.9h0M306.5,100.7h0M306.6,91.2h0M306.7,89.4h0M306.8,91.1h0M307,90.4h0M307.1,91.6h0M307.2,110.8h0M307.3,123.3h0M307.5,105.3h0M307.6,106.4h0M307.7,107.3h0M307.8,97.7h0M307.9,96.7h0M308.1,95.9h0M308.2,107.3h0M308.3,102.7h0M308.4,108.6h0M308.6,94.5h0M308.7,102.1h0M308.8,89.7h0M308.9,92.4h0M309.1,87.9h0M309.2,92.1h0M309.3,93.4h0M309.4,88.1h0M309.6,98.8h0M309.7,117.2h0M309.8,123.4h0M309.9,110.8h0M310.1,117h0M310.2,100h0M310.3,92.5h0M310.4,109.2h0M310.6,88.9h0M310.7,140.4h0M310.8,150.8h0M310.9,131.9h0M311.1,133.1h0M311.2,134.7h0M311.3,134.8h0M311.4,132.5h0M311.6,94.9h0M311.7,94.9h0M311.8,122.2h0M311.9,115.1h0M312.1,112.4h0M312.2,109.1h0M312.3,93.1h0M312.4,132.4h0M312.6,121.9h0M312.7,115.4h0M312.8,100.3h0M312.9,113.6h0M313.1,123.2h0M313.2,153.5h0M313.3,128.7h0M313.4,128.4h0M313.6,143.5h0M313.7,137.3h0M313.8,136.3h0M313.9,119.5h0M314.1,154.7h0M314.2,154.6h0M314.3,153.7h0M314.4,153.3h0M314.6,153.2h0M314.7,152.1h0M314.8,154.2h0M314.9,136.5h0M315.1,142.2h0M315.2,129.9h0M315.3,106.3h0M315.4,96.2h0M315.6,104.1h0M315.7,133.7h0M315.8,150.1h0M315.9,124.9h0M316.1,118.4h0M316.2,128.9h0M316.3,141.7h0M316.4,151.7h0M316.6,149.6h0M316.7,153.2h0M316.8,148.9h0M316.9,144.5h0M317.1,142.1h0M317.2,133.9h0M317.3,141.3h0M317.4,148.4h0M317.6,146.4h0M317.7,139.8h0M317.8,136.9h0M317.9,133.7h0M318.1,146h0M318.2,151.1h0M318.3,142.1h0M318.4,153.6h0M318.6,137.3h0M318.7,98.8h0M318.8,106.8h0M318.9,94.3h0M319.1,100.8h0M319.2,96.7h0M319.3,122.8h0M319.4,114.1h0M319.6,90.8h0M319.7,97.4h0M319.8,145.2h0M319.9,140.1h0M320.1,156.1h0M320.2,154.2h0M320.3,133.6h0M320.4,142.4h0M320.6,161.6h0M320.7,160.1h0M320.8,157.7h0M320.9,134.2h0M321.1,93.7h0M321.2,108.6h0M321.3,92.4h0M321.4,93.8h0M321.6,99.3h0M321.7,104.2h0M321.8,128.2h0M321.9,141.1h0M322.1,112.5h0M322.2,104.3h0M322.3,111.5h0M322.4,113.3h0M322.6,120.7h0M322.7,104.5h0M322.8,113.8h0M322.9,115.1h0M323.1,113.9h0M323.2,118h0M323.3,120.1h0M323.4,127.1h0M323.5,126.5h0M323.7,129h0M323.8,130.1h0M323.9,132.2h0M324,134.3h0M324.2,131.4h0M324.3,135.5h0M324.4,137.9h0M324.5,134.6h0M324.7,138.1h0M324.8,139.3h0M324.9,137.9h0M325,142.9h0M325.2,143.5h0M325.3,142.5h0M325.4,142.4h0M325.5,143.8h0M325.7,143.1h0M325.8,143.1h0M325.9,144.2h0M326,149.5h0M326.2,149.1h0M326.3,148.7h0M326.4,154.3h0M326.5,170.8h0M326.7,185.1h0M326.8,151.3h0M326.9,147h0M327,144h0M327.2,169.1h0M327.3,166.3h0M327.4,145.8h0M327.5,162h0M327.7,157.6h0M327.8,182.8h0M327.9,185h0M328,184h0M328.2,167.8h0M328.3,173.1h0M328.4,160.4h0M328.5,158.9h0M328.7,151.9h0M328.8,161.7h0M328.9,164.5h0M329,173h0M329.2,174.5h0M329.3,177.4h0M329.4,183.6h0M329.5,176.4h0M329.7,167.6h0M329.8,182.6h0M329.9,198.4h0M330,198.3h0M330.2,181.3h0M330.3,192.9h0M330.4,185.2h0M330.5,179.5h0M330.7,166.6h0M330.8,176.6h0M330.9,173.4h0M331,177.5h0M331.2,161.3h0M331.3,172.1h0M331.4,193.6h0M331.5,197.8h0M331.7,193.4h0M331.8,172.7h0M331.9,163h0M332,167.8h0M332.2,175h0M332.3,185.6h0M332.4,183.5h0M332.5,184.1h0M332.7,203.5h0M332.8,193.3h0M332.9,186.6h0M333,188.8h0M333.2,166.9h0M333.3,171.6h0M333.4,170.9h0M333.5,184.8h0M333.7,188.6h0M333.8,191h0M333.9,174.1h0M334,178h0M334.2,178.7h0M334.3,196.6h0M334.4,203.7h0M334.5,195.8h0M334.7,196.7h0M334.8,187.5h0M334.9,185.8h0M335,201.9h0M335.2,200.7h0M335.3,211.3h0M335.4,209.2h0M335.5,184h0M335.7,197.2h0M335.8,195.8h0M335.9,196.8h0M336,180.8h0M336.2,190.3h0M336.3,185.9h0M336.4,197.7h0M336.5,206.3h0M336.7,210.1h0M336.8,200.9h0M336.9,200.1h0M337,196.4h0M337.2,193.3h0M337.3,200.2h0M337.4,197h0M337.5,198.5h0M337.7,198.4h0M337.8,192.4h0M337.9,191.8h0M338,196.2h0M338.2,187.2h0M338.3,187.5h0M338.4,193.8h0M338.5,192.4h0M338.7,203h0M338.8,188.3h0M338.9,208.7h0M339,202.5h0M339.1,190.9h0M339.3,200.7h0M339.4,214.4h0M339.5,204.4h0M339.6,215h0M339.8,206.4h0M339.9,190.6h0M340,192.3h0M340.1,198.7h0M340.3,199.6h0M340.4,197.4h0M340.5,187.9h0M340.6,187.4h0M340.8,204h0M340.9,190.3h0M341,203.6h0M341.1,200.4h0M341.3,200.9h0M341.4,193h0M341.5,191.8h0M341.6,190h0M341.8,187.9h0M341.9,192.4h0M342,192h0M342.1,191.7h0M342.3,189.3h0M342.4,192.5h0M342.5,197.9h0M342.6,192.9h0M342.8,199.7h0M342.9,193h0M343,190.7h0M343.1,193.2h0M343.3,191.5h0M343.4,191.8h0M343.5,194.2h0M343.6,191.2h0M343.8,191.2h0M343.9,194.2h0M344,195.4h0M344.1,194.3h0M344.3,194.7h0M344.4,192.6h0M344.5,194.8h0M344.6,219.3h0M344.8,222.4h0M344.9,222.5h0M345,205h0M345.1,201.8h0M345.3,197.9h0M345.4,195.1h0M345.5,198.6h0M345.6,198.6h0M345.8,210.9h0M345.9,208.5h0M346,198.6h0M346.1,199.7h0M346.3,199.5h0M346.4,196.2h0M346.5,199.6h0M346.6,198.5h0M346.8,197.7h0M346.9,199h0M347,199.2h0M347.1,201.5h0M347.3,208.6h0M347.4,212.6h0M347.5,212.6h0M347.6,214h0M347.8,202.4h0M347.9,202.2h0M348,204.4h0M348.1,199.8h0M348.3,208.6h0M348.4,201.8h0M348.5,202.7h0M348.6,200.7h0M348.8,204.8h0M348.9,209.5h0M349,227.6h0M349.1,213.2h0M349.3,205h0M349.4,213.7h0M349.5,219h0M349.6,212h0M349.8,219.3h0M349.9,222.7h0M350,223.6h0M350.1,231.3h0M350.3,222.5h0M350.4,226.6h0M350.5,221h0M350.6,210.1h0M350.8,225.1h0M350.9,231.7h0M351,232.5h0M351.1,232.6h0M351.3,223.1h0M351.4,219.2h0M351.5,231.6h0M351.6,234.1h0M351.8,220.1h0M351.9,222.1h0M352,218h0M352.1,216.1h0M352.3,217.6h0M352.4,228.2h0M352.5,233.9h0M352.6,235.4h0M352.8,233.8h0M352.9,231.2h0M353,228.8h0M353.1,235.6h0M353.3,226.6h0M353.4,228.3h0M353.5,232.6h0M353.6,225.5h0M353.8,230h0M353.9,225.4h0M354,233.8h0M354.1,234.3h0M354.3,236h0M354.4,235.5h0M354.5,233.7h0M354.6,233.7h0M354.7,235.2h0M354.9,233.6h0M355,236.2h0M355.1,235.1h0M355.2,237h0M355.4,235.5h0M355.5,233.4h0M355.6,227.8h0M355.7,228.4h0M355.9,215.4h0M356,214h0M356.1,232.3h0M356.2,235.6h0M356.4,228h0M356.5,210.2h0M356.6,216.5h0M356.7,220.2h0M356.9,216.7h0M357,224.4h0M357.1,212.9h0M357.2,221.2h0M357.4,203.2h0M357.5,196.2h0M357.6,196.2h0M357.7,199.4h0M357.9,197.3h0M358,196.1h0M358.1,215.4h0M358.2,233.5h0M358.4,237.5h0M358.5,229.4h0M358.6,244.3h0M358.7,249.6h0M358.9,235.5h0M359,255h0M359.1,255.7h0M359.2,262.4h0M359.4,273h0M359.5,272.1h0M359.6,277.6h0M359.7,279.8h0M359.9,268h0M360,255.7h0M360.1,261.3h0M360.2,260h0M360.4,258.2h0M360.5,262.7h0M360.6,254.1h0M360.7,239.6h0M360.9,240.2h0M361,213.2h0M361.1,217.2h0M361.2,222.8h0M361.4,241h0M361.5,226.7h0M361.6,271.9h0M361.7,241.2h0M361.9,257.1h0M362,257.5h0M362.1,253.1h0M362.2,245h0M362.4,250.5h0M362.5,258.9h0M362.6,263.1h0M362.7,267.4h0M362.9,255.3h0M363,266.9h0M363.1,250.8h0M363.2,253.1h0M363.4,263.4h0M363.5,275h0M363.6,251.3h0M363.7,247h0M363.9,245.9h0M364,245.7h0M364.1,246.2h0M364.2,244.4h0M364.4,246h0M364.5,243.5h0M364.6,245.6h0M364.7,247.7h0M364.9,244.9h0M365,243h0M365.1,245.4h0M365.2,246.1h0M365.4,247.9h0M365.5,248.6h0M365.6,260h0M365.7,248.5h0M365.9,260.9h0M366,256.4h0M366.1,268.2h0M366.2,245.3h0M366.4,242.5h0M366.5,243h0M366.6,243.8h0M366.7,243.7h0M366.9,256.9h0M367,250.2h0M367.1,259.1h0M367.2,262.6h0M367.4,268.6h0M367.5,252h0M367.6,257.4h0M367.7,269.6h0M367.9,292.4h0M368,276.9h0M368.1,271.5h0M368.2,282.8h0M368.4,289.9h0M368.5,293.5h0M368.6,291.6h0M368.7,293.2h0M368.9,292.4h0M369,290.6h0M369.1,274.8h0M369.2,289.3h0M369.4,290.1h0M369.5,290.4h0M369.6,293.5h0M369.7,280.3h0M369.9,258.1h0M370,292h0M370.1,286.5h0M370.2,265.1h0M370.3,268.2h0M370.5,246.3h0M370.6,242.7h0M370.7,271.5h0M370.8,260.3h0M371,251.8h0M371.1,244.6h0M371.2,238.6h0M371.3,252.4h0M371.5,243.9h0M371.6,243.8h0M371.7,238.9h0M371.8,240h0M372,240.8h0M372.1,239.1h0M372.2,244.7h0M372.3,258.8h0M372.5,269h0M372.6,277.4h0M372.7,276.9h0M372.8,280.6h0M373,278.7h0M373.1,285.2h0M373.2,281.2h0M373.3,292.4h0M373.5,289.2h0M373.6,289.4h0M373.7,290.3h0M373.8,289.5h0M374,290.2h0M374.1,292.5h0M374.2,293h0M374.3,287.2h0M374.5,279.9h0M374.6,285h0M374.7,284.4h0M374.8,281.8h0M375,270.7h0M375.1,277.2h0M375.2,273.7h0M375.3,283.9h0M375.5,270.3h0M375.6,272.1h0M375.7,258.3h0M375.8,260h0M376,255.7h0M376.1,251.4h0M376.2,265.9h0M376.3,262.9h0M376.5,263.9h0M376.6,262.2h0M376.7,270.1h0M376.8,261.3h0M377,256.9h0M377.1,267.3h0M377.2,263.5h0M377.3,274.5h0M377.5,264.3h0M377.6,260.7h0M377.7,267.3h0M377.8,262h0M378,264.2h0M378.1,268.1h0M378.2,263.9h0M378.3,287.8h0M378.5,283.7h0M378.6,286.3h0M378.7,285.2h0M378.8,284.4h0M379,284.5h0M379.1,282.4h0M379.2,279.2h0M379.3,277.4h0M379.5,283h0M379.6,282.4h0M379.7,279h0M379.8,269.8h0M380,262.4h0M380.1,264.5h0M380.2,254.2h0M380.3,259.5h0M380.5,258.1h0M380.6,268.3h0M380.7,282.5h0M380.8,269.8h0M381,263h0M381.1,265.9h0M381.2,266.8h0M381.3,264.5h0M381.5,266.4h0M381.6,257.7h0M381.7,259.6h0M381.8,259.3h0M382,251.9h0M382.1,246h0M382.2,251h0M382.3,271.4h0M382.5,269.9h0M382.6,272.6h0M382.7,261.3h0M382.8,258.5h0M383,258.4h0M383.1,272h0M383.2,272.9h0M383.3,272.3h0M383.5,269.2h0M383.6,269h0M383.7,268.7h0M383.8,270.2h0M384,267.1h0M384.1,267.6h0M384.2,268.5h0M384.3,266.2h0M384.5,265.2h0M384.6,249.6h0M384.7,259h0M384.8,257.8h0M385,260.9h0M385.1,253.9h0M385.2,255.2h0M385.3,267.7h0M385.5,262.8h0M385.6,267.1h0M385.7,266.1h0M385.8,261.8h0M385.9,259.1h0M386.1,269.2h0M386.2,267.5h0M386.3,265.2h0M386.4,263.3h0M386.6,258.2h0M386.7,266.4h0M386.8,271.9h0M386.9,272h0M387.1,266.5h0M387.2,257.6h0M387.3,247h0M387.4,255.2h0M387.6,253.2h0M387.7,261.6h0M387.8,259.1h0M387.9,272.3h0M388.1,271.7h0M388.2,269.1h0M388.3,271.1h0M388.4,262.9h0M388.6,263.5h0M388.7,257.9h0M388.8,261.3h0M388.9,250.3h0M389.1,256h0M389.2,259.7h0M389.3,261h0M389.4,260.6h0M389.6,261.9h0M389.7,252.7h0M389.8,267.7h0M389.9,262.2h0M390.1,261.7h0M390.2,264.4h0M390.3,265.8h0M390.4,274.7h0M390.6,267.1h0M390.7,267.2h0M390.8,275.7h0M390.9,261.7h0M391.1,265.9h0M391.2,268h0M391.3,275.6h0M391.4,283.8h0M391.6,280.9h0M391.7,277.3h0M391.8,278.1h0M391.9,274.5h0M392.1,269.3h0M392.2,279.4h0M392.3,282.6h0M392.4,276.5h0M392.6,276.5h0M392.7,267.7h0M392.8,278h0M392.9,284.1h0M393.1,286.9h0M393.2,289.2h0M393.3,291.5h0M393.4,294.1h0M393.6,288.4h0M393.7,279.8h0M393.8,286.8h0M393.9,292.5h0M394.1,291.5h0M394.2,297.8h0M394.3,294.9h0M394.4,302.7h0M394.6,293h0M394.7,295.9h0M394.8,304.3h0M394.9,302.9h0M395.1,305.4h0M395.2,305.7h0M395.3,294.2h0M395.4,289.3h0M395.6,304.7h0M395.7,328.3h0M395.8,327.5h0M395.9,332.8h0M396.1,334.6h0M396.2,305.1h0M396.3,306.6h0M396.4,335.1h0M396.6,328.4h0M396.7,335.5h0M396.8,338.6h0M396.9,330.7h0M397.1,327.8h0M397.2,333.6h0M397.3,307.7h0M397.4,320.5h0M397.6,325.5h0M397.7,314.7h0M397.8,318.8h0M397.9,342.8h0M398.1,332.1h0M398.2,324.8h0M398.3,323.6h0M398.4,293.5h0M398.6,296.5h0M398.7,308.6h0M398.8,311.1h0M398.9,308.4h0M399.1,308.1h0M399.2,306.3h0M399.3,302.5h0M399.4,296.6h0M399.6,296.1h0M399.7,294.1h0M399.8,293.5h0M399.9,295.5h0M400.1,310.4h0M400.2,308.3h0M400.3,316.3h0M400.4,292h0M400.6,293.1h0M400.7,298.3h0M400.8,291.9h0M400.9,304.6h0M401.1,297.2h0M401.2,299.8h0M401.3,308.9h0M401.4,318h0M401.5,313.7h0M401.7,307.3h0M401.8,309.3h0M401.9,302.5h0M402,316.4h0M402.2,325.2h0M402.3,296.3h0M402.4,292.4h0M402.5,290.7h0M402.7,299.4h0M402.8,312h0M402.9,297.4h0M403,294.6h0M403.2,301.4h0M403.3,290.7h0M403.4,288.3h0M403.5,289h0M403.7,299.9h0M403.8,294.3h0M403.9,302.2h0M404,290.6h0M404.2,289.1h0M404.3,288.5h0M404.4,288.1h0M404.5,292.4h0M404.7,294.2h0M404.8,298h0M404.9,297h0M405,303h0M405.2,297.4h0M405.3,292.1h0M405.4,293.4h0M405.5,293.5h0M405.7,300.9h0M405.8,298.3h0M405.9,300.2h0M406,308.4h0M406.2,299h0M406.3,299.1h0M406.4,300.7h0M406.5,311.4h0M406.7,324.4h0M406.8,323.1h0M406.9,327.5h0M407,331.4h0M407.2,321.2h0M407.3,313.3h0M407.4,322.4h0M407.5,327.6h0M407.7,339.6h0M407.8,318.8h0M407.9,329.7h0M408,337h0M408.2,338.5h0M408.3,337.5h0M408.4,332.2h0M408.5,340.5h0M408.7,323.8h0M408.8,335.2h0M408.9,335h0M409,339.5h0M409.2,344h0M409.3,341h0M409.4,328.9h0M409.5,334.9h0M409.7,328.3h0M409.8,321.9h0M409.9,317.9h0M410,320.6h0M410.2,320.7h0M410.3,316.6h0M410.4,315.5h0M410.5,315.8h0M410.7,318.1h0M410.8,321.6h0M410.9,325.4h0M411,317.2h0M411.2,329.3h0M411.3,316.7h0M411.4,323.2h0M411.5,327.3h0M411.7,332.4h0M411.8,336.1h0M411.9,334.8h0M412,329.7h0M412.2,330.9h0M412.3,326.1h0M412.4,328.7h0M412.5,332.5h0M412.7,328.4h0M412.8,327h0M412.9,332.8h0M413,328.7h0M413.2,331.5h0M413.3,330.8h0M413.4,332.5h0M413.5,332.4h0M413.7,327h0M413.8,328.7h0M413.9,324.8h0M414,343.6h0M414.2,334.1h0M414.3,344.6h0M414.4,338h0M414.5,342.8h0M414.7,341.1h0M414.8,342.6h0M414.9,338.2h0M415,343.2h0M415.2,335.8h0M415.3,331.7h0M415.4,331.6h0M415.5,331.5h0M415.7,341.5h0M415.8,343.2h0M415.9,345.5h0M416,335.9h0M416.2,340.2h0M416.3,342.1h0M416.4,331.9h0M416.5,341.5h0M416.7,334.4h0M416.8,338.7h0M416.9,341.6h0M417,344.2h0M417.1,347.7h0M417.3,347.8h0M417.4,348h0M417.5,348.6h0M417.6,348.2h0M417.8,347.3h0M417.9,340.1h0M418,345.1h0M418.1,347h0M418.3,347.9h0M418.4,348.1h0M418.5,343.7h0M418.6,340.4h0M418.8,342h0M418.9,344.1h0M419,345.2h0M419.1,342.4h0M419.3,339h0M419.4,336.9h0M419.5,345.6h0M419.6,337.7h0M419.8,343.2h0M419.9,351.3h0M420,350h0M420.1,347.9h0M420.3,351.6h0M420.4,345.1h0M420.5,349.8h0M420.6,351h0M420.8,348.5h0M420.9,349.7h0M421,353.8h0M421.1,352.5h0M421.3,349.3h0M421.4,349.4h0M421.5,351.2h0M421.6,349.7h0M421.8,349.3h0M421.9,354h0M422,354.8h0M422.1,356.7h0M422.3,356.8h0M422.4,362.2h0M422.5,362.5h0M422.6,358.5h0M422.8,362.4h0M422.9,358.6h0M423,358.6h0M423.1,361.3h0M423.3,365.4h0M423.4,365.6h0M423.5,361.6h0M423.6,363.1h0M423.8,363.4h0M423.9,368.4h0M424,372.1h0M424.1,372.2h0M424.3,363h0M424.4,362.7h0M424.5,360.1h0M424.6,360.5h0M424.8,363.3h0M424.9,360.8h0M425,361h0M425.1,360.4h0M425.3,360h0M425.4,360.3h0M425.5,361.1h0M425.6,360.7h0M425.8,360.7h0M425.9,362.3h0M426,370.6h0M426.1,366.7h0M426.3,361.3h0M426.4,363.4h0M426.5,372.1h0M426.6,369.5h0M426.8,368.1h0M426.9,373.8h0M427,365.6h0M427.1,367.5h0M427.3,376h0M427.4,377.1h0M427.5,378.8h0M427.6,373.7h0M427.8,378.6h0M427.9,373.6h0M428,378.7h0M428.1,371.2h0M428.3,378.5h0M428.4,379.1h0M428.5,372.9h0M428.6,371.4h0M428.8,361.9h0M428.9,371.7h0M429,367.6h0M429.1,370.4h0M429.3,361.3h0M429.4,366.9h0M429.5,364.2h0M429.6,361.6h0M429.8,360.3h0M429.9,359.5h0M430,359.9h0M430.1,360.2h0M430.3,364.1h0M430.4,365.8h0M430.5,366.9h0M430.6,366.9h0M430.8,368.4h0M430.9,374h0M431,380.6h0M431.1,381.6h0M431.3,381.5h0M431.4,375.9h0M431.5,382.3h0M431.6,383.4h0M431.8,382.8h0M431.9,382.5h0M432,384.1h0M432.1,383.1h0M432.3,383h0M432.4,378.2h0M432.5,372.7h0M432.6,379h0M432.7,377.8h0M432.9,377.6h0M433,379.5h0M433.1,376.7h0M433.2,378.2h0M433.4,378.1h0M433.5,373.3h0M433.6,374.1h0M433.7,371.1h0M433.9,372.9h0M434,374.7h0M434.1,375.6h0M434.2,375.5h0M434.4,372.5h0M434.5,373.2h0M434.6,381.7h0M434.7,385.7h0M434.9,386.6h0M435,386.7h0M435.1,386.6h0M435.2,386.4h0M435.4,386.6h0M435.5,386.9h0M435.6,385.9h0M435.7,386h0M435.9,387.3h0M436,387.1h0M436.1,386.9h0M436.2,386.7h0M436.4,386.4h0M436.5,387.5h0M436.6,385.2h0M436.7,387.2h0M436.9,382.1h0M437,386.8h0M437.1,382.2h0M437.2,380.4h0M437.4,382.6h0M437.5,382.5h0M437.6,382.6h0M437.7,382.1h0M437.9,385h0M438,380.4h0M438.1,383h0M438.2,386.5h0M438.4,379.7h0M438.5,380h0M438.6,378.3h0M438.7,378.2h0M438.9,378.4h0M439,381.1h0M439.1,381.2h0M439.2,380.7h0M439.4,379.4h0M439.5,381.2h0M439.6,379.6h0M439.7,381.9h0M439.9,378.7h0M440,379.1h0M440.1,380.5h0M440.2,384h0M440.4,378.3h0M440.5,382.5h0M440.6,380.6h0M440.7,376.6h0M440.9,379.3h0M441,376.8h0M441.1,380.7h0M441.2,379.8h0M441.4,375.6h0M441.5,378.6h0M441.6,381.8h0M441.7,385.3h0M441.9,386.6h0M442,385.8h0M442.1,385.2h0M442.2,384.6h0M442.4,381.2h0M442.5,380.2h0M442.6,377.5h0M442.7,378.8h0M442.9,381.3h0M443,383h0M443.1,378.5h0M443.2,380.9h0M443.4,385.8h0M443.5,385.8h0M443.6,386.3h0M443.7,382.8h0M443.9,386.2h0M444,382h0M444.1,377.7h0M444.2,379.5h0M444.4,377.1h0M444.5,378.7h0M444.6,382.1h0M444.7,387.9h0M444.9,388.2h0M445,387.7h0M445.1,385.2h0M445.2,387.3h0M445.4,387.5h0M445.5,389.9h0M445.6,390h0M445.7,389.1h0M445.9,390.3h0M446,390.7h0M446.1,390.5h0M446.2,389.6h0M446.4,391h0M446.5,390.4h0M446.6,390.1h0M446.7,390.9h0M446.9,391.4h0M447,390.7h0M447.1,387.5h0M447.2,388.1h0M447.4,382.6h0M447.5,386.1h0M447.6,387h0M447.7,388.9h0M447.9,391.3h0M448,382h0M448.1,380.8h0M448.2,384.7h0M448.3,386.4h0M448.5,385.7h0M448.6,382h0M448.7,381.9h0M448.8,389.1h0M449,391.7h0M449.1,393.5h0M449.2,393.7h0M449.3,394.6h0M449.5,391.6h0M449.6,393.2h0M449.7,390.1h0M449.8,393.1h0M450,395.5h0M450.1,395.4h0M450.2,391h0M450.3,386.1h0M450.5,387.4h0M450.6,388.7h0M450.7,391.8h0M450.8,393.3h0M451,394.8h0M451.1,397h0M451.2,397.9h0M451.3,397.9h0M451.5,398.5h0M451.6,399.4h0M451.7,399.3h0M451.8,399.8h0M452,400.1h0M452.1,400.8h0M452.2,401.3h0M452.3,401.2h0M452.5,402h0M452.6,399.2h0M452.7,402.2h0M452.8,402.8h0M453,401h0M453.1,400.9h0M453.2,400h0M453.3,400.5h0M453.5,398.8h0M453.6,397.6h0M453.7,398.5h0M453.8,399.6h0M454,401.6h0M454.1,405.2h0M454.2,406.8h0M454.3,406.3h0M454.5,406.6h0M454.6,407.6h0M454.7,408.2h0M454.8,402.1h0M455,401.6h0M455.1,406.9h0M455.2,406.9h0M455.3,409.3h0M455.5,410h0M455.6,410.1h0M455.7,410.2h0M455.8,410.1h0M456,410.4h0M456.1,410.6h0M456.2,411.9h0M456.3,405.7h0M456.5,406h0M456.6,405.2h0M456.7,404.6h0M456.8,408h0M457,409.8h0M457.1,411.6h0M457.2,410h0M457.3,414.1h0M457.5,413.2h0M457.6,411.9h0M457.7,410.3h0M457.8,411.6h0M458,412.3h0M458.1,412h0M458.2,410.1h0M458.3,411h0M458.5,413.6h0M458.6,407.2h0M458.7,411h0M458.8,411.2h0M459,409.9h0M459.1,414.8h0M459.2,411.5h0M459.3,408.2h0M459.5,410.9h0M459.6,408.1h0M459.7,412.7h0M459.8,412.6h0M460,415.2h0M460.1,410.9h0M460.2,411.6h0M460.3,413.4h0M460.5,411.2h0M460.6,410.1h0M460.7,411.5h0M460.8,413.7h0M461,413.2h0M461.1,412.9h0M461.2,412.4h0M461.3,410.4h0M461.5,411.1h0M461.6,411.9h0M461.7,411.6h0M461.8,413.3h0M462,411.2h0M462.1,411.2h0M462.2,410.9h0M462.3,410.6h0M462.5,411.1h0M462.6,414h0M462.7,413.1h0M462.8,416.4h0M463,414.4h0M463.1,414.8h0M463.2,414.8h0M463.3,413.7h0M463.5,414.2h0M463.6,416.6h0M463.7,416.7h0M463.8,418.7h0M463.9,420h0M464.1,420.4h0M464.2,419.6h0M464.3,417.8h0M464.4,417.8h0M464.6,419h0M464.7,416.8h0M464.8,415.5h0M464.9,413.3h0M465.1,413.8h0M465.2,414.8h0M465.3,413.5h0M465.4,412.4h0M465.6,411.8h0M465.7,412.5h0M465.8,412.1h0M465.9,412.8h0M466.1,411.1h0M466.2,409h0M466.3,408.6h0M466.4,408.7h0M466.6,410.7h0M466.7,409h0M466.8,409.3h0M466.9,410.7h0M467.1,411.6h0M467.2,411.9h0M467.3,409.3h0M467.4,409.1h0M467.6,411.1h0M467.7,405.6h0M467.8,415.3h0M467.9,413.9h0M468.1,416.2h0M468.2,408.9h0M468.3,406.5h0M468.4,405.2h0M468.6,408h0M468.7,403.8h0M468.8,401.5h0M468.9,403.7h0M469.1,404.2h0M469.2,399.2h0M469.3,406.6h0M469.4,401h0M469.6,406.2h0M469.7,404.7h0M469.8,397.1h0M469.9,396.7h0M470.1,395.7h0M470.2,395.2h0M470.3,397.1h0M470.4,395.5h0M470.6,397.1h0M470.7,395.4h0M470.8,395.8h0M470.9,395.8h0M471.1,394.6h0M471.2,395h0M471.3,396.7h0M471.4,399.6h0M471.6,401.5h0M471.7,407.4h0M471.8,410.2h0M471.9,396.2h0M472.1,397.3h0M472.2,412.3h0M472.3,396.5h0M472.4,412.6h0M472.6,404.1h0M472.7,398h0M472.8,408.7h0M472.9,408.8h0M473.1,414.8h0M473.2,419.8h0M473.3,411.2h0M473.4,411.2h0M473.6,413.9h0M473.7,404.6h0M473.8,408.2h0M473.9,409.6h0M474.1,410.4h0M474.2,414.2h0M474.3,419.4h0M474.4,417.6h0M474.6,425.3h0M474.7,420h0M474.8,422.9h0M474.9,421.5h0M475.1,418.1h0M475.2,413.6h0M475.3,418.7h0M475.4,423.3h0M475.6,424.5h0M475.7,424.1h0M475.8,424.4h0M475.9,423.2h0M476.1,424.8h0M476.2,424.7h0M476.3,423h0M476.4,421.8h0M476.6,420.1h0M476.7,421.9h0M476.8,420.4h0M476.9,418.3h0M477.1,418.1h0M477.2,417.4h0M477.3,420.2h0M477.4,421h0M477.6,418.5h0M477.7,418.2h0M477.8,417.4h0M477.9,416.8h0M478.1,416.5h0M478.2,416.7h0M478.3,416.6h0M478.4,422.4h0M478.6,421.1h0M478.7,422.7h0M478.8,424.2h0M478.9,423.2h0M479.1,424.3h0M479.2,424.4h0M479.3,423.6h0M479.4,422.4h0M479.5,420.1h0M479.7,415.7h0M479.8,420.2h0M479.9,419.1h0M480,420.2h0M480.2,417.7h0M480.3,418.9h0M480.4,422.6h0M480.5,422.8h0M480.7,422.3h0M480.8,423.2h0M480.9,422.9h0M481,424.9h0M481.2,424.5h0M481.3,424.8h0M481.4,424.5h0M481.5,424.6h0M481.7,423.4h0M481.8,415.8h0M481.9,415.5h0M482,415.4h0M482.2,415.9h0M482.3,415.9h0M482.4,416.6h0M482.5,416.5h0M482.7,416.8h0M482.8,419.5h0M482.9,419.9h0M483,420.2h0M483.2,418.8h0M483.3,420.6h0M483.4,420.7h0M483.5,422.8h0M483.7,424h0M483.8,423.9h0M483.9,423.7h0M484,422.3h0M484.2,422.1h0M484.3,420.6h0M484.4,421.4h0M484.5,420.2h0M484.7,420.9h0M484.8,420.8h0M484.9,419.7h0M485,420.4h0M485.2,423.5h0M485.3,422.6h0M485.4,423.7h0M485.5,423.4h0M485.7,423.3h0M485.8,422.7h0M485.9,420.6h0M486,421.4h0M486.2,420.1h0M486.3,419.6h0M486.4,420.2h0M486.5,421.5h0M486.7,421.8h0M486.8,422.4h0M486.9,422.7h0M487,422h0M487.2,419.6h0M487.3,419.1h0M487.4,419.1h0M487.5,419.1h0M487.7,418.9h0M487.8,419h0M487.9,418.6h0M488,419h0M488.2,418.8h0M488.3,418.6h0M488.4,418.6h0M488.5,418.3h0M488.7,418.4h0M488.8,420.3h0M488.9,421.5h0M489,421.6h0M489.2,420h0M489.3,420.2h0M489.4,423.1h0M489.5,423.3h0M489.7,422.9h0M489.8,422.5h0M489.9,422.1h0M490,421.2h0M490.2,418.9h0M490.3,419.6h0M490.4,419.3h0M490.5,420.5h0M490.7,420.2h0M490.8,423h0M490.9,422.6h0M491,421.5h0M491.2,422.5h0M491.3,423h0M491.4,422.3h0M491.5,421.8h0M491.7,421h0M491.8,421.1h0M491.9,423.2h0M492,420.7h0M492.2,420.3h0M492.3,421.3h0M492.4,422h0M492.5,420.5h0M492.7,419.4h0M492.8,418.7h0M492.9,418.3h0M493,418.7h0M493.2,418.5h0M493.3,419.2h0M493.4,419.6h0M493.5,421.2h0M493.7,421.7h0M493.8,424h0M493.9,424.1h0M494,425h0M494.2,425.3h0M494.3,425.1h0M494.4,425.7h0M494.5,424.3h0M494.7,424.1h0M494.8,423.3h0M494.9,421.4h0M495,422.2h0M495.1,424.5h0M495.3,420.9h0M495.4,422.2h0M495.5,423.3h0M495.6,422.8h0M495.8,422.8h0M495.9,421.5h0M496,421.5h0M496.1,421.3h0M496.3,421.2h0M496.4,421.2h0M496.5,421.2h0M496.6,421.1h0M496.8,421.7h0M496.9,422.2h0M497,425.8h0M497.1,422.8h0M497.3,421.7h0M497.4,422.2h0M497.5,424.2h0M497.6,424.4h0M497.8,423.2h0M497.9,421.5h0M498,423h0M498.1,423.6h0M498.3,424.6h0M498.4,425.4h0M498.5,425.9h0M498.6,426.4h0M498.8,425.3h0M498.9,425.1h0M499,426.5h0M499.1,424.6h0M499.3,426.1h0M499.4,426.5h0M499.5,426.6h0M499.6,426.2h0M499.8,423.1h0M499.9,421.6h0M500,420.9h0M500.1,422.2h0M500.3,420h0M500.4,420.2h0M500.5,420.8h0M500.6,418.9h0M500.8,419.7h0M500.9,420h0M501,418h0M501.1,417.8h0M501.3,420.2h0M501.4,419.4h0M501.5,418.3h0M501.6,422.4h0M501.8,423.5h0M501.9,422.5h0M502,423h0M502.1,425.3h0M502.3,424.8h0M502.4,423h0M502.5,421.3h0M502.6,421.5h0M502.8,421.6h0M502.9,419.4h0M503,415.2h0M503.1,416.8h0M503.3,416h0M503.4,421.9h0M503.5,423.7h0M503.6,424.2h0M503.8,423.6h0M503.9,424h0M504,424h0M504.1,421.9h0M504.3,423.3h0M504.4,422.8h0M504.5,423.6h0M504.6,420.7h0M504.8,422.9h0M504.9,421.8h0M505,419.4h0M505.1,420.8h0M505.3,418.6h0M505.4,421.5h0M505.5,419.1h0M505.6,415.8h0M505.8,418.3h0M505.9,423.2h0M506,423.8h0M506.1,425.3h0M506.3,422.7h0M506.4,426h0M506.5,423.8h0M506.6,422.2h0M506.8,425.4h0M506.9,425.6h0M507,424h0M507.1,427.7h0M507.3,428.1h0M507.4,428.6h0M507.5,428.1h0M507.6,429h0M507.8,429h0M507.9,428.7h0M508,428.1h0M508.1,430.1h0M508.3,430.1h0M508.4,429.6h0M508.5,430.1h0M508.6,430.4h0M508.8,427.7h0M508.9,430.6h0M509,428.5h0M509.1,431.4h0M509.3,430.8h0M509.4,430.2h0M509.5,431.3h0M509.6,427.8h0M509.8,428.9h0M509.9,425.6h0M510,424h0M510.1,420.2h0M510.3,423.5h0M510.4,422.1h0M510.5,420.3h0M510.6,420.9h0M510.7,421.5h0M510.9,420.8h0M511,423.8h0M511.1,426.1h0M511.2,425.8h0M511.4,424.5h0M511.5,421.6h0M511.6,421.6h0M511.7,422.9h0M511.9,425.7h0M512,427.5h0M512.1,429.8h0M512.2,428.7h0M512.4,427.2h0M512.5,425.4h0M512.6,425.5h0M512.7,425.1h0M512.9,424.6h0M513,420.7h0M513.1,421.7h0M513.2,420.4h0M513.4,421.9h0M513.5,424.4h0M513.6,424.1h0M513.7,420.1h0M513.9,420.3h0M514,420.1h0M514.1,419.8h0M514.2,420h0M514.4,420.4h0M514.5,419.8h0M514.6,420.7h0M514.7,419h0M514.9,419.1h0M515,421.5h0M515.1,418.5h0M515.2,418.9h0M515.4,418.5h0M515.5,421h0M515.6,417.9h0M515.7,422.8h0M515.9,420.2h0M516,417.4h0M516.1,422.7h0M516.2,425.6h0M516.4,423.9h0M516.5,425.6h0M516.6,420.6h0M516.7,418.6h0M516.9,419.4h0M517,421.2h0M517.1,422.3h0M517.2,419.6h0M517.4,417.6h0M517.5,417.3h0M517.6,416.8h0M517.7,418.5h0M517.9,422.2h0M518,425.5h0M518.1,424.4h0M518.2,419.4h0M518.4,426.6h0M518.5,423h0M518.6,422.7h0M518.7,419.8h0M518.9,422h0M519,424h0M519.1,419.1h0M519.2,418.5h0M519.4,417.2h0M519.5,418.5h0M519.6,417.6h0M519.7,417.3h0M519.9,417.1h0M520,417.1h0M520.1,417.1h0M520.2,416.6h0M520.4,419.3h0M520.5,420.9h0M520.6,420.7h0M520.7,424.2h0M520.9,423.4h0M521,423.4h0M521.1,422.8h0M521.2,420.2h0M521.4,422h0M521.5,424.3h0M521.6,423.7h0M521.7,425.9h0M521.9,420h0M522,423.2h0M522.1,420.4h0M522.2,420.5h0M522.4,420.9h0M522.5,422.1h0M522.6,425h0M522.7,422.8h0M522.9,425.8h0M523,422.9h0M523.1,420.2h0M523.2,420.9h0M523.4,425.2h0M523.5,420.9h0M523.6,420.1h0M523.7,418.8h0M523.9,418.2h0M524,414.2h0M524.1,414.3h0M524.2,414.7h0M524.4,417.3h0M524.5,422.6h0M524.6,422.1h0M524.7,420h0M524.9,414.4h0M525,414.7h0M525.1,416.6h0M525.2,418.2h0M525.4,412.6h0M525.5,414.3h0M525.6,413.8h0M525.7,415.5h0M525.9,420.6h0M526,420.5h0M526.1,421.4h0M526.2,424.3h0M526.3,421.4h0M526.5,423.5h0M526.6,423.3h0M526.7,416.6h0M526.8,418.4h0M527,413.7h0M527.1,415h0M527.2,410.4h0M527.3,415h0M527.5,411.8h0M527.6,411.1h0M527.7,410.9h0M527.8,403h0M528,403.7h0M528.1,400.5h0M528.2,400.9h0M528.3,400.3h0M528.5,399.4h0M528.6,397.4h0M528.7,396.7h0M528.8,403.2h0M529,401.2h0M529.1,405h0M529.2,399.7h0M529.3,404.2h0M529.5,398.4h0M529.6,396.7h0M529.7,393.8h0M529.8,397.5h0M530,402.7h0M530.1,399.7h0M530.2,398.2h0M530.3,397.3h0M530.5,394.8h0M530.6,394.7h0M530.7,391.6h0M530.8,395.6h0M531,387.3h0M531.1,389.2h0M531.2,391.9h0M531.3,391.9h0M531.5,391.1h0M531.6,389.4h0M531.7,388.8h0M531.8,387.3h0M532,387.4h0M532.1,380.3h0M532.2,383.2h0M532.3,378.7h0M532.5,380.7h0M532.6,380.5h0M532.7,380h0M532.8,371.1h0M533,367.6h0M533.1,362.1h0M533.2,358.8h0M533.3,368.1h0M533.5,360.1h0M533.6,357h0M533.7,355.2h0M533.8,354.6h0M534,352.1h0M534.1,351h0M534.2,350.1h0M534.3,355.5h0M534.5,353.8h0M534.6,353.1h0M534.7,352.6h0M534.8,342.1h0M535,342.3h0M535.1,338.9h0M535.2,344.5h0M535.3,332.6h0M535.5,332.9h0M535.6,340.7h0M535.7,334.1h0M535.8,358.3h0M536,355.5h0M536.1,358.2h0M536.2,353.3h0M536.3,339.3h0M536.5,350.6h0M536.6,342.7h0M536.7,337.7h0M536.8,332.4h0M537,333.8h0M537.1,333.5h0M537.2,334.2h0M537.3,334.5h0M537.5,333.6h0M537.6,334.5h0M537.7,334.5h0M537.8,334h0M538,335.9h0M538.1,333.7h0M538.2,338.7h0M538.3,348.6h0M538.5,336.4h0M538.6,343.4h0M538.7,336.5h0M538.8,337.5h0M539,336.1h0M539.1,336.6h0M539.2,339h0M539.3,336.4h0M539.5,339.4h0M539.6,353.9h0M539.7,367.5h0M539.8,343.7h0M540,351.7h0M540.1,366.1h0M540.2,355.9h0M540.3,360h0M540.5,357.5h0M540.6,347h0M540.7,365h0M540.8,364.2h0M541,372.1h0M541.1,369.6h0M541.2,360.6h0M541.3,352.6h0M541.5,363.7h0M541.6,369.6h0M541.7,363.3h0M541.8,364.5h0M541.9,365.1h0M542.1,347h0M542.2,346.3h0M542.3,358.1h0M542.4,355.1h0M542.6,363h0M542.7,372.9h0M542.8,379.9h0M542.9,369.9h0M543.1,370.2h0M543.2,373.2h0M543.3,363.6h0M543.4,358.3h0M543.6,354.7h0M543.7,354.3h0M543.8,354.9h0M543.9,363.1h0M544.1,369h0M544.2,356.9h0M544.3,356h0M544.4,357.4h0M544.6,365.7h0M544.7,381.2h0M544.8,382.1h0M544.9,376.5h0M545.1,384.3h0M545.2,372.7h0M545.3,367.7h0M545.4,367.2h0M545.6,364h0M545.7,359.7h0M545.8,362h0M545.9,365.9h0M546.1,369.9h0M546.2,362.7h0M546.3,361.8h0M546.4,358.5h0M546.6,356.4h0M546.7,360.5h0M546.8,360.2h0M546.9,367.3h0M547.1,365h0M547.2,366.8h0M547.3,366.8h0M547.4,370.9h0M547.6,366.3h0M547.7,373.9h0M547.8,376.7h0M547.9,378.2h0M548.1,374h0M548.2,374.4h0M548.3,367.6h0M548.4,373h0M548.6,371.8h0M548.7,366.4h0M548.8,366.2h0M548.9,370.3h0M549.1,366.5h0M549.2,371.4h0M549.3,369.2h0M549.4,372.1h0M549.6,365.2h0M549.7,369.5h0M549.8,368.2h0M549.9,364.1h0M550.1,369.1h0M550.2,370.1h0M550.3,373.6h0M550.4,377h0M550.6,375.8h0M550.7,373.4h0M550.8,376.2h0M550.9,374.4h0M551.1,371.2h0M551.2,373.8h0M551.3,367.2h0M551.4,370.5h0M551.6,374.6h0M551.7,379h0M551.8,377.4h0M551.9,377.5h0M552.1,378.1h0M552.2,377.6h0M552.3,377h0M552.4,377h0M552.6,376.3h0M552.7,376.2h0M552.8,375h0M552.9,375.7h0M553.1,370.7h0M553.2,373.7h0M553.3,374h0M553.4,373.1h0M553.6,368.3h0M553.7,363.5h0M553.8,363.4h0M553.9,361.8h0M554.1,361h0M554.2,362.1h0M554.3,367.1h0M554.4,361.6h0M554.6,367.7h0M554.7,367.4h0M554.8,367.8h0M554.9,368.5h0M555.1,371.5h0M555.2,366.6h0M555.3,369.8h0M555.4,369.8h0M555.6,371.5h0M555.7,371.5h0M555.8,373h0M555.9,372.9h0M556.1,373.8h0M556.2,374.3h0M556.3,372h0M556.4,370.8h0M556.6,373.3h0M556.7,370.2h0M556.8,370.4h0M556.9,369.7h0M557.1,370.2h0M557.2,369.3h0M557.3,369.2h0M557.4,370.5h0M557.5,370.3h0M557.7,369h0M557.8,369.4h0M557.9,369.7h0M558,370.5h0M558.2,371.7h0M558.3,370.8h0M558.4,370.6h0M558.5,372.1h0M558.7,371.2h0M558.8,370.2h0M558.9,371h0M559,373.7h0M559.2,374h0M559.3,372.6h0M559.4,374.9h0M559.5,370h0M559.7,372.8h0M559.8,372.8h0M559.9,374.1h0M560,367.7h0M560.2,369.9h0M560.3,371.5h0M560.4,368.1h0M560.5,366.9h0M560.7,371.6h0M560.8,367.5h0M560.9,371.9h0M561,372.9h0M561.2,369.1h0M561.3,369.6h0M561.4,370.3h0M561.5,367.1h0M561.7,366.1h0M561.8,364.3h0M561.9,365.9h0M562,368.3h0M562.2,368.9h0M562.3,364.1h0M562.4,371.9h0M562.5,366.5h0M562.7,372.5h0M562.8,380.4h0M562.9,377.9h0M563,381.2h0M563.2,384.1h0M563.3,378h0M563.4,382.8h0M563.5,381.6h0M563.7,388.1h0M563.8,387.7h0M563.9,387.1h0M564,386.7h0M564.2,386.8h0M564.3,388.4h0M564.4,388.1h0M564.5,388h0M564.7,387.6h0M564.8,388.2h0M564.9,388h0M565,380.5h0M565.2,375.3h0M565.3,377.4h0M565.4,379.6h0M565.5,381.2h0M565.7,381.1h0M565.8,377.6h0M565.9,376.9h0M566,373.5h0M566.2,376.2h0M566.3,381.6h0M566.4,378.6h0M566.5,378.9h0M566.7,391.9h0M566.8,392.2h0M566.9,391.9h0M567,393h0M567.2,392.6h0M567.3,380.1h0M567.4,385.8h0M567.5,384.9h0M567.7,392.4h0M567.8,386.6h0M567.9,393.1h0M568,394.9h0M568.2,394.4h0M568.3,387.5h0M568.4,379.2h0M568.5,380h0M568.7,385.7h0M568.8,387.7h0M568.9,387.7h0M569,387.6h0M569.2,382.5h0M569.3,381.2h0M569.4,377.9h0M569.5,377.6h0M569.7,375.7h0M569.8,375.6h0M569.9,376.2h0M570,376.9h0M570.2,376.9h0M570.3,375.8h0M570.4,376.2h0M570.5,376.8h0M570.7,375.8h0M570.8,375.8h0M570.9,376.7h0M571,376.1h0M571.2,376.3h0M571.3,376.7h0M571.4,375.1h0M571.5,375.1h0M571.7,375.2h0M571.8,374.2h0M571.9,374.1h0M572,373.3h0M572.2,373.1h0M572.3,372.9h0M572.4,372.2h0M572.5,371.9h0M572.7,372.4h0M572.8,372h0M572.9,371.3h0M573,371.5h0M573.1,370h0M573.3,373.1h0M573.4,375.1h0M573.5,378.8h0M573.6,376h0M573.8,373.5h0M573.9,379.2h0M574,377.6h0M574.1,378.4h0M574.3,381.2h0M574.4,382h0M574.5,379.3h0M574.6,379.1h0M574.8,379h0M574.9,370.1h0M575,371.1h0M575.1,373.4h0M575.3,374.7h0M575.4,378.4h0M575.5,378.3h0M575.6,377.9h0M575.8,377.6h0M575.9,376.9h0M576,374.9h0M576.1,375.9h0M576.3,375.3h0M576.4,375.3h0M576.5,373.4h0M576.6,371.6h0M576.8,372.5h0M576.9,373h0M577,372.2h0M577.1,371.7h0M577.3,372.1h0M577.4,368.3h0M577.5,370.9h0M577.6,369.8h0M577.8,370.4h0M577.9,369.9h0M578,369.1h0M578.1,368.4h0M578.3,367h0M578.4,367h0M578.5,365.2h0M578.6,365h0M578.8,366.8h0M578.9,366.4h0M579,365h0M579.1,365.1h0M579.3,367.3h0M579.4,369.2h0M579.5,366.7h0M579.6,368.2h0M579.8,367.4h0M579.9,366h0M580,368.1h0M580.1,369.4h0M580.3,368.1h0M580.4,369.1h0M580.5,370.2h0M580.6,368.8h0M580.8,366.2h0M580.9,366.5h0M581,366.9h0M581.1,366h0M581.3,368h0M581.4,367.4h0M581.5,368.1h0M581.6,372.2h0M581.8,372.1h0M581.9,368.8h0M582,367.5h0M582.1,374h0M582.3,373.5h0M582.4,374.7h0M582.5,374.2h0M582.6,375.5h0M582.8,374.9h0M582.9,372.9h0M583,372.3h0M583.1,372.4h0M583.3,374.6h0M583.4,373.6h0M583.5,374.8h0M583.6,371.8h0M583.8,373.5h0M583.9,373.2h0M584,372.1h0M584.1,376.9h0M584.3,372.7h0M584.4,378.3h0M584.5,374h0M584.6,369.4h0M584.8,371h0M584.9,371.5h0M585,371.3h0M585.1,372.4h0M585.3,367.2h0M585.4,370.2h0M585.5,368h0M585.6,369.3h0M585.8,364h0M585.9,364.7h0M586,363.1h0M586.1,363h0M586.3,363h0M586.4,361.4h0M586.5,362h0M586.6,360.7h0M586.8,360.4h0M586.9,371.9h0M587,372.1h0M587.1,370.4h0M587.3,366.6h0M587.4,371.5h0M587.5,368h0M587.6,369.5h0M587.8,364.9h0M587.9,369.5h0M588,375.3h0M588.1,373.3h0M588.3,364.3h0M588.4,369.5h0M588.5,366.6h0M588.6,357.6h0M588.7,358.7h0M588.9,367.7h0M589,365.2h0M589.1,358.3h0M589.2,361.7h0M589.4,355h0M589.5,369.3h0M589.6,362.7h0M589.7,371.3h0M589.9,365.2h0M590,363.4h0M590.1,365.1h0M590.2,362.8h0M590.4,369.4h0M590.5,369.7h0M590.6,366.4h0M590.7,365h0M590.9,365.6h0M591,367.2h0M591.1,366.7h0M591.2,367.3h0M591.4,366.7h0M591.5,364.8h0M591.6,361.8h0M591.7,365.6h0M591.9,365.1h0M592,364.3h0M592.1,364.8h0M592.2,364.2h0M592.4,364h0M592.5,364.8h0M592.6,363.9h0M592.7,364.5h0M592.9,358.7h0M593,359.9h0M593.1,358.7h0M593.2,362.5h0M593.4,361.6h0M593.5,355.6h0M593.6,356.3h0M593.7,357.2h0M593.9,354.3h0M594,356.8h0M594.1,356.7h0M594.2,355.3h0M594.4,355.7h0M594.5,355.9h0M594.6,360.4h0M594.7,358.3h0M594.9,360.9h0M595,361.8h0M595.1,362.9h0M595.2,361.1h0M595.4,360.5h0M595.5,362.1h0M595.6,359.6h0M595.7,362.7h0M595.9,365.5h0M596,364.2h0M596.1,364.5h0M596.2,360.3h0M596.4,360.6h0M596.5,359.8h0M596.6,361.2h0M596.7,361.4h0M596.9,357.5h0M597,362.1h0M597.1,360h0M597.2,358.4h0M597.4,356.7h0M597.5,357.1h0M597.6,354.5h0M597.7,355.1h0M597.9,354.7h0M598,355.8h0M598.1,354.3h0M598.2,353.6h0M598.4,356.8h0M598.5,354.6h0M598.6,356.4h0M598.7,354.3h0M598.9,352.7h0M599,352.4h0M599.1,353.7h0M599.2,352.8h0M599.4,356.7h0M599.5,356.5h0M599.6,357.2h0M599.7,359.7h0M599.9,354.2h0M600,354.8h0M600.1,355.1h0M600.2,358h0M600.4,357.1h0M600.5,358.5h0M600.6,360.2h0M600.7,360.9h0M600.9,359.6h0M601,355.5h0M601.1,360.1h0M601.2,358.1h0M601.4,356.6h0M601.5,358.1h0M601.6,357.1h0M601.7,357.1h0M601.9,354.6h0M602,353.2h0M602.1,351.2h0M602.2,354h0M602.4,350.8h0M602.5,351.4h0M602.6,349.8h0M602.7,347.8h0M602.9,349.1h0M603,348.6h0M603.1,346.6h0M603.2,352.4h0M603.4,349.5h0M603.5,346h0M603.6,344.5h0M603.7,343.1h0M603.9,342.3h0M604,339.3h0M604.1,340h0M604.2,339.6h0M604.3,339.6h0M604.5,338.1h0M604.6,338.9h0M604.7,344.6h0M604.8,338.6h0M605,340.3h0M605.1,345.7h0M605.2,343.1h0M605.3,344.7h0M605.5,354.5h0M605.6,349.5h0M605.7,349h0M605.8,348.9h0M606,344.4h0M606.1,346.7h0M606.2,340.3h0M606.3,336.9h0M606.5,337.6h0M606.6,339.3h0M606.7,343.9h0M606.8,351.5h0M607,350.8h0M607.1,346.2h0M607.2,343.9h0M607.3,335.1h0M607.5,337.4h0M607.6,344.4h0M607.7,345.4h0M607.8,344.7h0M608,334.8h0M608.1,335.9h0M608.2,335.9h0M608.3,339.4h0M608.5,344.2h0M608.6,348.8h0M608.7,346.8h0M608.8,350.2h0M609,343h0M609.1,335.5h0M609.2,347.3h0M609.3,342.5h0M609.5,341.5h0M609.6,337.8h0M609.7,337.6h0M609.8,350h0M610,347.9h0M610.1,341.7h0M610.2,343.4h0M610.3,344.9h0M610.5,348h0M610.6,352.9h0M610.7,354.2h0M610.8,352.3h0M611,354.2h0M611.1,356.4h0M611.2,359h0M611.3,361.8h0M611.5,358.6h0M611.6,360h0M611.7,362.2h0M611.8,364.8h0M612,364.9h0M612.1,371h0M612.2,366.2h0M612.3,367.3h0M612.5,366.8h0M612.6,366h0M612.7,371.1h0M612.8,367.4h0M613,372.6h0M613.1,372.1h0M613.2,370.3h0M613.3,375.6h0M613.5,375.4h0M613.6,380.2h0M613.7,373.1h0M613.8,374.3h0M614,370.3h0M614.1,370.1h0M614.2,375.7h0M614.3,373.8h0M614.5,375.4h0M614.6,379.3h0M614.7,374.3h0M614.8,379.3h0M615,371.8h0M615.1,380.7h0M615.2,382.7h0M615.3,382.1h0M615.5,386.1h0M615.6,385.5h0M615.7,386h0M615.8,385.8h0M616,385h0M616.1,383.7h0M616.2,382.4h0M616.3,382h0M616.5,383.9h0M616.6,384.3h0M616.7,383.6h0M616.8,381.2h0M617,383.7h0M617.1,383.2h0M617.2,383.2h0M617.3,382.9h0M617.5,381.7h0M617.6,379.1h0M617.7,379.8h0M617.8,380.2h0M618,381.6h0M618.1,381.4h0M618.2,379.9h0M618.3,381.8h0M618.5,375.4h0M618.6,377.5h0M618.7,375.2h0M618.8,376h0M619,375.7h0M619.1,375.2h0M619.2,373.6h0M619.3,373h0M619.5,373.3h0M619.6,373.2h0M619.7,373.1h0M619.8,374.7h0M619.9,377.9h0M620.1,376.2h0M620.2,377h0M620.3,372.5h0M620.4,374.9h0M620.6,369.7h0M620.7,370.5h0M620.8,373.5h0M620.9,378h0M621.1,377.4h0M621.2,373.8h0M621.3,379.3h0M621.4,374.2h0M621.6,375.2h0M621.7,374.4h0M621.8,376.5h0M621.9,372h0M622.1,373.3h0M622.2,371.8h0M622.3,374.8h0M622.4,371.2h0M622.6,383.4h0M622.7,381.3h0M622.8,379.6h0M622.9,382.1h0M623.1,376.2h0M623.2,373.1h0M623.3,371.9h0M623.4,373h0M623.6,381.7h0M623.7,383.1h0M623.8,377.2h0M623.9,383.1h0M624.1,375.7h0M624.2,382.6h0M624.3,381h0M624.4,381.8h0M624.6,378.9h0M624.7,381.1h0M624.8,380.6h0M624.9,379h0M625.1,379.2h0M625.2,381.5h0M625.3,379.9h0M625.4,380.5h0M625.6,387.4h0M625.7,395.1h0M625.8,398.6h0M625.9,392.6h0M626.1,399.2h0M626.2,406.7h0M626.3,393.7h0M626.4,402.3h0M626.6,386.3h0M626.7,393.9h0M626.8,397.3h0M626.9,406.8h0M627.1,411.8h0M627.2,418.6h0M627.3,402.7h0M627.4,406.6h0M627.6,409.6h0M627.7,406.3h0M627.8,403.3h0M627.9,410.9h0M628.1,412.3h0M628.2,415.1h0M628.3,421.2h0M628.4,412.6h0M628.6,416.8h0M628.7,417.8h0M628.8,409.4h0M628.9,413h0M629.1,407.6h0M629.2,410.1h0M629.3,414.7h0M629.4,418h0M629.6,420h0M629.7,416.2h0M629.8,416.8h0M629.9,415.1h0M630.1,415.2h0M630.2,410.3h0M630.3,414.3h0M630.4,413h0M630.6,416.7h0M630.7,416.7h0M630.8,405.6h0M630.9,413.6h0M631.1,413.9h0M631.2,416.4h0M631.3,408.9h0M631.4,411.1h0M631.6,410.3h0M631.7,418.3h0M631.8,421.5h0M631.9,420.6h0M632.1,421.3h0M632.2,419.4h0M632.3,411.4h0M632.4,410.3h0M632.6,411.2h0M632.7,414.4h0M632.8,409.9h0M632.9,410.2h0M633.1,407.1h0M633.2,407.4h0M633.3,407.7h0M633.4,408.2h0M633.6,407.9h0M633.7,412.1h0M633.8,411.9h0M633.9,414.5h0M634.1,421.6h0M634.2,416.6h0M634.3,416.9h0M634.4,414.2h0M634.6,413.3h0M634.7,411.1h0M634.8,412.5h0M634.9,412.9h0M635.1,413.3h0M635.2,420.2h0M635.3,422.9h0M635.4,417.1h0M635.5,417.4h0M635.7,415.2h0M635.8,419.5h0M635.9,422.9h0M636,422.4h0M636.2,421.6h0M636.3,427.5h0M636.4,426.8h0M636.5,420.2h0M636.7,416.5h0M636.8,420.3h0M636.9,421.6h0M637,419.9h0M637.2,421.4h0M637.3,422.3h0M637.4,419.1h0M637.5,418.9h0M637.7,421h0M637.8,418.9h0M637.9,422.7h0M638,422.1h0M638.2,421.5h0M638.3,423.7h0M638.4,425.9h0M638.5,427.2h0M638.7,425.7h0M638.8,428.5h0M638.9,431.9h0M639,432.2h0M639.2,432.4h0M639.3,433.2h0M639.4,429.3h0M639.5,427.4h0M639.7,430.5h0M639.8,428.8h0M639.9,426.7h0M640,426.1h0M640.2,420.8h0M640.3,424.8h0M640.4,422.1h0M640.5,422.9h0M640.7,422.4h0M640.8,424.8h0M640.9,423.5h0M641,427.2h0M641.2,421.4h0M641.3,426.3h0M641.4,427.4h0M641.5,426.3h0M641.7,427.5h0M641.8,428.4h0M641.9,422.6h0M642,421.9h0M642.2,422h0M642.3,423.3h0M642.4,425.9h0M642.5,428.3h0M642.7,432.6h0M642.8,432.2h0M642.9,431.9h0M643,432.3h0M643.2,429.1h0M643.3,430.5h0M643.4,429.3h0M643.5,426.1h0M643.7,422h0M643.8,421.6h0M643.9,423.9h0M644,424.9h0M644.2,427h0M644.3,423.3h0M644.4,423.7h0M644.5,422.8h0M644.7,424.6h0M644.8,428h0M644.9,430.6h0M645,430.3h0M645.2,429.6h0M645.3,429.7h0M645.4,430h0M645.5,430.5h0M645.7,429.7h0M645.8,429.8h0M645.9,426.8h0M646,429.8h0M646.2,425.2h0M646.3,423.8h0M646.4,424.2h0M646.5,421.7h0M646.7,419.3h0M646.8,417.2h0M646.9,423.5h0M647,424.7h0M647.2,420.3h0M647.3,424.5h0M647.4,420.5h0M647.5,423h0M647.7,421.8h0M647.8,419.2h0M647.9,414.6h0M648,415.3h0M648.2,414.2h0M648.3,413.5h0M648.4,414.2h0M648.5,413.4h0M648.7,411.9h0M648.8,411.4h0M648.9,410.5h0M649,410.9h0M649.2,410h0M649.3,407.9h0M649.4,407.5h0M649.5,409.8h0M649.7,406.1h0M649.8,406.7h0M649.9,409.1h0M650,406.4h0M650.2,407.1h0M650.3,412.6h0M650.4,416.2h0M650.5,402.9h0M650.7,400.9h0M650.8,399.2h0M650.9,402.1h0M651,403.9h0M651.1,401.1h0M651.3,407h0M651.4,410.7h0M651.5,400.7h0M651.6,405.2h0M651.8,412h0M651.9,416.9h0M652,412.2h0M652.1,399.7h0M652.3,407.7h0M652.4,411h0M652.5,415.5h0M652.6,414.1h0M652.8,410.9h0M652.9,409.1h0M653,412h0M653.1,409.5h0M653.3,406.4h0M653.4,403.7h0M653.5,410.7h0M653.6,403.5h0M653.8,399.7h0M653.9,402h0M654,397.6h0M654.1,394h0M654.3,400.2h0M654.4,403.2h0M654.5,402.3h0M654.6,402.4h0M654.8,400.5h0M654.9,398.4h0M655,394.7h0M655.1,401.6h0M655.3,404.9h0M655.4,402.3h0M655.5,402h0M655.6,401.5h0M655.8,399.6h0M655.9,397.1h0M656,397.3h0M656.1,393h0M656.3,390.5h0M656.4,390.5h0M656.5,391.9h0M656.6,394.4h0M656.8,396.3h0M656.9,397.2h0M657,398h0M657.1,396h0M657.3,392.5h0M657.4,392.4h0M657.5,394.2h0M657.6,394.7h0M657.8,398.1h0M657.9,395.4h0M658,391.3h0M658.1,396.6h0M658.3,391.4h0M658.4,390.6h0M658.5,388.9h0M658.6,388.8h0M658.8,389.8h0M658.9,390.3h0M659,391.5h0M659.1,391h0M659.3,393.8h0M659.4,392.6h0M659.5,395.9h0M659.6,391.5h0M659.8,392.4h0M659.9,391.5h0M660,387.4h0M660.1,390h0M660.3,390.7h0M660.4,395.3h0M660.5,397h0M660.6,396.5h0M660.8,396.4h0M660.9,393.6h0M661,394.6h0M661.1,396.4h0M661.3,394.6h0M661.4,397.3h0M661.5,396.6h0M661.6,396.2h0M661.8,396.4h0M661.9,396.8h0M662,396.7h0M662.1,396.4h0M662.3,394.5h0M662.4,394.6h0M662.5,389.6h0M662.6,385.8h0M662.8,385.5h0M662.9,385.7h0M663,384.6h0M663.1,386.3h0M663.3,385.2h0M663.4,384.7h0M663.5,385.1h0M663.6,385.1h0M663.8,385.1h0M663.9,384.5h0M664,384.9h0M664.1,384.4h0M664.3,386h0M664.4,384.4h0M664.5,384.8h0M664.6,384.1h0M664.8,386.2h0M664.9,385.2h0M665,384h0M665.1,384.5h0M665.3,384h0M665.4,384.5h0M665.5,384.7h0M665.6,386h0M665.8,386.4h0M665.9,384.7h0M666,385.6h0M666.1,384h0M666.3,385.2h0M666.4,384.8h0M666.5,385.3h0M666.6,384.3h0M666.7,386.9h0M666.9,386.4h0M667,390.4h0M667.1,384.4h0M667.2,387.3h0M667.4,390.1h0M667.5,392.7h0M667.6,392h0M667.7,395.2h0M667.9,391.4h0M668,392.9h0M668.1,396.2h0M668.2,394.5h0M668.4,395.5h0M668.5,394.2h0M668.6,396.4h0M668.7,394.6h0M668.9,397.3h0M669,397.2h0M669.1,396.8h0M669.2,397.5h0M669.4,397.9h0M669.5,397.7h0M669.6,397.8h0M669.7,397.1h0M669.9,395.4h0M670,396.9h0M670.1,397.7h0M670.2,397.2h0M670.4,394.8h0M670.5,397.3h0M670.6,398.4h0M670.7,397.9h0M670.9,398.8h0M671,396.8h0M671.1,395.7h0M671.2,395.3h0M671.4,395.2h0M671.5,395.5h0M671.6,396.8h0M671.7,397.3h0M671.9,399.1h0M672,399.3h0M672.1,398.1h0M672.2,399.7h0M672.4,399.6h0M672.5,399.7h0M672.6,399.8h0M672.7,399.7h0M672.9,399.6h0M673,399.9h0M673.1,400.1h0M673.2,399.9h0M673.4,400.2h0M673.5,400.3h0M673.6,400.3h0M673.7,400.3h0M673.9,400h0M674,400.3h0M674.1,399.8h0M674.2,400.2h0M674.4,399.5h0M674.5,400h0M674.6,400.5h0M674.7,401.3h0M674.9,401.5h0M675,402h0M675.1,401.9h0M675.2,402.5h0M675.4,401.9h0M675.5,402.6h0M675.6,403.1h0M675.7,402.7h0M675.9,403.1h0M676,403.2h0M676.1,403.3h0M676.2,403.3h0M676.4,403.1h0M676.5,404.2h0M676.6,404h0M676.7,404.6h0M676.9,401.8h0M677,405h0M677.1,404.4h0M677.2,401.1h0M677.4,404.3h0M677.5,401.7h0M677.6,391.8h0M677.7,391.8h0M677.9,392.5h0M678,391.9h0M678.1,392.2h0M678.2,395h0M678.4,393.4h0M678.5,395.9h0M678.6,391h0M678.7,395.3h0M678.9,396.3h0M679,390.7h0M679.1,390.3h0M679.2,393.1h0M679.4,389.8h0M679.5,394h0M679.6,395.9h0M679.7,395.5h0M679.9,395.7h0M680,393.2h0M680.1,396.9h0M680.2,396.8h0M680.4,398.1h0M680.5,398.4h0M680.6,395.3h0M680.7,397.2h0M680.9,396.4h0M681,397.1h0M681.1,395.8h0M681.2,395.7h0M681.4,397.1h0M681.5,394.5h0M681.6,395.8h0M681.7,394.2h0M681.9,392.6h0M682,396.8h0M682.1,388.7h0M682.2,387.4h0M682.3,389.8h0M682.5,396.4h0M682.6,398.3h0M682.7,394.8h0M682.8,389.5h0M683,391.5h0M683.1,389.6h0M683.2,389.4h0M683.3,387.8h0M683.5,392.8h0M683.6,393.5h0M683.7,389.9h0M683.8,392.6h0M684,390.3h0M684.1,389.5h0M684.2,391.4h0M684.3,389.7h0M684.5,390.4h0M684.6,392.7h0M684.7,392h0M684.8,390h0M685,390.6h0M685.1,390.4h0M685.2,391.3h0M685.3,394.1h0M685.5,394.6h0M685.6,392.8h0M685.7,393.3h0M685.8,397.7h0M686,400.4h0M686.1,396.2h0M686.2,398.4h0M686.3,401.1h0M686.5,401.6h0M686.6,397.2h0M686.7,399.1h0M686.8,400.7h0M687,399.5h0M687.1,402.3h0M687.2,400.5h0M687.3,399.6h0M687.5,398.9h0M687.6,403.1h0M687.7,399.7h0M687.8,393h0M688,393.7h0M688.1,393.4h0M688.2,394.9h0M688.3,393.5h0M688.5,394.6h0M688.6,400.3h0M688.7,400.4h0M688.8,398.5h0M689,402.9h0M689.1,407.2h0M689.2,407.1h0M689.3,413h0M689.5,407.8h0M689.6,412.5h0M689.7,404.4h0M689.8,400.1h0M690,401.9h0M690.1,405.4h0M690.2,406.7h0M690.3,411.7h0M690.5,414.3h0M690.6,412.8h0M690.7,404.6h0M690.8,409.2h0M691,408.5h0M691.1,415.3h0M691.2,414.7h0M691.3,415h0M691.5,414.7h0M691.6,415.7h0M691.7,412.6h0M691.8,408.9h0M692,412.7h0M692.1,410.2h0M692.2,409.8h0M692.3,406.2h0M692.5,412.2h0M692.6,416.9h0M692.7,416.3h0M692.8,413h0M693,412.5h0M693.1,404.9h0M693.2,406.3h0M693.3,411.9h0M693.5,402.1h0M693.6,412.5h0M693.7,404.1h0M693.8,404.3h0M694,407.3h0M694.1,412.3h0M694.2,415.9h0M694.3,414.8h0M694.5,414.8h0M694.6,412.7h0M694.7,415h0M694.8,413.5h0M695,412.4h0M695.1,416.4h0M695.2,415.1h0M695.3,417.1h0M695.5,416.6h0M695.6,417.1h0M695.7,416.6h0M695.8,416.7h0M696,415.9h0M696.1,416h0M696.2,416.1h0M696.3,415.7h0M696.5,415.7h0M696.6,416h0M696.7,415.7h0M696.8,415.7h0M697,416h0M697.1,416.2h0M697.2,416.5h0M697.3,415.6h0M697.5,415.6h0M697.6,415.5h0M697.7,413.6h0M697.8,413.4h0M697.9,409.8h0M698.1,409.5h0M698.2,414.1h0M698.3,406.7h0M698.4,405.2h0M698.6,412.1h0M698.7,412.1h0M698.8,410.5h0M698.9,410.6h0M699.1,412.8h0M699.2,414.6h0M699.3,415.4h0M699.4,413.6h0M699.6,412.5h0M699.7,414.5h0M699.8,408.8h0M699.9,408.2h0M700.1,410.5h0M700.2,414h0M700.3,406.7h0M700.4,404.6h0M700.6,408.2h0M700.7,409.2h0M700.8,409h0M700.9,406.7h0M701.1,406.4h0M701.2,405.9h0M701.3,406.2h0M701.4,406.6h0M701.6,410.1h0M701.7,409.3h0M701.8,406.6h0M701.9,406.4h0M702.1,407.3h0M702.2,407.5h0M702.3,407.3h0M702.4,407.1h0M702.6,407.1h0M702.7,407.7h0M702.8,408.2h0M702.9,407.9h0M703.1,407.6h0M703.2,407.9h0M703.3,408.8h0M703.4,408.3h0M703.6,410.1h0M703.7,411.5h0M703.8,411.1h0M703.9,408.3h0M704.1,411h0M704.2,413.2h0M704.3,413.7h0M704.4,418.4h0M704.6,414.4h0M704.7,409.7h0M704.8,413.2h0M704.9,412.8h0M705.1,418.3h0M705.2,414.1h0M705.3,410.5h0M705.4,409.3h0M705.6,409.7h0M705.7,412.3h0M705.8,412.2h0M705.9,411.6h0M706.1,415.4h0M706.2,410.4h0M706.3,414.9h0M706.4,409.4h0M706.6,411.3h0M706.7,409.8h0M706.8,414.5h0M706.9,413.9h0M707.1,414h0M707.2,412h0M707.3,413.3h0M707.4,414.7h0M707.6,414.5h0M707.7,410.9h0M707.8,409.6h0M707.9,408.2h0M708.1,406.8h0M708.2,410.1h0M708.3,407.4h0M708.4,408.6h0M708.6,407.4h0M708.7,406.8h0M708.8,407.5h0M708.9,406.8h0M709.1,407.4h0M709.2,412.6h0M709.3,415.9h0M709.4,418.2h0M709.6,415.1h0M709.7,412.4h0M709.8,414.4h0M709.9,409.6h0M710.1,410.9h0M710.2,411.1h0M710.3,410.6h0M710.4,408.9h0M710.6,408.9h0M710.7,408.1h0M710.8,408.9h0M710.9,409.1h0M711.1,408.9h0M711.2,409.7h0M711.3,410.3h0M711.4,410.3h0M711.6,412.4h0M711.7,411.8h0M711.8,413.1h0M711.9,411.5h0M712.1,412.2h0M712.2,414.6h0M712.3,418.4h0M712.4,414.9h0M712.6,421.8h0M712.7,418.5h0M712.8,416.3h0M712.9,416.4h0M713.1,417.4h0M713.2,415.5h0M713.3,416h0M713.4,414.9h0M713.5,416.5h0M713.7,416.2h0M713.8,415.5h0M713.9,415.9h0M714,416h0M714.2,417.2h0M714.3,417.8h0M714.4,417.4h0M714.5,417.2h0M714.7,418.4h0M714.8,417.8h0M714.9,419.1h0M715,418.9h0M715.2,418.9h0M715.3,421.1h0M715.4,427.2h0M715.5,422.9h0M715.7,425.7h0M715.8,425.6h0M715.9,422.5h0M716,423.6h0M716.2,433.1h0M716.3,431.3h0M716.4,432.3h0M716.5,430h0M716.7,431.8h0M716.8,433.1h0M716.9,431.2h0M717,431.9h0M717.2,430.2h0M717.3,428.3h0M717.4,429.5h0M717.5,425.9h0M717.7,431.7h0M717.8,426.4h0M717.9,425.9h0M718,423.4h0M718.2,427h0M718.3,432.4h0M718.4,429.2h0M718.5,432.2h0M718.7,435.7h0M718.8,436.2h0M718.9,437.3h0M719,436.5h0M719.2,432.2h0M719.3,436.9h0M719.4,437.9h0M719.5,434.3h0M719.7,434.4h0M719.8,435.8h0M719.9,435.3h0M720,438.6h0M720.2,438.3h0M720.3,435.4h0M720.4,437h0M720.5,438.3h0M720.7,435.1h0M720.8,432.8h0M720.9,433h0M721,433.6h0M721.2,436.1h0M721.3,433.9h0M721.4,435.9h0M721.5,437.8h0M721.7,436.7h0M721.8,434.8h0M721.9,434.6h0M722,432.3h0M722.2,432.6h0M722.3,434.6h0M722.4,435.1h0M722.5,437.1h0M722.7,437.9h0M722.8,436.5h0M722.9,434.2h0M723,435h0M723.2,435.3h0M723.3,438h0M723.4,436.5h0M723.5,438.3h0M723.7,437.2h0M723.8,436h0M723.9,439.1h0M724,439.4h0M724.2,439.9h0M724.3,439.9h0M724.4,443.8h0M724.5,441.2h0M724.7,439.2h0M724.8,439.2h0M724.9,439.7h0M725,439.3h0M725.2,437.5h0M725.3,436.4h0M725.4,437.1h0M725.5,437.1h0M725.7,441.8h0M725.8,439.8h0M725.9,438.2h0M726,442.7h0M726.2,445.7h0M726.3,444.6h0M726.4,442.9h0M726.5,441.5h0M726.7,443.5h0M726.8,441.4h0M726.9,446.3h0M727,446.2h0M727.2,445.5h0M727.3,447.8h0M727.4,448.7h0M727.5,446.5h0M727.7,449.1h0M727.8,449.8h0M727.9,445.8h0M728,447.7h0M728.2,449.3h0M728.3,448.5h0M728.4,448.9h0M728.5,449.3h0M728.7,444.7h0M728.8,442.1h0M728.9,441.5h0M729,440.4h0M729.1,441.1h0M729.3,440.7h0M729.4,442.9h0M729.5,446.5h0M729.6,446.5h0M729.8,453.1h0M729.9,450h0M730,453h0M730.1,452.8h0M730.3,452.4h0M730.4,453.2h0M730.5,453.3h0M730.6,453.1h0M730.8,450.8h0M730.9,454.5h0M731,454.1h0M731.1,453.4h0M731.3,454.1h0M731.4,454.2h0M731.5,453.8h0M731.6,453.6h0M731.8,452.8h0M731.9,453h0M732,452.8h0M732.1,452.5h0M732.3,453h0M732.4,451.3h0M732.5,446.9h0M732.6,444.8h0M732.8,444.9h0M732.9,446h0M733,445h0M733.1,446.7h0M733.3,446.3h0M733.4,444.8h0M733.5,446.9h0M733.6,447.1h0M733.8,449h0M733.9,450.3h0M734,449h0M734.1,444.7h0M734.3,445.9h0M734.4,447.4h0M734.5,447h0M734.6,446h0M734.8,446.7h0M734.9,445.5h0M735,443.9h0M735.1,444.9h0M735.3,443.6h0M735.4,443.1h0M735.5,444.1h0M735.6,443.8h0M735.8,446.3h0M735.9,443.9h0M736,443.4h0M736.1,443.3h0M736.3,443.3h0M736.4,443.2h0M736.5,443.2h0M736.6,444h0M736.8,445h0M736.9,444.7h0M737,444.7h0M737.1,442.5h0M737.3,443.6h0M737.4,442.6h0M737.5,442.6h0M737.6,442.9h0M737.8,442.6h0M737.9,442.3h0M738,442.5h0M738.1,442.4h0M738.3,442.3h0M738.4,442.4h0M738.5,442.3h0M738.6,442.2h0M738.8,442.1h0M738.9,442.3h0M739,442.3h0M739.1,442.2h0M739.3,442.2h0M739.4,442.4h0M739.5,441.8h0M739.6,442.7h0M739.8,442.4h0M739.9,441.5h0M740,441.9h0M740.1,442.1h0M740.3,442.8h0M740.4,445.3h0M740.5,446.6h0M740.6,446.8h0M740.8,445.8h0M740.9,443.8h0M741,441.3h0M741.1,441.4h0M741.3,439.7h0M741.4,440.7h0M741.5,441.3h0M741.6,441.9h0M741.8,440.6h0M741.9,442.3h0M742,440.3h0M742.1,438.8h0M742.3,439.2h0M742.4,439.2h0M742.5,440h0M742.6,439.2h0M742.8,440h0M742.9,442.9h0M743,441.3h0M743.1,440.2h0M743.3,441.4h0M743.4,443.7h0M743.5,445.2h0M743.6,445.2h0M743.8,444.9h0M743.9,444.7h0M744,445.1h0M744.1,440.2h0M744.3,439.6h0M744.4,439.3h0M744.5,435.4h0M744.6,435.2h0M744.7,435h0M744.9,435.1h0M745,436.9h0M745.1,434.4h0M745.2,434h0M745.4,433.7h0M745.5,433.3h0M745.6,434.6h0M745.7,434.9h0M745.9,436.2h0M746,433.9h0M746.1,433.5h0M746.2,432.1h0M746.4,436.5h0M746.5,433h0M746.6,437.4h0M746.7,439h0M746.9,438.3h0M747,440h0M747.1,439.5h0M747.2,439.4h0M747.4,437.7h0M747.5,437.4h0M747.6,435.9h0M747.7,433.8h0M747.9,433.1h0M748,435.1h0M748.1,433.2h0M748.2,432.9h0M748.4,434.6h0M748.5,433.9h0M748.6,428.6h0M748.7,428.4h0M748.9,430.7h0M749,427.7h0M749.1,432.3h0M749.2,435.5h0M749.4,432.7h0M749.5,429.2h0M749.6,428.6h0M749.7,431.3h0M749.9,430.8h0M750,430.7h0M750.1,427.8h0M750.2,427.9h0M750.4,428.2h0M750.5,428.2h0M750.6,428h0M750.7,430.3h0M750.9,434.7h0M751,432.9h0M751.1,430h0M751.2,428.8h0M751.4,431.2h0M751.5,429.4h0M751.6,430.8h0M751.7,429.1h0M751.9,436.4h0M752,434.4h0M752.1,433.8h0M752.2,432.2h0M752.4,432.3h0M752.5,430.1h0M752.6,437.7h0M752.7,435.2h0M752.9,442.3h0M753,436.7h0M753.1,432.4h0M753.2,433.5h0M753.4,437.4h0M753.5,441.8h0M753.6,436.5h0M753.7,435.1h0M753.9,432.2h0M754,435.7h0M754.1,433.1h0M754.2,434.2h0M754.4,440.4h0M754.5,443.4h0M754.6,447.1h0M754.7,442.8h0M754.9,440.4h0M755,446.6h0M755.1,444.2h0M755.2,447.7h0M755.4,447.6h0M755.5,449.9h0M755.6,452.3h0M755.7,451.7h0M755.9,445.8h0M756,444.2h0M756.1,450.2h0M756.2,446.2h0M756.4,445.2h0M756.5,441.6h0M756.6,442h0M756.7,448.8h0M756.9,451.3h0M757,448.7h0M757.1,443.8h0M757.2,440.8h0M757.4,442.1h0M757.5,446.2h0M757.6,443.3h0M757.7,447.6h0M757.9,448.3h0M758,443.4h0M758.1,450.9h0M758.2,452.6h0M758.4,451.4h0M758.5,451.2h0M758.6,455.4h0M758.7,453.1h0M758.9,452h0M759,453h0M759.1,455.5h0M759.2,451.7h0M759.4,453.1h0M759.5,452.2h0M759.6,454.7h0M759.7,456.2h0M759.9,455.9h0M760,456h0M760.1,456.2h0M760.2,455.9h0M760.3,456.2h0M760.5,454.2h0M760.6,452.8h0M760.7,452h0M760.8,451.8h0M761,453.6h0M761.1,454.6h0M761.2,451.6h0M761.3,454.7h0M761.5,457.1h0M761.6,456.3h0M761.7,456.3h0M761.8,456.5h0M762,457.3h0M762.1,456.5h0M762.2,456.5h0M762.3,454.2h0M762.5,452.9h0M762.6,455.9h0M762.7,454.8h0M762.8,456.5h0M763,452.7h0M763.1,452.2h0M763.2,451h0M763.3,449.1h0M763.5,448.3h0M763.6,449.1h0M763.7,450.3h0M763.8,449.2h0M764,455.2h0M764.1,452.5h0M764.2,456.1h0M764.3,454.8h0M764.5,453.6h0M764.6,453.1h0M764.7,453.2h0M764.8,453.8h0M765,448.7h0M765.1,450.5h0M765.2,452.2h0M765.3,452.7h0M765.5,453.2h0M765.6,453.4h0M765.7,456h0M765.8,457.7h0M766,458h0M766.1,456.7h0M766.2,457h0M766.3,453.2h0M766.5,451.2h0M766.6,451h0M766.7,451.8h0M766.8,451.6h0M767,450.2h0M767.1,450.7h0M767.2,448.5h0M767.3,449.5h0M767.5,448.3h0M767.6,449.1h0M767.7,450.7h0M767.8,450.1h0M768,448.8h0M768.1,449.4h0M768.2,450.2h0M768.3,450.1h0M768.5,451.3h0M768.6,453h0M768.7,452.1h0M768.8,451.5h0M769,453.1h0M769.1,448.8h0M769.2,450.2h0M769.3,456.8h0M769.5,455.4h0M769.6,456.4h0M769.7,452.8h0M769.8,456.6h0M770,453.8h0M770.1,456.3h0M770.2,456.2h0M770.3,455.9h0M770.5,456h0M770.6,450.8h0M770.7,454.7h0M770.8,453h0M771,451.2h0M771.1,449.4h0M771.2,451.2h0M771.3,454.1h0M771.5,456.2h0M771.6,456.3h0M771.7,454.8h0M771.8,454.4h0M772,453h0M772.1,455.8h0M772.2,456h0M772.3,453.8h0M772.5,455.9h0M772.6,455.8h0M772.7,455.9h0M772.8,456h0M773,456.1h0M773.1,455.2h0M773.2,456h0M773.3,455.9h0M773.5,455.5h0M773.6,455.8h0M773.7,455.2h0M773.8,455.1h0M774,455.7h0M774.1,455.1h0M774.2,455.2h0M774.3,455.1h0M774.5,455.2h0M774.6,455h0M774.7,455h0M774.8,453.6h0M775,455.4h0M775.1,454.1h0M775.2,454.2h0M775.3,453.1h0M775.5,454.3h0M775.6,454.2h0M775.7,453h0M775.8,452.3h0M775.9,449h0M776.1,450.8h0M776.2,451.4h0M776.3,451h0M776.4,451.7h0M776.6,453.5h0M776.7,452h0M776.8,452.3h0M776.9,451.4h0M777.1,451.3h0M777.2,450.3h0M777.3,450.7h0M777.4,450.6h0M777.6,450.7h0M777.7,451.7h0M777.8,453.1h0M777.9,454.2h0M778.1,454.3h0M778.2,452h0M778.3,453.1h0M778.4,454.2h0M778.6,452h0M778.7,452h0M778.8,451.2h0M778.9,449.6h0M779.1,449.1h0M779.2,448.4h0M779.3,449.1h0M779.4,448.3h0M779.6,449.6h0M779.7,448.6h0M779.8,449.3h0M779.9,449.5h0M780.1,450.1h0M780.2,452.8h0M780.3,451.2h0M780.4,449.2h0M780.6,448.2h0M780.7,448.1h0M780.8,448.4h0M780.9,448.1h0M781.1,448.3h0M781.2,449.9h0M781.3,449.2h0M781.4,448.2h0M781.6,448.2h0M781.7,448.6h0M781.8,448.4h0M781.9,448.6h0M782.1,448.4h0M782.2,449h0M782.3,450.6h0M782.4,450.5h0M782.6,451.2h0M782.7,450.7h0M782.8,452.4h0M782.9,453.6h0M783.1,453.6h0M783.2,453.5h0M783.3,453.6h0M783.4,453.9h0M783.6,453.4h0M783.7,453.8h0M783.8,453.2h0M783.9,453.6h0M784.1,453.7h0M784.2,453.4h0M784.3,453.4h0M784.4,453.6h0M784.6,453.1h0M784.7,452.9h0M784.8,452.9h0M784.9,450h0M785.1,453.3h0M785.2,450.3h0M785.3,451.4h0M785.4,449.4h0M785.6,445.8h0M785.7,445.6h0M785.8,448.6h0M785.9,450.8h0M786.1,451.2h0M786.2,451.5h0M786.3,449.9h0M786.4,451.7h0M786.6,449h0M786.7,445.8h0M786.8,451h0M786.9,452.1h0M787.1,449.8h0M787.2,448.1h0M787.3,450.5h0M787.4,446.8h0M787.6,443.6h0M787.7,444.7h0M787.8,440.3h0M787.9,440.7h0M788.1,438.3h0M788.2,440.4h0M788.3,447.5h0M788.4,438.6h0M788.6,439h0M788.7,443.5h0M788.8,441.1h0M788.9,448.1h0M789.1,450.2h0M789.2,446.9h0M789.3,445.8h0M789.4,449.2h0M789.6,449.9h0M789.7,450.2h0M789.8,448.6h0M789.9,450.5h0M790.1,449.8h0M790.2,449.9h0M790.3,449.6h0M790.4,448.3h0M790.6,450.2h0M790.7,450.1h0M790.8,450.5h0M790.9,450.1h0M791.1,448.7h0M791.2,447.9h0M791.3,444.4h0M791.4,444.4h0M791.5,444.3h0M791.7,444.4h0M791.8,447.2h0M791.9,447.1h0M792,444.9h0M792.2,444.7h0M792.3,444.6h0M792.4,445.1h0M792.5,444.9h0M792.7,445.1h0M792.8,445.3h0M792.9,445.4h0M793,446.1h0M793.2,445.9h0M793.3,446.4h0M793.4,446.8h0M793.5,447.3h0M793.7,445.7h0M793.8,445.8h0M793.9,445.9h0M794,446.3h0M794.2,447h0M794.3,447.1h0M794.4,446.6h0M794.5,446.9h0M794.7,447.8h0M794.8,446.6h0M794.9,447.5h0M795,448.2h0M795.2,448.8h0M795.3,447.6h0M795.4,447.8h0M795.5,447h0M795.7,447.1h0M795.8,447.1h0M795.9,447.1h0M796,447.5h0M796.2,447.2h0M796.3,447.6h0M796.4,447.6h0M796.5,447.5h0M796.7,447.6h0M796.8,448.1h0M796.9,447.6h0M797,447.7h0M797.2,448.3h0M797.3,449.5h0M797.4,448.1h0M797.5,448.9h0M797.7,449.2h0M797.8,448.4h0M797.9,448.1h0M798,448h0M798.2,448.1h0M798.3,449.7h0M798.4,449.1h0M798.5,448.5h0M798.7,449.3h0M798.8,449.4h0M798.9,449.4h0M799,449.2h0M799.2,448.6h0M799.3,448.3h0M799.4,448.3h0M799.5,448.1h0M799.7,449.2h0M799.8,448.8h0M799.9,449h0M800,449.8h0M800.2,449.7h0M800.3,450.1h0M800.4,450.2h0M800.5,449.9h0M800.7,450h0M800.8,450h0M800.9,450h0M801,449.7h0M801.2,449.9h0M801.3,449.8h0M801.4,449.8h0M801.5,448.4h0M801.7,448.9h0M801.8,449.6h0M801.9,449.3h0M802,449.3h0M802.2,449.3h0M802.3,449.4h0M802.4,449.2h0M802.5,449.4h0M802.7,449h0M802.8,448h0M802.9,449.2h0M803,448.8h0M803.2,449.1h0M803.3,447.6h0M803.4,447h0M803.5,445h0M803.7,444.4h0M803.8,444.7h0M803.9,448.1h0M804,447.9h0M804.2,447.3h0M804.3,445.1h0M804.4,447.2h0M804.5,445.8h0M804.7,445.4h0M804.8,446.4h0M804.9,446.8h0M805,447.3h0M805.2,446.3h0M805.3,446.1h0M805.4,445.5h0M805.5,446.6h0M805.7,446.2h0M805.8,447.2h0M805.9,446.1h0M806,446h0M806.2,446.4h0M806.3,447.2h0M806.4,448.7h0M806.5,450.9h0M806.7,450.8h0M806.8,450.5h0M806.9,451h0M807,451.2h0M807.1,450.5h0M807.3,451h0M807.4,449.9h0M807.5,449.3h0M807.6,451h0M807.8,449.8h0M807.9,451.5h0M808,451.6h0M808.1,450.4h0M808.3,451.4h0M808.4,449h0M808.5,449.9h0M808.6,450.2h0M808.8,449.4h0M808.9,448.6h0M809,449.5h0M809.1,450.4h0M809.3,450.6h0M809.4,451.6h0M809.5,451.7h0M809.6,451h0M809.8,451.7h0M809.9,451.7h0M810,452h0M810.1,451.8h0M810.3,451.3h0M810.4,449.9h0M810.5,449.7h0M810.6,450.4h0M810.8,450.3h0M810.9,451.2h0M811,450.4h0M811.1,450.9h0M811.3,449.6h0M811.4,451.3h0M811.5,449.8h0M811.6,450h0M811.8,451.5h0M811.9,451.8h0M812,450.5h0M812.1,450.5h0M812.3,452.3h0M812.4,452h0M812.5,450.5h0M812.6,449.1h0M812.8,448.6h0M812.9,446.5h0M813,446.7h0M813.1,447.5h0M813.3,447.3h0M813.4,446.6h0M813.5,446.1h0M813.6,446.6h0M813.8,446.3h0M813.9,446.3h0M814,446.3h0M814.1,445.9h0M814.3,445.7h0M814.4,445.9h0M814.5,446h0M814.6,445.9h0M814.8,446.5h0M814.9,445.7h0M815,445.4h0M815.1,446.4h0M815.3,445.3h0M815.4,445.5h0M815.5,445.4h0M815.6,445.3h0M815.8,445.3h0M815.9,445.6h0M816,445.5h0M816.1,445.2h0M816.3,445.3h0M816.4,445.6h0M816.5,445h0M816.6,445.1h0M816.8,444.8h0M816.9,446.1h0M817,447.3h0M817.1,446.8h0M817.3,447.1h0M817.4,446.1h0M817.5,445.5h0M817.6,449.5h0M817.8,451.1h0M817.9,450.8h0M818,449.7h0M818.1,450.5h0M818.3,447.5h0M818.4,448.7h0M818.5,450.6h0M818.6,449.1h0M818.8,447.6h0M818.9,449.7h0M819,447.3h0M819.1,449.4h0M819.3,450.9h0M819.4,449.1h0M819.5,449.8h0M819.6,448h0M819.8,447.2h0M819.9,448.9h0M820,446.5h0M820.1,446.6h0M820.3,446.6h0M820.4,446.8h0M820.5,446.8h0M820.6,448.1h0M820.8,448.4h0M820.9,446.9h0M821,447h0M821.1,447.3h0M821.3,447.1h0M821.4,447.3h0M821.5,449.4h0M821.6,449.2h0M821.8,449.9h0M821.9,449.8h0M822,450h0M822.1,450.2h0M822.3,450.4h0M822.4,450.5h0M822.5,450.5h0M822.6,451.3h0M822.7,450.7h0M822.9,451.7h0M823,448h0M823.1,449.2h0M823.2,449.8h0M823.4,448.9h0M823.5,449.2h0M823.6,449h0M823.7,451.4h0M823.9,449.7h0M824,449.3h0M824.1,447.3h0M824.2,447.7h0M824.4,447.5h0M824.5,447.6h0M824.6,447.5h0M824.7,447.5h0M824.9,447.8h0M825,448.7h0M825.1,447.9h0M825.2,448.7h0M825.4,448.4h0M825.5,450.5h0M825.6,452h0M825.7,451.8h0M825.9,451.3h0M826,451.5h0M826.1,451.8h0M826.2,452.3h0M826.4,451.1h0M826.5,451h0M826.6,452.3h0M826.7,452.3h0M826.9,452.2h0M827,452.2h0M827.1,452.4h0M827.2,452h0M827.4,452.1h0M827.5,450.7h0M827.6,448.6h0M827.7,449h0M827.9,450.2h0M828,452.5h0M828.1,452.1h0M828.2,452.4h0M828.4,452.2h0M828.5,452.6h0M828.6,452.5h0M828.7,449.9h0M828.9,450.7h0M829,451h0M829.1,450.3h0M829.2,450.5h0M829.4,452.3h0M829.5,451.9h0M829.6,452.2h0M829.7,449.6h0M829.9,449.3h0M830,448.4h0M830.1,448.7h0M830.2,448.5h0M830.4,448.7h0M830.5,449h0M830.6,448.8h0M830.7,448.5h0M830.9,448.7h0M831,448.5h0M831.1,448.5h0M831.2,448.9h0M831.4,449.3h0M831.5,449.9h0M831.6,452.5h0M831.7,451.8h0M831.9,451h0M832,450.6h0M832.1,452.8h0M832.2,452.8h0M832.4,452.4h0M832.5,451h0M832.6,452.4h0M832.7,452.3h0M832.9,450.7h0M833,452.1h0M833.1,452.5h0M833.2,451.6h0M833.4,451.2h0M833.5,451.7h0M833.6,451.1h0M833.7,449h0M833.9,448.6h0M834,448.2h0M834.1,448.4h0M834.2,448.9h0M834.4,448.5h0M834.5,448.4h0M834.6,449.8h0M834.7,449.7h0M834.9,448.4h0M835,451h0M835.1,448.9h0M835.2,450.1h0M835.4,447.9h0M835.5,448.1h0M835.6,447.9h0M835.7,447.6h0M835.9,446.4h0M836,445.5h0M836.1,445.3h0M836.2,448h0M836.4,447.9h0M836.5,446.8h0M836.6,447h0M836.7,444.9h0M836.9,447.2h0M837,446.1h0M837.1,444.1h0M837.2,443.2h0M837.4,443h0M837.5,443.7h0M837.6,444.3h0M837.7,444.3h0M837.9,444.5h0M838,443.8h0M838.1,445.1h0M838.2,443.6h0M838.3,443.6h0M838.5,440h0M838.6,442.7h0M838.7,442.6h0M838.8,441.4h0M839,440.6h0M839.1,441.5h0M839.2,443h0M839.3,443.6h0M839.5,444.2h0M839.6,444.6h0M839.7,441.1h0M839.8,443.6h0M840,439.3h0M840.1,431.5h0M840.2,431.8h0M840.3,433.4h0M840.5,430.4h0M840.6,429.4h0M840.7,429.1h0M840.8,428.5h0M841,430.8h0M841.1,436.1h0M841.2,432.5h0M841.3,433.8h0M841.5,442.1h0M841.6,441h0M841.7,439.8h0M841.8,437.9h0M842,431.7h0M842.1,427h0M842.2,432.7h0M842.3,427.1h0M842.5,437.6h0M842.6,429.9h0M842.7,433.2h0M842.8,432.6h0M843,427.2h0M843.1,422.7h0M843.2,426.8h0M843.3,431.9h0M843.5,429.3h0M843.6,416.3h0M843.7,418.9h0M843.8,417.2h0M844,417.5h0M844.1,410.4h0M844.2,411.9h0M844.3,414.6h0M844.5,411.9h0M844.6,411.1h0M844.7,410.9h0M844.8,410.9h0M845,411.1h0M845.1,412.1h0M845.2,411.9h0M845.3,411.8h0M845.5,412.1h0M845.6,412.1h0M845.7,416.1h0M845.8,414.3h0M846,417h0M846.1,412.6h0M846.2,412.7h0M846.3,412.7h0M846.5,414.6h0M846.6,417.6h0M846.7,414.7h0M846.8,414.8h0M847,412.5h0M847.1,416.6h0M847.2,416.5h0M847.3,413h0M847.5,407.7h0M847.6,408.2h0M847.7,407h0M847.8,406h0M848,406.6h0M848.1,405.9h0M848.2,404.9h0M848.3,406.7h0M848.5,403.8h0M848.6,403.6h0M848.7,402.8h0M848.8,403.8h0M849,407.6h0M849.1,407.9h0M849.2,408h0M849.3,401.2h0M849.5,399.3h0M849.6,402.5h0M849.7,409.8h0M849.8,409.5h0M850,411.8h0M850.1,408.2h0M850.2,408.1h0M850.3,409h0M850.5,409.6h0M850.6,409.1h0M850.7,411.8h0M850.8,412.3h0M851,411.8h0M851.1,406.6h0M851.2,411.8h0M851.3,415.3h0M851.5,412.6h0M851.6,410.4h0M851.7,414.9h0M851.8,412.3h0M852,414.6h0M852.1,414.6h0M852.2,415h0M852.3,413.3h0M852.5,414.1h0M852.6,410.5h0M852.7,413.8h0M852.8,414.7h0M853,415.3h0M853.1,414.6h0M853.2,415h0M853.3,414.1h0M853.5,407.2h0M853.6,405.6h0M853.7,410.1h0M853.8,414.2h0M853.9,414.8h0M854.1,414h0M854.2,412.6h0M854.3,412.4h0M854.4,403.9h0M854.6,411.5h0M854.7,410.6h0M854.8,410.5h0M854.9,409.1h0M855.1,402.8h0M855.2,405.9h0M855.3,405.2h0M855.4,403.4h0M855.6,403.1h0M855.7,399.1h0M855.8,399.7h0M855.9,406.3h0M856.1,405.9h0M856.2,407.1h0M856.3,406.2h0M856.4,411.9h0M856.6,412.9h0M856.7,411.4h0M856.8,413.2h0M856.9,406.6h0M857.1,408.5h0M857.2,408.8h0M857.3,412.4h0M857.4,410.1h0M857.6,409.8h0M857.7,413.8h0M857.8,412.5h0M857.9,412.9h0M858.1,411.3h0M858.2,411.2h0M858.3,407.2h0M858.4,408.6h0M858.6,400.5h0M858.7,392.8h0M858.8,398.3h0M858.9,392.5h0M859.1,391.7h0M859.2,391.3h0M859.3,387.8h0M859.4,385.6h0M859.6,382.1h0M859.7,384.9h0M859.8,379.3h0M859.9,380.9h0M860.1,376.3h0M860.2,376.2h0M860.3,375.7h0M860.4,375.4h0M860.6,376.3h0M860.7,375.9h0M860.8,375.6h0M860.9,377.2h0M861.1,380.5h0M861.2,380.6h0M861.3,381.6h0M861.4,378.3h0M861.6,383.2h0M861.7,373.4h0M861.8,376.4h0M861.9,376.3h0M862.1,376.8h0M862.2,375h0M862.3,377.2h0M862.4,372.7h0M862.6,371.6h0M862.7,370.1h0M862.8,369.6h0M862.9,368.6h0M863.1,366.5h0M863.2,367.3h0M863.3,365h0M863.4,363.9h0M863.6,361.5h0M863.7,360.1h0M863.8,359h0M863.9,357.5h0M864.1,356.4h0M864.2,353.5h0M864.3,359.2h0M864.4,365.5h0M864.6,354h0M864.7,367.4h0M864.8,365.3h0M864.9,376.7h0M865.1,369.6h0M865.2,380.9h0M865.3,366.2h0M865.4,359.8h0M865.6,358.7h0M865.7,363.3h0M865.8,350.3h0M865.9,352.8h0M866.1,348.9h0M866.2,365.5h0M866.3,370.1h0M866.4,357.5h0M866.6,369.3h0M866.7,373.5h0M866.8,374.3h0M866.9,373h0M867.1,371.3h0M867.2,369.3h0M867.3,370.1h0M867.4,367.2h0M867.6,366.7h0M867.7,366.2h0M867.8,364.4h0M867.9,366h0M868.1,362.3h0M868.2,356.7h0M868.3,348h0M868.4,335.4h0M868.6,344.7h0M868.7,352.1h0M868.8,354.3h0M868.9,348.7h0M869.1,345.4h0M869.2,341h0M869.3,337.9h0M869.4,338.9h0M869.5,336.7h0M869.7,344.2h0M869.8,340.4h0M869.9,338.3h0M870,339.6h0M870.2,338.7h0M870.3,343.3h0M870.4,345.2h0M870.5,340.6h0M870.7,341.9h0M870.8,345.4h0M870.9,335.1h0M871,339.4h0M871.2,339.7h0M871.3,341.9h0M871.4,339h0M871.5,339.8h0M871.7,341.1h0M871.8,341.8h0M871.9,338.1h0M872,336h0M872.2,336.3h0M872.3,337.4h0M872.4,341.2h0M872.5,343.2h0M872.7,344.8h0M872.8,344.7h0M872.9,351.7h0M873,353h0M873.2,352.7h0M873.3,358.2h0M873.4,358.6h0M873.5,358h0M873.7,357.7h0M873.8,360.7h0M873.9,358.3h0M874,360.1h0M874.2,356.6h0M874.3,357.7h0M874.4,357h0M874.5,359.2h0M874.7,358.7h0M874.8,354.1h0M874.9,356.7h0M875,354.1h0M875.2,356.7h0M875.3,353.8h0M875.4,354.2h0M875.5,358.3h0M875.7,354.6h0M875.8,361.7h0M875.9,360.9h0M876,365.1h0M876.2,365.7h0M876.3,365.6h0M876.4,360h0M876.5,358h0M876.7,359.2h0M876.8,361.2h0M876.9,362.3h0M877,360.6h0M877.2,360.9h0M877.3,356.3h0M877.4,357.1h0M877.5,362.5h0M877.7,362.5h0M877.8,360.2h0M877.9,360.4h0M878,362.7h0M878.2,361.9h0M878.3,362.3h0M878.4,363.3h0M878.5,363.3h0M878.7,362.3h0M878.8,362.3h0M878.9,360.8h0M879,354h0M879.2,356.5h0M879.3,359.2h0M879.4,355h0M879.5,354.6h0M879.7,355h0M879.8,352.4h0M879.9,352.7h0M880,360.9h0M880.2,354.9h0M880.3,353.4h0M880.4,351.9h0M880.5,347.5h0M880.7,342.5h0M880.8,336.7h0M880.9,334h0M881,331.5h0M881.2,324.9h0M881.3,325h0M881.4,324.7h0M881.5,329.5h0M881.7,334.7h0M881.8,334.3h0M881.9,335.7h0M882,328.5h0M882.2,327.4h0M882.3,325.2h0M882.4,331.4h0M882.5,331.5h0M882.7,330.2h0M882.8,329.2h0M882.9,327.9h0M883,324.3h0M883.2,328.2h0M883.3,328h0M883.4,329.3h0M883.5,328h0M883.7,325.4h0M883.8,318.2h0M883.9,315.5h0M884,318.8h0M884.2,318.7h0M884.3,316.9h0M884.4,313h0M884.5,312.6h0M884.7,313.4h0M884.8,317.4h0M884.9,317.3h0M885,315.8h0M885.1,310.5h0M885.3,310.9h0M885.4,311h0M885.5,310.2h0M885.6,310.2h0M885.8,309.4h0M885.9,309.6h0M886,309.8h0M886.1,310.1h0M886.3,309.8h0M886.4,309.3h0M886.5,310.9h0M886.6,309.8h0M886.8,309.7h0M886.9,310.6h0M887,316.2h0M887.1,315.3h0M887.3,311.9h0M887.4,311.8h0M887.5,311.7h0M887.6,310.7h0M887.8,313.6h0M887.9,311.3h0M888,310.9h0M888.1,310.8h0M888.3,312.1h0M888.4,312.2h0M888.5,311.2h0M888.6,312h0M888.8,310.9h0M888.9,311.6h0M889,313.9h0M889.1,313.4h0M889.3,320.1h0M889.4,322.6h0M889.5,323.9h0M889.6,325.7h0M889.8,331.1h0M889.9,331.8h0M890,319.3h0M890.1,328.7h0M890.3,321.3h0M890.4,324.3h0M890.5,323.5h0M890.6,319.9h0M890.8,324.7h0M890.9,327.1h0M891,323.6h0M891.1,332h0M891.3,331.6h0M891.4,329.1h0M891.5,330.9h0M891.6,333.6h0M891.8,334.3h0M891.9,334h0M892,336.6h0M892.1,336.1h0M892.3,336.9h0M892.4,336.4h0M892.5,336.4h0M892.6,335.8h0M892.8,337.5h0M892.9,338.1h0M893,336.9h0M893.1,337h0M893.3,337.3h0M893.4,339.4h0M893.5,338.8h0M893.6,338.6h0M893.8,339.3h0M893.9,339.9h0M894,341.3h0M894.1,338h0M894.3,329.1h0M894.4,327.8h0M894.5,331.6h0M894.6,333.4h0M894.8,338.5h0M894.9,342.3h0M895,336h0M895.1,323.4h0M895.3,327h0M895.4,325.8h0M895.5,340.3h0M895.6,346.2h0M895.8,345.6h0M895.9,342.3h0M896,340.1h0M896.1,339h0M896.3,344.7h0M896.4,338.4h0M896.5,323.6h0M896.6,337h0M896.8,325.2h0M896.9,315.1h0M897,311h0M897.1,311.5h0M897.3,321.9h0M897.4,327.1h0M897.5,327.7h0M897.6,316.2h0M897.8,315.4h0M897.9,319.6h0M898,330.2h0M898.1,341.4h0M898.3,337h0M898.4,325.8h0M898.5,333.9h0M898.6,340.1h0M898.8,336h0M898.9,335h0M899,329.6h0M899.1,336.1h0M899.3,333h0M899.4,336.8h0M899.5,335.6h0M899.6,337.1h0M899.8,334h0M899.9,327.7h0M900,330.6h0M900.1,330.6h0M900.3,333h0M900.4,327.6h0M900.5,314.7h0M900.6,308.5h0M900.7,318.6h0M900.9,315.1h0M901,321.2h0M901.1,320h0M901.2,320.5h0M901.4,321.2h0M901.5,324.2h0M901.6,324.2h0M901.7,318.5h0M901.9,322.2h0M902,320.9h0M902.1,312h0M902.2,303.9h0M902.4,303.5h0M902.5,308.1h0M902.6,322.3h0M902.7,315.5h0M902.9,316.5h0M903,312.3h0M903.1,304.7h0M903.2,310.2h0M903.4,303.3h0M903.5,296.2h0M903.6,291.8h0M903.7,283.6h0M903.9,281.3h0M904,280.4h0M904.1,280.9h0M904.2,280.7h0M904.4,282.6h0M904.5,284.8h0M904.6,279.5h0M904.7,281h0M904.9,278.9h0M905,277.9h0M905.1,276.9h0M905.2,280.2h0M905.4,282.6h0M905.5,290.6h0M905.6,287.5h0M905.7,292.9h0M905.9,286.6h0M906,291.7h0M906.1,288.8h0M906.2,289.9h0M906.4,291.2h0M906.5,285.5h0M906.6,283.2h0M906.7,280.8h0M906.9,270.9h0M907,261.9h0M907.1,254.1h0M907.2,261.8h0M907.4,286.2h0M907.5,280.9h0M907.6,269.9h0M907.7,255.3h0M907.9,242.9h0M908,242.7h0M908.1,243.2h0M908.2,239.3h0M908.4,242.5h0M908.5,238.2h0M908.6,241.8h0M908.7,238.9h0M908.9,250.9h0M909,258.2h0M909.1,256.4h0M909.2,254.6h0M909.4,237h0M909.5,236.4h0M909.6,237.5h0M909.7,243.8h0M909.9,252.7h0M910,265.9h0M910.1,263.5h0M910.2,240h0M910.4,242.6h0M910.5,250.1h0M910.6,240.9h0M910.7,243.3h0M910.9,244.5h0M911,253.5h0M911.1,240.2h0M911.2,262.7h0M911.4,259.9h0M911.5,262.5h0M911.6,249.5h0M911.7,249h0M911.9,248.1h0M912,244.6h0M912.1,235.8h0M912.2,238.2h0M912.4,235.4h0M912.5,237h0M912.6,239h0M912.7,255.1h0M912.9,243.6h0M913,252.7h0M913.1,255.2h0M913.2,271.3h0M913.4,272.2h0M913.5,269.9h0M913.6,262.4h0M913.7,272.2h0M913.9,263.4h0M914,263h0M914.1,273h0M914.2,272.6h0M914.4,273.1h0M914.5,273h0M914.6,276.6h0M914.7,272.9h0M914.9,270.7h0M915,278.1h0M915.1,275.8h0M915.2,278.4h0M915.4,281.9h0M915.5,295.9h0M915.6,309h0M915.7,317.8h0M915.9,317h0M916,317.9h0M916.1,317.1h0M916.2,317.4h0M916.3,316.7h0M916.5,315.7h0M916.6,315.1h0M916.7,314.5h0M916.8,314.8h0M917,314.7h0M917.1,313.7h0M917.2,314.2h0M917.3,314h0M917.5,311h0M917.6,300.3h0M917.7,308.2h0M917.8,310.8h0M918,310.9h0M918.1,309.5h0M918.2,303.5h0M918.3,304.4h0M918.5,310.7h0M918.6,310.8h0M918.7,311.7h0M918.8,310.4h0M919,306.1h0M919.1,310.5h0M919.2,306.1h0M919.3,308.6h0M919.5,303.9h0M919.6,306.5h0M919.7,308.7h0M919.8,310.4h0M920,310.3h0M920.1,309.5h0M920.2,306.7h0M920.3,308.7h0M920.5,309h0M920.6,305h0M920.7,304.3h0M920.8,304.3h0M921,300.7h0M921.1,302.2h0M921.2,301.5h0M921.3,306.7h0M921.5,308h0M921.6,307.6h0M921.7,306.6h0M921.8,306h0M922,305.4h0M922.1,305.7h0M922.2,299.7h0M922.3,303h0M922.5,300.4h0M922.6,296.9h0M922.7,299.2h0M922.8,299.4h0M923,296.1h0M923.1,295.1h0M923.2,295.1h0M923.3,290.3h0M923.5,273.4h0M923.6,257h0M923.7,241.4h0M923.8,241.1h0M924,239.8h0M924.1,241.5h0M924.2,242.4h0M924.3,240.1h0M924.5,243.5h0M924.6,247.3h0M924.7,239h0M924.8,242h0M925,243.2h0M925.1,242.3h0M925.2,237h0M925.3,233.8h0M925.5,243.7h0M925.6,251.4h0M925.7,252.6h0M925.8,250.4h0M926,244.1h0M926.1,247h0M926.2,245h0M926.3,250.5h0M926.5,251.6h0M926.6,247.6h0M926.7,251.3h0M926.8,251.6h0M927,249.3h0M927.1,247.2h0M927.2,250.2h0M927.3,246.3h0M927.5,248.2h0M927.6,247.2h0M927.7,252h0M927.8,251.1h0M928,250.9h0M928.1,249.6h0M928.2,250.7h0M928.3,250h0M928.5,250.4h0M928.6,249.9h0M928.7,241.6h0M928.8,240.5h0M929,226.1h0M929.1,224.7h0M929.2,229.1h0M929.3,240.3h0M929.5,230.9h0M929.6,232.3h0M929.7,229.2h0M929.8,226.8h0M930,236.7h0M930.1,235.2h0M930.2,240.4h0M930.3,245.3h0M930.5,248h0M930.6,250.5h0M930.7,241.7h0M930.8,242h0M931,234.6h0M931.1,246.4h0M931.2,234.7h0M931.3,238.7h0M931.5,223.6h0M931.6,231.2h0M931.7,236.1h0M931.8,236.4h0M931.9,217h0M932.1,218.9h0M932.2,225.5h0M932.3,231.6h0M932.4,231.5h0M932.6,246.9h0M932.7,245.2h0M932.8,234.9h0M932.9,235.9h0M933.1,232.4h0M933.2,235.3h0M933.3,239.6h0M933.4,243.6h0M933.6,226.9h0M933.7,240.1h0M933.8,230h0M933.9,230h0M934.1,230.9h0M934.2,237.7h0M934.3,232.1h0M934.4,229.6h0M934.6,224.7h0M934.7,222.7h0M934.8,223.2h0M934.9,220.3h0M935.1,219.6h0M935.2,222.9h0M935.3,216.1h0M935.4,211.7h0M935.6,213.5h0M935.7,216.6h0M935.8,216.6h0M935.9,218.6h0M936.1,218.6h0M936.2,213.9h0M936.3,211.4h0M936.4,212.3h0M936.6,215.4h0M936.7,211.4h0M936.8,212h0M936.9,211.3h0M937.1,212.5h0M937.2,214.2h0M937.3,216h0M937.4,211.6h0M937.6,212.7h0M937.7,212h0M937.8,213.6h0M937.9,211.5h0M938.1,210.4h0M938.2,215.6h0M128.4,285.3h0M151.3,328h0M255.6,314.4h0M255.5,330.4h0M255.5,338.4h0M255.6,345.6h0M337.3,222.8h0M337.3,231.3h0M337.5,226h0M368,296h0M374,295h0M368,304h0M368,310h0M368,316h0M374,306h0M379,302h0M404.4,285.3h0M398,345h0M895.3,365.6h0M895.6,348h0M916.4,326.4h0M916.4,342.7h0M915.2,281.2h0M923.5,261h0M934.5,256h0M930.5,205.2h0M308.5,39.2h0M309,44.5h0M308.8,49.5h0M309.2,51.5h0M309.5,54h0M309.2,56.5h0M310.2,61.2h0M309.3,64.5h0M309.5,72.3h0M304.5,78.2h0M310.5,77h0M310.5,81h0M304.5,85h0M310.5,85h0M317.8,87.5h0M304.5,89h0M310.5,89h0M301.2,107.2h0M301.2,120h0M301.8,125.5h0M302,135h0M302.2,134h0M302.5,139.5h0M302.2,147h0M302.2,162.2h0M302.5,174h0M302.2,184h0M301.5,201.5h0M301,220.5h0M301,237h0M303,183.5h0M314,168h0M314,173h0M321,180h0M323,189h0M323.5,189.2h0M344,187.5h0M384.5,236h0M359.7,214h0M299.2,252.5h0M298.7,257.5h0M298.3,263.3h0M298,270h0M297,280h0M296.7,285.8h0M295,290h0M297,294h0M294.7,297.5h0M296.3,301.7h0M294.7,307.5h0M294.2,318.3h0M293.3,321.7h0M293.3,331.3h0M292.5,337.5h0M293.3,340.8h0M286.7,346.7h0M292.5,345.8h0M628,425h0M788.5,436h0M749.6,427h0M858.6,415h0" fill="none" stroke="#000" stroke-width="5.56" stroke-linecap="round"/>
<path d="M120.4,294.5 120.7,295 121.1,295.4 121.4,295.9 121.8,296.3 122.1,296.9 122.5,297.3 122.8,297.8 123.2,298.1 123.5,298.5 123.8,299 124.2,299.5 124.5,300.1 124.9,300.3 125.2,301.1 125.6,301.3 125.9,301.2 126.3,300.9 126.6,300.3 126.9,299.8 127.3,299.4 127.6,298.7 128,299 128.3,299 128.7,298.8 129,299 129.4,299 129.7,299 130,299 130.4,299.5 130.7,299.8 131.1,300.3 131.4,300.7 131.8,301.3 132.1,301.5 132.5,302.2 132.8,302.5 133.1,303.2 133.5,302.6 133.8,302.3 134.2,301.8 134.5,301.5 134.9,301.1 135.2,300.7 135.6,300.5 135.9,299.9 136.2,299.5 136.6,299.1 136.9,299.3 137.3,299.7 137.6,300.3 138,300.9 138.3,301.2 138.7,301.8 139,302.2 139.3,302.8 139.7,303 140,303.2 140.4,303.2 140.7,303.4 141.1,303.3 141.4,303.3 141.8,303 142.1,302.1 142.4,301.4 142.8,300.8 143.1,300.2 143.5,299.6 143.8,298.7 144.2,298 144.5,298.1 144.9,297.9 145.2,297.8 145.5,298 145.9,297.9 146.2,297.6 146.6,297.6 146.9,297.6 147.3,297.4 147.6,297.7 148,297 148.3,297.4 148.6,297.4 149,297.4 149.3,297.7 149.7,297.8 150,298 150.4,298.1 150.7,298.6 151.1,298.6 151.4,299.4 151.7,300.6 152.1,301.5 152.4,302.7 152.8,303.6 153.1,304.5 153.5,305.8 153.8,306.8 154.2,307.8 154.5,308.7 154.8,309.6 155.2,310.9 155.5,312.1 155.9,312.8 156.2,314 156.6,315 156.9,315.8 157.3,316.6 157.6,316.7 157.9,316.7 158.3,316.8 158.6,316.7 159,317 159.3,317.3 159.7,317.9 160,318.6 160.4,319.2 160.7,320 161,320.5 161.4,320.9 161.7,321.6 162.1,322.7 162.4,323.7 162.8,324.8 163.1,325.7 163.5,326.5 163.8,328 164.1,328.8 164.5,330.1 164.8,330.4 165.2,330.6 165.5,330.8 165.9,330.8 166.2,331 166.5,331.1 166.9,331.4 167.2,331.8 167.6,331.7 167.9,332 168.3,332.6 168.6,333.6 169,334.6 169.3,335.8 169.6,336.7 170,337.6 170.3,338.5 170.7,339.9 171,340.9 171.4,341.5 171.7,342.1 172.1,342.9 172.4,343.3 172.7,343.8 173.1,344.6 173.4,344.3 173.8,344.2 174.1,344 174.5,343.8 174.8,343.5 175.2,343.4 175.5,343.2 175.8,343.8 176.2,344.1 176.5,344.7 176.9,345.2 177.2,345.7 177.6,346.1 177.9,346.6 178.3,347.4 178.6,347.9 178.9,348.3 179.3,348.8 179.6,348.7 180,348.9 180.3,349.2 180.7,349.2 181,349.5 181.4,349.6 181.7,349.7 182,349.9 182.4,350.1 182.7,350.8 183.1,351.6 183.4,352.6 183.8,353.9 184.1,354.8 184.5,355.8 184.8,357 185.1,358 185.5,358.8 185.8,360 186.2,361.1 186.5,362.2 186.9,363.2 187.2,364.2 187.6,365.1 187.9,366 188.2,367.3 188.6,368.2 188.9,368 189.3,368.3 189.6,368.4 190,368.5 190.3,368.5 190.7,368.9 191,369.6 191.3,370.2 191.7,370.5 192,371.5 192.4,371.9 192.7,372.3 193.1,372.9 193.4,373.8 193.8,375 194.1,376 194.4,377.1 194.8,378 195.1,379 195.5,380.2 195.8,381 196.2,381.9 196.5,382.2 196.9,382.5 197.2,382.5 197.5,382.5 197.9,382.8 198.2,382.7 198.6,382.6 198.9,382.5 199.3,382.2 199.6,382.3 200,382.7 200.3,383.8 200.6,384.2 201,384.9 201.3,385.6 201.7,386.5 202,387.2 202.4,387.7 202.7,388.5 203.1,388.6 203.4,388.8 203.7,389.3 204.1,389.1 204.4,389.2 204.8,389.1 205.1,388.1 205.5,387.8 205.8,387 206.2,386.4 206.5,385.5 206.8,384.8 207.2,384.6 207.5,384.4 207.9,384.4 208.2,384.5 208.6,384.3 208.9,384.5 209.3,384.7 209.6,384.4 209.9,384.4 210.3,384.5 210.6,384.5 211,384.1 211.3,383.6 211.7,383.4 212,383.1 212.4,382.5 212.7,382.2 213,382 213.4,381.7 213.7,381.3 214.1,381.1 214.4,381.6 214.8,382.2 215.1,382.7 215.5,383.2 215.8,383.8 216.1,384.3 216.5,384.8 216.8,385.2 217.2,385.9 217.5,386.4 217.9,386.9 218.2,387.5 218.6,387.7 218.9,388.4 219.2,389 219.6,389.3 219.9,390.1 220.3,389.8 220.6,389.5 221,388.9 221.3,388.4 221.7,388.1 222,387.7 222.3,387.7 222.7,387.8 223,387.9 223.4,387.9 223.7,387.8 224.1,388 224.4,387.9 224.8,388.4 225.1,388.8 225.4,389.7 225.8,390 226.1,390.7 226.5,391.1 226.8,391.7 227.2,392.3 227.5,392.7 227.9,392.3 228.2,392.1 228.5,391.6 228.9,391.3 229.2,391 229.6,390.5 229.9,390.3 230.3,390.1 230.6,389.5 231,389.2 231.3,389.8 231.6,390.2 232,390.8 232.3,391.3 232.7,391.6 233,392.2 233.4,392.8 233.7,393.3 234.1,393.9 234.4,393.8 234.7,394.2 235.1,394 235.4,394.3 235.8,394.1 236.1,394.1 236.5,393.1 236.8,392.7 237.2,391.9 237.5,391.4 237.8,390.7 238.2,389.9 238.5,389.4 238.9,389.2 239.2,389.3 239.6,389.1 239.9,389.3 240.3,389.4 240.6,389.4 240.9,389.3 241.3,389.5 241.6,389.4 242,389.5 242.3,389.1 242.7,388.4 243,388.3 243.4,388 243.7,387.4 244,387.2 244.4,386.8 244.7,386.3 245.1,386.3 245.4,386.1 245.8,386.1 246.1,386.7 246.5,387.4 246.8,387.9 247.1,388.4 247.5,388.9 247.8,389.4 248.2,389.8 248.5,390.7 248.9,391.2 249.2,391.4 249.6,392 249.9,392.5 250.2,393 250.6,393.5 250.9,394.4 251.3,394.6 251.6,394.8 252,394.2 252.3,393.9 252.6,393.6 253,393 253.3,392.7 253.7,392.4 254,392.6 254.4,392.8 254.7,392.8 255.1,392.7 255.4,392.7 255.7,392.9 256.1,393.1 256.4,393.7 256.8,394.2 257.1,394.6 257.5,395.1 257.8,395.7 258.2,396.4 258.5,396.9 258.8,397.4 259.2,397.4 259.5,396.9 259.9,396.4 260.2,396.2 260.6,395.7 260.9,395.6 261.3,395 261.6,394.8 261.9,394.5 262.3,394.2 262.6,394.3 263,395.1 263.3,395.3 263.7,396 264,396.3 264.4,396.8 264.7,397.4 265,397.8 265.4,398.5 265.7,398.4 266.1,398.8 266.4,398.8 266.8,399 267.1,398.8 267.5,399.2 267.8,398.5 268.1,397.8 268.5,397 268.8,396.4 269.2,395.6 269.5,395.1 269.9,394 270.2,394.1 270.6,394.3 270.9,394.2 271.2,394.2 271.6,394.2 271.9,394.1 272.3,394 272.6,394.2 273,394.1 273.3,394.1 273.7,393.9 274,393.6 274.3,393.1 274.7,393 275,392.6 275.4,392.3 275.7,392.1 276.1,389.6 276.4,386.1 276.8,382.6 277.1,379.9 277.4,377.4 277.8,374.9 278.1,372.4 278.5,369.8 278.8,367.4 279.2,364.8 279.5,362.4 279.9,359.7 280.2,357.4 280.5,354.9 280.9,352.2 281.2,349.8 281.6,347.2 281.9,344.9 282.3,342.3 282.6,339.7 283,337.1 283.3,333.6 283.6,330.2 284,326.7 284.3,323.3 284.7,320 285,316.8 285.4,313.7 285.7,310.8 286.1,307.4 286.4,304.8 286.7,301.8 287.1,298.9 287.4,295.9 287.8,293.1 288.1,290.7 288.5,288.3 288.8,285.9 289.2,283.2 289.5,280.8 289.8,278.5 290.2,275.9 290.5,273 290.9,269.7 291.2,266.2 291.6,262.9 291.9,259.6 292.3,256.2 292.6,252.8 292.9,249.3 293.3,246.1 293.6,242.8 294,239.4 294.3,237 294.7,234.4 295,231.9 295.4,229.5 295.7,226.9 296,224.5 296.4,221.7 296.7,219.2 297.1,216.9 297.4,213.8 297.8,210.8 298.1,207.9 298.5,205.1 298.8,202 299.1,198.6 299.5,194.9 299.8,191.3 300.2,187.3 300.5,183.6 300.9,179.9 301.2,176.2 301.6,173 301.9,169.7 302.2,168.9 302.6,168.4 302.9,168.4 303.3,167.9 303.6,167.7 304,167.7 304.3,167.4 304.7,167.3 305,166.9 305.3,166.1 305.7,165.6 306,165.2 306.4,164.3 306.7,163.9 307.1,163.3 307.4,162.9 307.8,162.2 308.1,161.6 308.4,161.1 308.8,161.6 309.1,161.7 309.5,162.4 309.8,162.4 310.2,162.7 310.5,162.9 310.9,163.2 311.2,163.6 311.5,163.7 311.9,164.1 312.2,164.3 312.6,164.7 312.9,165 313.3,165.2 313.6,165.6 314,165.9 314.3,166 314.6,165.5 315,164.8 315.3,164.1 315.7,163.5 316,162.9 316.4,162.4 316.7,162 317.1,162 317.4,161.9 317.7,161.8 318.1,161.5 318.4,161.2 318.8,161.1 319.1,161.3 319.5,161.9 319.8,161.9 320.2,162.2 320.5,162.4 320.8,162.6 321.2,163.1 321.5,163.2 321.9,163.5 322.2,162.9 322.6,162.2 322.9,162 323.3,161.2 323.6,160.6 323.9,160.1 324.3,159.5 324.6,158.9 325,158.3 325.3,157.9 325.7,157.9 326,158.4 326.4,158.7 326.7,158.8 327,159 327.4,159.4 327.7,159.5 328.1,160 328.4,160.3 328.8,160.8 329.1,161.8 329.5,162.7 329.8,163.6 330.1,164.4 330.5,165 330.8,165.3 331.2,165.5 331.5,165.5 331.9,165.6 332.2,165.9 332.6,166.1 332.9,166.3 333.2,166.8 333.6,167.9 333.9,168.8 334.3,169.4 334.6,170.4 335,171.3 335.3,172 335.7,172.7 336,173.5 336.3,174.6 336.7,174.8 337,175.4 337.4,175.9 337.7,176.3 338.1,176.8 338.4,177.4 338.7,177.7 339.1,178.3 339.4,178.7 339.8,179.2 340.1,180.6 340.5,182 340.8,183.2 341.2,184.6 341.5,186.1 341.8,187.4 342.2,188.6 342.5,189.8 342.9,191.5 343.2,192.8 343.6,194.2 343.9,195.3 344.3,196.7 344.6,197.9 344.9,199.5 345.3,200.7 345.6,202.1 346,202.9 346.3,203.1 346.7,203.6 347,204.1 347.4,204.4 347.7,205.1 348,205.7 348.4,206.7 348.7,207.4 349.1,208.1 349.4,209.5 349.8,210.3 350.1,210.9 350.5,212 350.8,213.5 351.1,214.8 351.5,216.1 351.8,217.5 352.2,218.7 352.5,220.1 352.9,221.4 353.2,222.9 353.6,223.8 353.9,224 354.2,224.5 354.6,225.2 354.9,225.4 355.3,226 355.6,226.3 356,227 356.3,227.1 356.7,227.5 357,228.2 357.3,229.3 357.7,230.4 358,231.8 358.4,233 358.7,233.9 359.1,235.1 359.4,235.9 359.8,237.1 360.1,238.3 360.4,238.8 360.8,239.5 361.1,240.2 361.5,240.5 361.8,241 362.2,241.2 362.5,241.1 362.9,241.3 363.2,240.9 363.5,240.8 363.9,240.9 364.2,240.6 364.6,241.2 364.9,241.7 365.3,242.2 365.6,242.8 366,243.8 366.3,244.1 366.6,244.7 367,245.4 367.3,246 367.7,246.5 368,246.9 368.4,247.2 368.7,247.4 369.1,247.5 369.4,247.8 369.7,248.4 370.1,248.4 370.4,248.5 370.8,248.9 371.1,249.5 371.5,249.9 371.8,251.1 372.2,252 372.5,253.4 372.8,254.6 373.2,255.9 373.5,256.7 373.9,257.7 374.2,258.8 374.6,260 374.9,261.1 375.3,262.2 375.6,263.5 375.9,264.4 376.3,265.6 376.6,267.1 377,267.9 377.3,268.7 377.7,268.8 378,269.1 378.4,269.3 378.7,269.3 379,269.7 379.4,270.1 379.7,270.7 380.1,271.7 380.4,272.2 380.8,272.7 381.1,273.5 381.5,274.1 381.8,274.7 382.1,275.9 382.5,277.1 382.8,278.4 383.2,279.3 383.5,280.3 383.9,281.5 384.2,282.7 384.6,283.5 384.9,284.5 385.2,284.9 385.6,285 385.9,285.2 386.3,285.5 386.6,285.9 387,286.1 387.3,286.3 387.7,286.2 388,286.6 388.3,287.4 388.7,288.2 389,289.5 389.4,290.6 389.7,291.7 390.1,292.9 390.4,294 390.8,295 391.1,296.2 391.4,297 391.8,297.8 392.1,298.3 392.5,298.9 392.8,299.9 393.2,300.5 393.5,300.7 393.9,300.8 394.2,300.4 394.5,300.4 394.9,300.3 395.2,299.9 395.6,300 395.9,300.1 396.3,300.9 396.6,301.4 397,302 397.3,302.9 397.6,303.3 398,303.9 398.3,304.6 398.7,304.9 399,305.6 399.4,306.1 399.7,306.5 400.1,306.7 400.4,306.9 400.7,307.4 401.1,307.4 401.4,307.6 401.8,308.1 402.1,308.2 402.5,308.4 402.8,308.9 403.2,310.1 403.5,311.2 403.8,312.3 404.2,313.5 404.5,314.8 404.9,315.9 405.2,316.9 405.6,317.9 405.9,319 406.3,320.3 406.6,321.2 406.9,322.4 407.3,323.4 407.6,324.7 408,325.7 408.3,326.8 408.7,328.1 409,328.4 409.4,328.4 409.7,328.4 410,328.6 410.4,328.9 410.7,329.2 411.1,329.9 411.4,330.4 411.8,331 412.1,331.7 412.5,332.6 412.8,333.1 413.1,333.7 413.5,334.6 413.8,335.9 414.2,337.2 414.5,338.3 414.9,339.4 415.2,340.6 415.6,341.8 415.9,342.7 416.2,343.7 416.6,343.8 416.9,344.3 417.3,344.2 417.6,344.8 418,345 418.3,345.3 418.7,345.6 419,345.9 419.3,346.1 419.7,346.2 420,347.3 420.4,348.5 420.7,349.7 421.1,350.6 421.4,352 421.8,353.1 422.1,354 422.4,355 422.8,356.3 423.1,357.2 423.5,357.5 423.8,358.5 424.2,358.8 424.5,359.8 424.8,359.9 425.2,359.9 425.5,359.8 425.9,359.8 426.2,359.8 426.6,359.4 426.9,359.6 427.3,359.6 427.6,360 427.9,360.6 428.3,361.4 428.6,361.9 429,362.3 429.3,363.1 429.7,363.4 430,364.2 430.4,365 430.7,365.3 431,365.6 431.4,366 431.7,366.2 432.1,366.4 432.4,366.7 432.8,367.2 433.1,367.3 433.5,367.5 433.8,367.8 434.1,368.1 434.5,369.1 434.8,370.3 435.2,371.2 435.5,372.2 435.9,373.5 436.2,374.6 436.6,375.5 436.9,376.3 437.2,377.1 437.6,378 437.9,379.2 438.3,380.1 438.6,380.7 439,381.8 439.3,382.7 439.7,383.6 440,384.5 440.3,384.8 440.7,384.9 441,384.9 441.4,384.8 441.7,384.6 442.1,384.5 442.4,384.8 442.8,385.6 443.1,385.9 443.4,386.3 443.8,386.9 444.1,387.2 444.5,387.5 444.8,388.2 445.2,389.2 445.5,390 445.9,391.1 446.2,392 446.5,392.7 446.9,393.6 447.2,394.5 447.6,395.6 447.9,395.6 448.3,395.7 448.6,395.7 449,395.7 449.3,395.7 449.6,396 450,395.9 450.3,396 450.7,396 451,396.2 451.4,396.8 451.7,397.6 452.1,398.6 452.4,399.3 452.7,400.3 453.1,401 453.4,402 453.8,402.8 454.1,403.7 454.5,404.3 454.8,404.5 455.2,405.1 455.5,405.5 455.8,406 456.2,406.4 456.5,405.9 456.9,405.2 457.2,404.9 457.6,404.5 457.9,403.8 458.3,403.6 458.6,402.8 458.9,402.9 459.3,403 459.6,403.2 460,403.6 460.3,403.7 460.7,404 461,404.1 461.4,404.5 461.7,404.3 462,404.7 462.4,404.8 462.7,404.4 463.1,404.1 463.4,404.1 463.8,404 464.1,403.7 464.5,403.5 464.8,403.4 465.1,403.3 465.5,403.2 465.8,403.5 466.2,404.2 466.5,404.8 466.9,405.7 467.2,406.4 467.6,407.2 467.9,407.8 468.2,408.4 468.6,409.4 468.9,410 469.3,410.6 469.6,411.3 470,412.1 470.3,412.6 470.7,413.4 471,413.8 471.3,414.8 471.7,415.5 472,414.9 472.4,414.7 472.7,414.6 473.1,414.2 473.4,414.2 473.8,414.1 474.1,414.5 474.4,414.8 474.8,414.8 475.1,415 475.5,415.5 475.8,415.6 476.2,415.8 476.5,416.6 476.9,417.3 477.2,417.9 477.5,418.6 477.9,419.3 478.2,420.2 478.6,420.7 478.9,421.7 479.3,421.8 479.6,421.7 480,421.4 480.3,421.2 480.6,421.1 481,421 481.3,421.1 481.7,420.7 482,420.8 482.4,420.5 482.7,420.5 483.1,421.2 483.4,421.8 483.7,422.2 484.1,422.5 484.4,422.9 484.8,423.5 485.1,424 485.5,424.3 485.8,424.6 486.2,424.5 486.5,424.6 486.8,424.6 487.2,424.7 487.5,424.5 487.9,424 488.2,423.3 488.6,422.4 488.9,421.6 489.3,421.1 489.6,420.1 489.9,419.4 490.3,419.2 490.6,419.1 491,419 491.3,419 491.7,418.9 492,418.9 492.4,418.8 492.7,418.6 493,418.3 493.4,418.4 493.7,418.1 494.1,417.9 494.4,417.3 494.8,416.9 495.1,416.6 495.5,416 495.8,415.6 496.1,415.5 496.5,414.9 496.8,414.3 497.2,414.5 497.5,414.8 497.9,415.3 498.2,415.6 498.6,416.1 498.9,416.5 499.2,416.9 499.6,417.6 499.9,417.8 500.3,418.4 500.6,418.8 501,419.2 501.3,419.5 501.7,420.2 502,420.7 502.3,421.1 502.7,421.6 503,422.2 503.4,421.7 503.7,420.9 504.1,420.5 504.4,420.2 504.8,419.6 505.1,419.1 505.4,419.1 505.8,419.4 506.1,419 506.5,419.3 506.8,419.2 507.2,419.1 507.5,419 507.9,419.7 508.2,420.1 508.5,420.6 508.9,421 509.2,421.2 509.6,421.7 509.9,422 510.3,422.9 510.6,423.1 510.9,422.6 511.3,421.8 511.6,420.7 512,419.9 512.3,419 512.7,418.2 513,417.1 513.4,416.2 513.7,415.2 514,414.4 514.4,414 514.7,414.1 515.1,414.1 515.4,414.1 515.8,413.8 516.1,414 516.5,413.9 516.8,413.9 517.1,413.5 517.5,413 517.8,412.6 518.2,412 518.5,411.6 518.9,411.1 519.2,410.2 519.6,408.9 519.9,407.6 520.2,406.3 520.6,405.1 520.9,403.8 521.3,402.5 521.6,401.5 522,400.8 522.3,400.5 522.7,399.6 523,399.2 523.3,398.5 523.7,398 524,397.3 524.4,396.6 524.7,396.2 525.1,395.4 525.4,394.6 525.8,393.8 526.1,393.1 526.4,391.7 526.8,390.5 527.1,389.9 527.5,389.1 527.8,388.1 528.2,387.3 528.5,386.2 528.9,386.4 529.2,386.2 529.5,386.1 529.9,386 530.2,386 530.6,385.9 530.9,385.7 531.3,385.6 531.6,385.6 532,385.5 532.3,385.6 532.6,385.5 533,385.1 533.3,385.2 533.7,385.1 534,385.1 534.4,385 534.7,384.3 535.1,383.5 535.4,382.3 535.7,381.4 536.1,380.3 536.4,379.4 536.8,378.7 537.1,378.4 537.5,378.2 537.8,378.3 538.2,377.9 538.5,377.9 538.8,377.7 539.2,377.8 539.5,378.4 539.9,378.5 540.2,378.9 540.6,379.3 540.9,379.5 541.3,379.8 541.6,380 541.9,380.3 542.3,380 542.6,379.3 543,379.1 543.3,378.6 543.7,377.7 544,377.4 544.4,376.9 544.7,376.2 545,375.6 545.4,375 545.7,375.3 546.1,375.6 546.4,375.8 546.8,376.2 547.1,376.6 547.5,376.9 547.8,377.3 548.1,377.6 548.5,377.8 548.8,377.8 549.2,377.7 549.5,377.6 549.9,377.6 550.2,377 550.6,377.1 550.9,376.2 551.2,375.5 551.6,374.2 551.9,373.5 552.3,372.5 552.6,371.8 553,370.8 553.3,370.7 553.7,370.2 554,370.2 554.3,370.1 554.7,370 555,369.6 555.4,369.4 555.7,369.5 556.1,369 556.4,368.7 556.8,368.4 557.1,367.9 557.4,367.3 557.8,366.9 558.1,366.3 558.5,365.9 558.8,365.2 559.2,364.7 559.5,364.2 559.9,363.5 560.2,363.7 560.5,364.1 560.9,364.2 561.2,364.5 561.6,364.9 561.9,365.4 562.3,365.8 562.6,365.9 563,366.3 563.3,366.6 563.6,367 564,367.2 564.3,367.6 564.7,367.9 565,368.4 565.4,368.6 565.7,368.8 566.1,368.9 566.4,368.3 566.7,367.5 567.1,366.9 567.4,366.2 567.8,365.5 568.1,365.4 568.5,365.1 568.8,365.1 569.2,364.9 569.5,365 569.8,364.8 570.2,364.6 570.5,364.7 570.9,364.9 571.2,365.1 571.6,365.6 571.9,365.9 572.3,366.2 572.6,366.6 572.9,366.7 573.3,367.2 573.6,367.3 574,366.4 574.3,365.9 574.7,365.7 575,365 575.4,364.6 575.7,364 576,363.1 576.4,362.9 576.7,362.2 577.1,361.9 577.4,362.4 577.8,362.7 578.1,363 578.5,363.1 578.8,363.9 579.1,363.9 579.5,364.3 579.8,364.4 580.2,364.5 580.5,364.6 580.9,364.5 581.2,364.4 581.6,364.1 581.9,363.9 582.2,363.2 582.6,362.4 582.9,361.4 583.3,360.7 583.6,359.9 584,358.9 584.3,357.8 584.7,357.7 585,357.2 585.3,356.9 585.7,357 586,356.7 586.4,356.7 586.7,356.8 587.1,356.9 587.4,357.2 587.8,357.2 588.1,356.9 588.4,356.4 588.8,356.3 589.1,356.1 589.5,355.6 589.8,355.4 590.2,355.3 590.5,354.9 590.9,354.7 591.2,354.9 591.5,354.9 591.9,356 592.2,356.5 592.6,357.4 592.9,358.1 593.3,358.8 593.6,359.7 594,360.5 594.3,361.3 594.6,361.7 595,362.7 595.3,363.5 595.7,364.2 596,365.1 596.4,365.9 596.7,366.5 597,367.6 597.4,368.3 597.7,368.2 598.1,368.1 598.4,367.6 598.8,367.6 599.1,367.3 599.5,367.1 599.8,367.7 600.1,368 600.5,368.3 600.8,368.7 601.2,368.9 601.5,369 601.9,369.6 602.2,370.1 602.6,371.1 602.9,371.7 603.2,372.7 603.6,373.2 603.9,374.3 604.3,374.6 604.6,375.5 605,376.3 605.3,376.1 605.7,375.9 606,375.9 606.3,376 606.7,375.7 607,375.5 607.4,375.5 607.7,375.5 608.1,375.3 608.4,375.4 608.8,376.3 609.1,377.1 609.4,377.7 609.8,378.3 610.1,379.4 610.5,380.1 610.8,380.7 611.2,381.7 611.5,382.2 611.9,382.6 612.2,382.8 612.5,383.2 612.9,383.7 613.2,383.9 613.6,383.7 613.9,383.1 614.3,382.7 614.6,382.4 615,382.1 615.3,381.7 615.6,381.3 616,380.9 616.3,381.3 616.7,381.5 617,381.8 617.4,381.9 617.7,382.3 618.1,382.4 618.4,382.4 618.7,383.1 619.1,383.6 619.4,383.7 619.8,383.5 620.1,383.4 620.5,383.3 620.8,383.1 621.2,382.9 621.5,382.9 621.8,383 622.2,382.6 622.5,382.6 622.9,382.6 623.2,383.5 623.6,384.3 623.9,385 624.3,385.7 624.6,386.6 624.9,387.5 625.3,388.1 625.6,388.8 626,389.7 626.3,390.2 626.7,391.3 627,391.9 627.4,392.6 627.7,393.4 628,394.3 628.4,394.9 628.7,395.8 629.1,395.9 629.4,395.7 629.8,395.6 630.1,395.4 630.5,395.3 630.8,395 631.1,395.4 631.5,395.4 631.8,396 632.2,396.3 632.5,396.4 632.9,396.9 633.2,397.3 633.6,397.6 633.9,398.4 634.2,399.3 634.6,400.2 634.9,400.6 635.3,401.6 635.6,402.4 636,403.2 636.3,403.9 636.7,403.9 637,403.9 637.3,403.9 637.7,403.8 638,403.5 638.4,403.5 638.7,403.5 639.1,403.5 639.4,403.4 639.8,403 640.1,403.6 640.4,404.5 640.8,405.2 641.1,405.7 641.5,407.1 641.8,407.6 642.2,408.4 642.5,408.6 642.9,409.1 643.2,409.1 643.5,409 643.9,408.9 644.2,409 644.6,409.2 644.9,408.6 645.3,407.9 645.6,407.2 646,406.5 646.3,405.7 646.6,404.6 647,404.1 647.3,403.1 647.7,403.1 648,403.1 648.4,403 648.7,403 649.1,402.8 649.4,402.9 649.7,402.5 650.1,402.5 650.4,402.4 650.8,402.3 651.1,402.1 651.5,401.7 651.8,401.4 652.2,400.7 652.5,399.8 652.8,399.7 653.2,399.1 653.5,398.8 653.9,398.1 654.2,397.9 654.6,398.2 654.9,398.7 655.3,399.1 655.6,399.5 655.9,399.7 656.3,400.4 656.6,400.7 657,401.1 657.3,401.5 657.7,402.2 658,402.3 658.4,402.7 658.7,403.3 659,403.6 659.4,403.9 659.7,404.5 660.1,404.8 660.4,405.1 660.8,404.3 661.1,403.9 661.5,403.4 661.8,403 662.1,402.3 662.5,402.1 662.8,402.1 663.2,402 663.5,401.9 663.9,402 664.2,402 664.6,402.2 664.9,402.1 665.2,402.7 665.6,403.2 665.9,403.6 666.3,404.1 666.6,404.6 667,405.2 667.3,405.8 667.7,406.2 668,406 668.3,405.7 668.7,405.4 669,405.1 669.4,404.7 669.7,404.4 670.1,403.8 670.4,403.9 670.8,403.1 671.1,402.6 671.4,402.8 671.8,403.5 672.1,403.7 672.5,404.3 672.8,404.8 673.2,405.4 673.5,405.8 673.9,406.3 674.2,406.8 674.5,407 674.9,406.9 675.2,406.9 675.6,407.1 675.9,407.2 676.3,407.2 676.6,406.7 677,405.7 677.3,405.2 677.6,404.6 678,403.6 678.3,402.9 678.7,402.1 679,402.1 679.4,402.1 679.7,401.8 680.1,402.1 680.4,401.9 680.7,401.9 681.1,402 681.4,402 681.8,401.7 682.1,401.9 682.5,401.6 682.8,401.4 683.1,400.8 683.5,400.7 683.8,399.9 684.2,399.8 684.5,399.6 684.9,399.1 685.2,398.8 685.6,398.4 685.9,398.1 686.2,398.7 686.6,399.4 686.9,399.8 687.3,400.2 687.6,400.9 688,401.3 688.3,401.5 688.7,402.1 689,402.7 689.3,403.1 689.7,403.6 690,404.1 690.4,404.6 690.7,405.4 691.1,405.6 691.4,406.1 691.8,406.6 692.1,406.2 692.4,406 692.8,405.8 693.1,405.7 693.5,405.5 693.8,405.3 694.2,405.7 694.5,405.9 694.9,406.4 695.2,406.8 695.5,406.9 695.9,407.2 696.2,407.8 696.6,408.2 696.9,408.9 697.3,409.8 697.6,410.4 698,411.3 698.3,411.9 698.6,412.8 699,413.6 699.3,414.1 699.7,413.8 700,413.9 700.4,413.7 700.7,413.8 701.1,413.5 701.4,413.4 701.7,413.3 702.1,413.1 702.4,412.9 702.8,412.9 703.1,413.8 703.5,414.5 703.8,415.2 704.2,416 704.5,416.8 704.8,417.3 705.2,418.1 705.5,418.8 705.9,419.4 706.2,419.8 706.6,420.2 706.9,420.6 707.3,420.9 707.6,421.2 707.9,421.1 708.3,420.9 708.6,420.2 709,419.7 709.3,419.2 709.7,418.9 710,418.6 710.4,418.2 710.7,418.3 711,418.7 711.4,418.8 711.7,419.2 712.1,419.3 712.4,419.8 712.8,420 713.1,420 713.5,420.5 713.8,420.2 714.1,420.6 714.5,420.1 714.8,420.1 715.2,420 715.5,419.9 715.9,419.7 716.2,419.7 716.6,419.6 716.9,419.5 717.2,419.6 717.6,420.4 717.9,421 718.3,421.8 718.6,422.5 719,423 719.3,424.1 719.7,424.6 720,425.4 720.3,426.3 720.7,426.9 721,427.6 721.4,428.5 721.7,429.3 722.1,429.9 722.4,430.7 722.8,431.5 723.1,432.2 723.4,432.3 723.8,432.3 724.1,431.9 724.5,431.7 724.8,431.3 725.2,431.4 725.5,431.6 725.9,432 726.2,432.2 726.5,432.5 726.9,432.8 727.2,433.1 727.6,433.3 727.9,434.2 728.3,434.6 728.6,435.3 729,436.4 729.3,436.9 729.6,437.8 730,438.4 730.3,439.4 730.7,439.9 731,440 731.4,439.9 731.7,439.7 732.1,439.7 732.4,439.4 732.7,439.5 733.1,439.2 733.4,439.4 733.8,439.3 734.1,439 734.5,439.5 734.8,440.4 735.2,441.2 735.5,441.8 735.8,442.7 736.2,443.4 736.5,444 736.9,444.7 737.2,445.3 737.6,446.2 737.9,446.1 738.3,446.7 738.6,446.9 738.9,447.1 739.3,447.3 739.6,446.8 740,446.4 740.3,446 740.7,445.6 741,445 741.4,444.5 741.7,444.1 742,444.4 742.4,444.5 742.7,444.7 743.1,444.8 743.4,445.1 743.8,445.6 744.1,445.8 744.5,446.2 744.8,446.4 745.1,446.4 745.5,446.4 745.8,446.4 746.2,446.3 746.5,446.1 746.9,446 747.2,446 747.6,445.9 747.9,445.7 748.2,445.6 748.6,445.4 748.9,445.8 749.3,446.8 749.6,447.4 750,448.4 750.3,449.5 750.7,450.1 751,451.4 751.3,452.4 751.7,453.4 752,454 752.4,455.3 752.7,456.4 753.1,457.2 753.4,458.2 753.8,459.2 754.1,460.2 754.4,461.5 754.8,461.8 755.1,461.7 755.5,461.7 755.8,462 756.2,462 756.5,462.1 756.9,462.3 757.2,463 757.5,463.4 757.9,464.2 758.2,464.7 758.6,465.3 758.9,465.8 759.3,466.3 759.6,467.5 760,468.5 760.3,469.4 760.6,470.5 761,471.4 761.3,472.5 761.7,473.4 762,474.5 762.4,474.9 762.7,474.9 763.1,475 763.4,475.2 763.7,475.4 764.1,475.4 764.4,475.5 764.8,475.8 765.1,476.2 765.5,476.1 765.8,476.3 766.2,477.6 766.5,478.6 766.8,479.5 767.2,480.2 767.5,481.4 767.9,482.6 768.2,483.8 768.6,484.7 768.9,485.2 769.2,485.7 769.6,486.4 769.9,487 770.3,487.6 770.6,487.7 771,487.9 771.3,487.7 771.7,487.4 772,487.2 772.3,487 772.7,486.8 773,486.7 773.4,487 773.7,487.5 774.1,487.8 774.4,487.5 774.8,487.2 775.1,486.5 775.4,486.2 775.8,485.5 776.1,485 776.5,484.2 776.8,483.5 777.2,482.9 777.5,481.8 777.9,480.9 778.2,480 778.5,479 778.9,478.2 779.2,477.4 779.6,476.4 779.9,475.4 780.3,475.2 780.6,475 781,474.9 781.3,474.8 781.6,475 782,474.8 782.3,474.6 782.7,474.7 783,474.7 783.4,474.4 783.7,474.3 784.1,474.6 784.4,474.5 784.7,474.5 785.1,474.5 785.4,474.3 785.8,474.1 786.1,474.1 786.5,473.1 786.8,472.3 787.2,471.3 787.5,470.2 787.8,469.3 788.2,468.3 788.5,467.8 788.9,467.4 789.2,466.9 789.6,466.3 789.9,465.8 790.3,465.6 790.6,465.1 790.9,464.9 791.3,464.9 791.6,464.6 792,464.6 792.3,464.7 792.7,464.5 793,464.5 793.4,464.6 793.7,464.2 794,463.5 794.4,462.3 794.7,461.5 795.1,460.8 795.4,459.9 795.8,459.1 796.1,457.9 796.5,457 796.8,456.3 797.1,455.5 797.5,455.2 797.8,455.5 798.2,455.3 798.5,455.3 798.9,455.2 799.2,455.1 799.6,455.2 799.9,455 800.2,454.8 800.6,454.3 800.9,453.9 801.3,453.5 801.6,452.6 802,452.5 802.3,451.3 802.7,450.4 803,449 803.3,447.9 803.7,446.5 804,445.5 804.4,444 804.7,442.9 805.1,442.4 805.4,441.9 805.8,441.4 806.1,440.7 806.4,440.5 806.8,439.6 807.1,439.1 807.5,438.4 807.8,438.1 808.2,437.4 808.5,436.3 808.9,435.5 809.2,434.7 809.5,433.6 809.9,432.8 810.2,431.9 810.6,431 810.9,430.1 811.3,429.1 811.6,428.3 812,428.3 812.3,428.3 812.6,428.1 813,428.2 813.3,428.3 813.7,428.3 814,428.1 814.4,428 814.7,428.1 815.1,428 815.4,428 815.7,428 816.1,427.8 816.4,427.9 816.8,427.8 817.1,428 817.5,427.7 817.8,426.8 818.2,426.2 818.5,425 818.8,424 819.2,423 819.5,422 819.9,421.5 820.2,420.8 820.6,420.8 820.9,420 821.3,419.6 821.6,419.1 821.9,418.7 822.3,418.1 822.6,418.2 823,418.2 823.3,418.4 823.7,418.3 824,418.2 824.4,418.1 824.7,418.1 825,418.1 825.4,417.2 825.7,416.4 826.1,415.2 826.4,414.4 826.8,413.5 827.1,412.8 827.5,411.7 827.8,410.9 828.1,410 828.5,409 828.8,409 829.2,408.8 829.5,408.8 829.9,408.8 830.2,408.8 830.6,408.4 830.9,408.5 831.2,408.6 831.6,408.7 831.9,408.1 832.3,407.6 832.6,407 833,406.6 833.3,405.8 833.7,405.3 834,404.1 834.3,402.8 834.7,401.7 835,400.4 835.4,399.2 835.7,397.8 836.1,396.4 836.4,395.9 836.8,395.5 837.1,395 837.4,394.4 837.8,393.7 838.1,393 838.5,392.9 838.8,392.1 839.2,391.7 839.5,391 839.9,390.2 840.2,389.5 840.5,388.2 840.9,387.7 841.2,386.6 841.6,385.5 841.9,384.7 842.3,383.9 842.6,382.8 843,381.8 843.3,381.8 843.6,381.7 844,381.9 844.3,381.8 844.7,381.7 845,381.8 845.4,381.7 845.7,381.4 846.1,381.4 846.4,381.5 846.7,381.5 847.1,381.4 847.4,381.4 847.8,381.3 848.1,381.2 848.5,381.2 848.8,381.4 849.2,380.7 849.5,379.8 849.8,378.6 850.2,378 850.5,377 850.9,375.9 851.2,375.1 851.6,374.7 851.9,374.5 852.3,373.8 852.6,373.4 852.9,373.1 853.3,372.3 853.6,372.2 854,372.2 854.3,372.1 854.7,372.3 855,372 855.3,372.1 855.7,372 856,372.2 856.4,371.8 856.7,371.4 857.1,370.5 857.4,369.6 857.8,368.8 858.1,367.9 858.4,366.9 858.8,366 859.1,365.2 859.5,364.2 859.8,363.3 860.2,363 860.5,363 860.9,363.1 861.2,363 861.5,362.9 861.9,362.9 862.2,362.9 862.6,363 862.9,362.7 863.3,362.5 863.6,362 864,361.7 864.3,361.1 864.6,360.8 865,360.2 865.3,359.1 865.7,357.8 866,356.6 866.4,355.4 866.7,354.1 867.1,352.8 867.4,351.6 867.7,351 868.1,350.4 868.4,349.7 868.8,349.2 869.1,348.6 869.5,348.4 869.8,347.7 870.2,347.1 870.5,346.6 870.8,346.2 871.2,345.4 871.5,344.5 871.9,343.6 872.2,342.6 872.6,341.7 872.9,340.9 873.3,339.9 873.6,339 873.9,338.3 874.3,337.4 874.6,337 875,337 875.3,336.8 875.7,337 876,336.9 876.4,336.7 876.7,336.7 877,336.7 877.4,336.8 877.7,336.7 878.1,336.7 878.4,336.7 878.8,336.6 879.1,336.7 879.5,336.5 879.8,336.5 880.1,336.6 880.5,336.4 880.8,335.3 881.2,334.6 881.5,333.3 881.9,332.6 882.2,331.7 882.6,330.6 882.9,330.4 883.2,329.9 883.6,329.6 883.9,328.9 884.3,328.7 884.6,328.1 885,327.4 885.3,327.5 885.7,327.5 886,327.5 886.3,327.6 886.7,327.4 887,327.3 887.4,327.4 887.7,327.1 888.1,326.9 888.4,326.1 888.8,325.1 889.1,324.7 889.4,323.6 889.8,322.6 890.1,321.8 890.5,320.9 890.8,319.9 891.2,319.2 891.5,318.2 891.9,318.3 892.2,318.4 892.5,318.3 892.9,318.4 893.2,318.3 893.6,318.1 893.9,318.2 894.3,318.3 894.6,318 895,317.6 895.3,317.1 895.6,316.5 896,316.3 896.3,315.7 896.7,314.5 897,313.7 897.4,312.3 897.7,311 898.1,309.6 898.4,308.6 898.7,307.5 899.1,306.3 899.4,306 899.8,305.3 900.1,305.2 900.5,304.6 900.8,304.2 901.2,303.8 901.5,303 901.8,302.3 902.2,302.2 902.5,301.4 902.9,300.4 903.2,299.8 903.6,298.8 903.9,298.3 904.3,297.3 904.6,296.1 904.9,295.5 905.3,294.6 905.6,293.9 906,293.2 906.3,293.4 906.7,293.3 907,293.5 907.4,293.3 907.7,293.2 908,293.3 908.4,293.2 908.7,293.2 909.1,293.4 909.4,293.4 909.8,293.3 910.1,293.4 910.5,293.3 910.8,293.3 911.1,293.4 911.5,293.2 911.8,293.3 912.2,292.7 912.5,291.7 912.9,290.8 913.2,289.7 913.6,289.1 913.9,288.2 914.2,287.6 914.6,287.3 914.9,286.8 915.3,286.5 915.6,285.9 916,285.3 916.3,285.3 916.7,284.8 917,285.1 917.3,285.1 917.7,284.9 918,285 918.4,285 918.7,285.1 919.1,285.2 919.4,284.9 919.8,284.2 920.1,283.5 920.4,282.7 920.8,281.8 921.1,281 921.5,280 921.8,279.1 922.2,278.5 922.5,277.6 922.9,276.5 923.2,276.4 923.5,276.6 923.9,276.8 924.2,276.5 924.6,276.5 924.9,276.7 925.3,276.7 925.6,276.6 926,276.5 926.3,276.4 926.6,275.8 927,275.6 927.3,274.8 927.7,274.6 928,273.8 928.4,272.7 928.7,271.6 929.1,270.3 929.4,269.2 929.7,268 930.1,266.7 930.4,265.5 930.8,265 931.1,264.7 931.5,264 931.8,263.4 932.2,263.2 932.5,262.8 932.8,262 933.2,261.7 933.5,261.1 933.9,260.5 934.2,259.9 934.6,258.8 934.9,258.2 935.3,257.3 935.6,256.3 935.9,255.7 936.3,254.6 936.6,253.8 937,253.1 937.3,252.3 937.7,252.1 938,252.1" fill="none" stroke="#0072B2" stroke-width="2.15" stroke-linejoin="round" stroke-linecap="butt"/>
<path d="M938,252.1 938,259.4 938.1,259.3 938.2,260.2 938.3,259.8 938.3,260.1 938.4,250.3 938.5,250.1 938.6,259.7 938.7,260.2 938.8,259.8 938.9,260.1 938.9,259.5 939,250.1 939.1,250 939.2,259.8 939.3,260.1 939.4,260 939.5,259.9 939.5,260 939.6,249.7 939.7,250.1 939.8,259.6 939.9,259.6 940,259.9 940.1,260 940.2,259.7 940.2,249.7 940.3,249.6 940.4,259.7 940.5,259.7 940.6,260.4 940.7,259.5 940.8,259.8 940.8,250.3 940.9,250.1 941,259.9 941.1,260.3 941.2,260.3 941.3,260.3 941.4,259.8 941.4,250.2 941.5,250.2 941.6,259.7 941.7,260.2 941.8,260 941.9,259.7 942,260 942,250.1 942.1,250 942.2,259.9 942.3,259.4 942.4,259.8 942.5,259.9 942.6,259.3 942.6,250.2 942.7,250 942.8,260.1 942.9,260 943,259.8 943.1,259.3 943.2,259.8 943.3,249.6 943.3,249.8 943.4,259.7 943.5,259.7 943.6,260 943.7,260.1 943.8,259.9 943.9,249.7 943.9,249.8 944,260 944.1,260.4 944.2,259.7 944.3,259.7" fill="none" stroke="#0072B2" stroke-width="2.15" stroke-linejoin="round" stroke-linecap="butt"/>
<g fill="#f00" fill-opacity="0.6" stroke="#f00" stroke-opacity="0.6" stroke-width="1.39">
<circle cx="941.5" cy="169.3" r="2.08"/>
<circle cx="941.5" cy="175.8" r="2.08"/>
<circle cx="941.5" cy="175.9" r="2.08"/>
<circle cx="941.2" cy="181.5" r="2.08"/>
<circle cx="941.1" cy="182.2" r="2.08"/>
<circle cx="940.8" cy="183.2" r="2.08"/>
<circle cx="940.5" cy="189.5" r="2.08"/>
<circle cx="940.4" cy="190.3" r="2.08"/>
<circle cx="940" cy="192.5" r="2.08"/>
<circle cx="939.8" cy="195.5" r="2.08"/>
<circle cx="941.5" cy="196.5" r="2.08"/>
<circle cx="940" cy="199.5" r="2.08"/>
<circle cx="939.5" cy="202.5" r="2.08"/>
<circle cx="939.3" cy="209.5" r="2.08"/>
<circle cx="939.3" cy="217.2" r="2.08"/>
</g>
</g>
<rect x="79.5" y="15.5" width="906.0" height="527.0" fill="none" stroke="#000" stroke-width="1.11"/>
<g stroke="#000" stroke-width="1.11">
<path d="M152.5,542.5v5"/>
<path d="M278.5,542.5v5"/>
<path d="M404.5,542.5v5"/>
<path d="M530.5,542.5v5"/>
<path d="M655.5,542.5v5"/>
<path d="M781.5,542.5v5"/>
<path d="M907.5,542.5v5"/>
<path d="M79.5,492.5h-5.4"/>
<path d="M79.5,411.5h-5.4"/>
<path d="M79.5,329.5h-5.4"/>
<path d="M79.5,248.5h-5.4"/>
<path d="M79.5,166.5h-5.4"/>
<path d="M79.5,85.5h-5.4"/>
</g>
<g font-family="'DejaVu Sans', 'Liberation Sans', sans-serif" font-size="13.89" fill="#000">
<text x="152.6" y="562.3" text-anchor="middle">2001</text>
<text x="278.4" y="562.3" text-anchor="middle">2005</text>
<text x="404.2" y="562.3" text-anchor="middle">2009</text>
<text x="530.1" y="562.3" text-anchor="middle">2013</text>
<text x="655.8" y="562.3" text-anchor="middle">2017</text>
<text x="781.6" y="562.3" text-anchor="middle">2021</text>
<text x="907.5" y="562.3" text-anchor="middle">2025</text>
<text x="70.2" y="496.9" text-anchor="end">0</text>
<text x="70.2" y="415.5" text-anchor="end">500</text>
<text x="70.2" y="334.1" text-anchor="end">1000</text>
<text x="70.2" y="252.7" text-anchor="end">1500</text>
<text x="70.2" y="171.3" text-anchor="end">2000</text>
<text x="70.2" y="89.9" text-anchor="end">2500</text>
<text x="532.6" y="581.7" text-anchor="middle">ds</text>
<text transform="translate(25.1,278.8) rotate(-90)" text-anchor="middle">y</text>
</g>
</svg>
</body></html>
